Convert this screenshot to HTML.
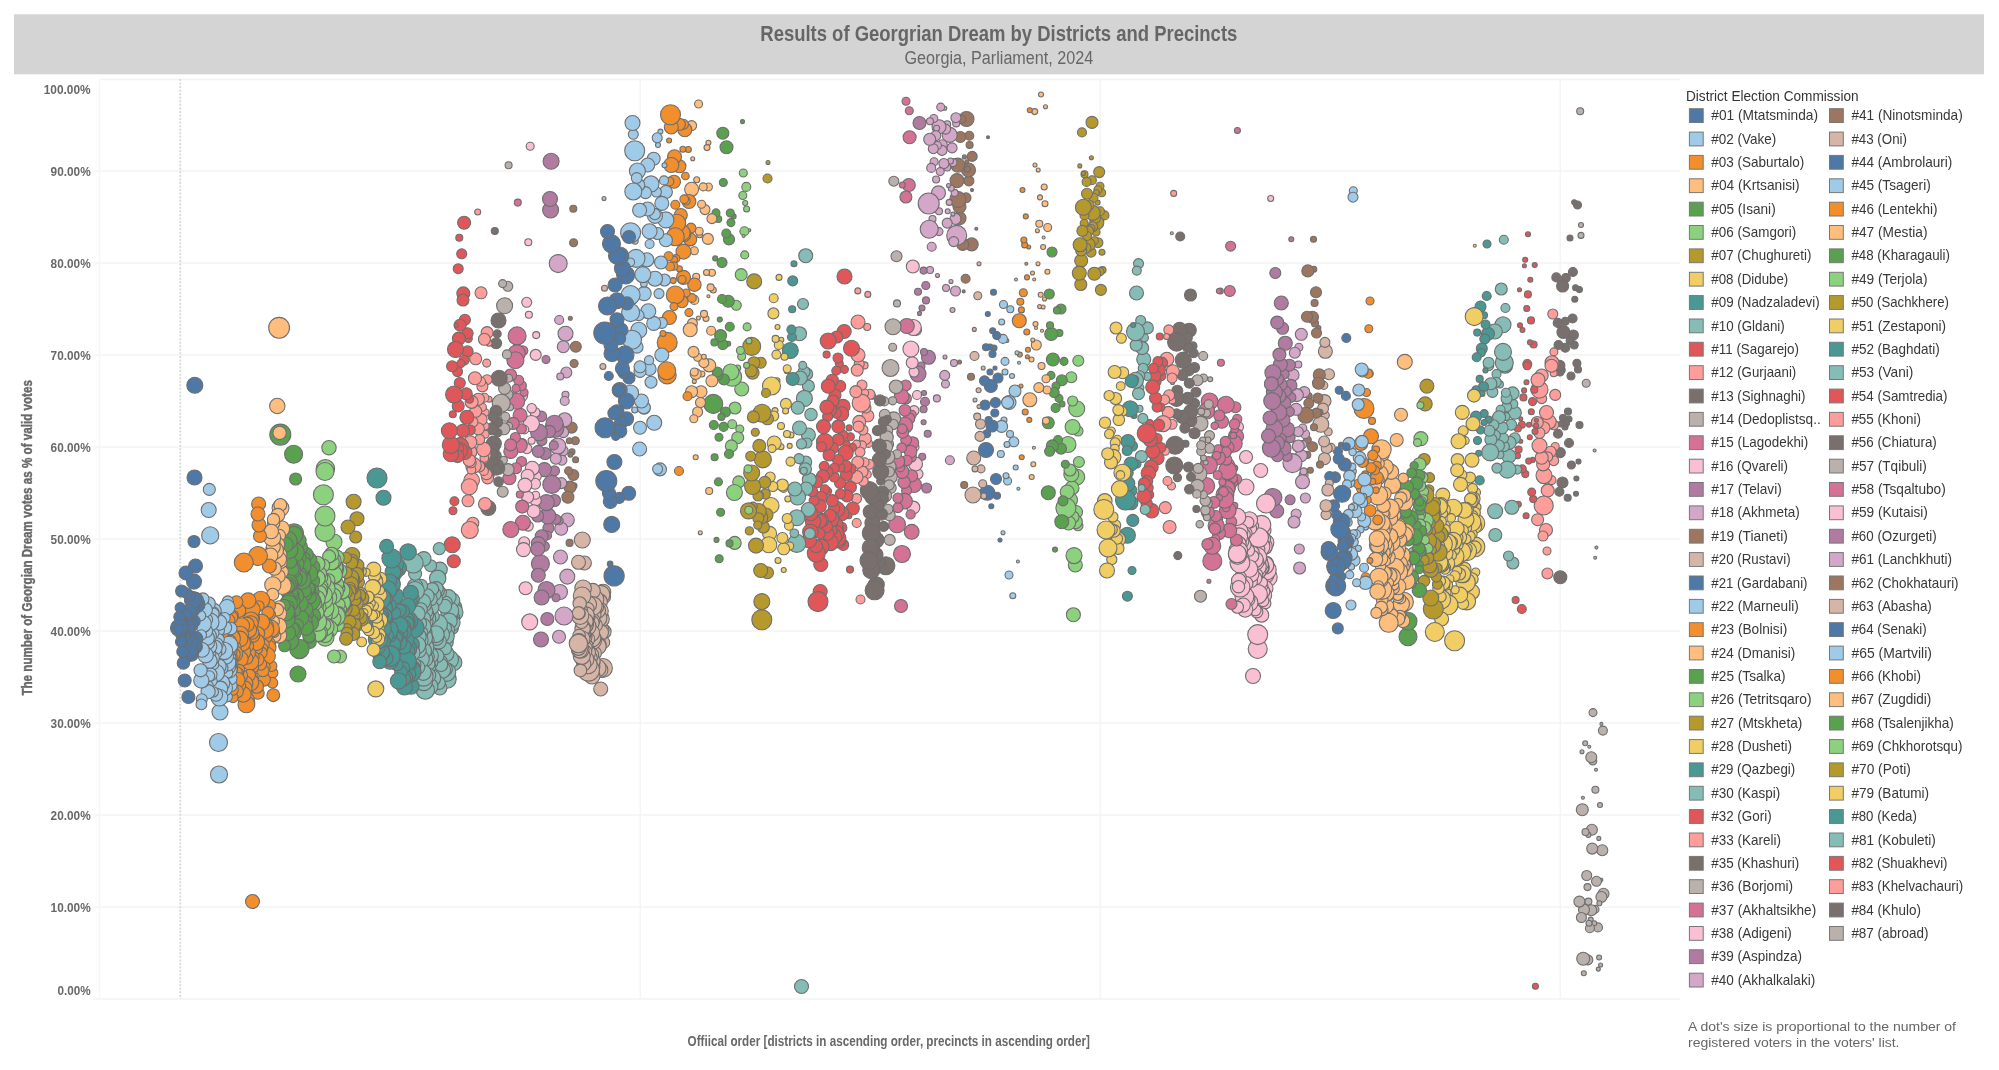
<!DOCTYPE html>
<html lang="en"><head><meta charset="utf-8"><title>Results of Georgrian Dream by Districts and Precincts</title>
<style>
html,body{margin:0;padding:0;background:#fff;overflow:hidden}
svg{display:block;will-change:transform}
text{font-family:"Liberation Sans",sans-serif}
.b{font-weight:bold;fill:#686868}
.l{font-size:14.4px;fill:#383838}
.g{stroke:#f3f3f3;stroke-width:1.5}
.c0{fill:#4E79A7}
.c1{fill:#A0CBE8}
.c2{fill:#F28E2B}
.c3{fill:#FFBE7D}
.c4{fill:#59A14F}
.c5{fill:#8CD17D}
.c6{fill:#B6992D}
.c7{fill:#F1CE63}
.c8{fill:#499894}
.c9{fill:#86BCB6}
.c10{fill:#E15759}
.c11{fill:#FF9D9A}
.c12{fill:#79706E}
.c13{fill:#BAB0AC}
.c14{fill:#D37295}
.c15{fill:#FABFD2}
.c16{fill:#B07AA1}
.c17{fill:#D4A6C8}
.c18{fill:#9D7660}
.c19{fill:#D7B5A6}
</style></head>
<body>
<svg width="1999" height="1070" viewBox="0 0 1999 1070">
<rect width="1999" height="1070" fill="#fff"/>
<rect x="14" y="14.3" width="1970" height="60" fill="#d4d4d4"/>
<text class="b" x="760.3" y="40.8" font-size="21.4" textLength="477" lengthAdjust="spacingAndGlyphs" style="fill:#666">Results of Georgrian Dream by Districts and Precincts</text>
<text x="904.5" y="64" font-size="17.6" textLength="188.8" lengthAdjust="spacingAndGlyphs" fill="#666">Georgia, Parliament, 2024</text>
<g class="g">
<line x1="93.5" y1="999" x2="1680" y2="999"/>
<line x1="93.5" y1="907" x2="1680" y2="907"/>
<line x1="93.5" y1="815" x2="1680" y2="815"/>
<line x1="93.5" y1="723" x2="1680" y2="723"/>
<line x1="93.5" y1="631" x2="1680" y2="631"/>
<line x1="93.5" y1="539" x2="1680" y2="539"/>
<line x1="93.5" y1="447" x2="1680" y2="447"/>
<line x1="93.5" y1="355" x2="1680" y2="355"/>
<line x1="93.5" y1="263" x2="1680" y2="263"/>
<line x1="93.5" y1="171" x2="1680" y2="171"/>
<line x1="99.5" y1="79.5" x2="1680" y2="79.5"/>
<line x1="99.6" y1="79" x2="99.6" y2="999" stroke="#f5f5f5"/>
<line x1="640.3" y1="79" x2="640.3" y2="999" stroke="#f5f5f5"/>
<line x1="1100.3" y1="79" x2="1100.3" y2="999" stroke="#f5f5f5"/>
<line x1="1560.3" y1="79" x2="1560.3" y2="999" stroke="#f5f5f5"/>
</g>
<line x1="180.3" y1="79" x2="180.3" y2="999" stroke="#d9d9d9" stroke-width="1.9" stroke-dasharray="2 1.55"/>
<text class="b" x="57.5" y="994.8" font-size="13.4" textLength="33.2" lengthAdjust="spacingAndGlyphs">0.00%</text>
<text class="b" x="50.6" y="911.8" font-size="13.4" textLength="40.1" lengthAdjust="spacingAndGlyphs">10.00%</text>
<text class="b" x="50.6" y="819.8" font-size="13.4" textLength="40.1" lengthAdjust="spacingAndGlyphs">20.00%</text>
<text class="b" x="50.6" y="727.8" font-size="13.4" textLength="40.1" lengthAdjust="spacingAndGlyphs">30.00%</text>
<text class="b" x="50.6" y="635.8" font-size="13.4" textLength="40.1" lengthAdjust="spacingAndGlyphs">40.00%</text>
<text class="b" x="50.6" y="543.8" font-size="13.4" textLength="40.1" lengthAdjust="spacingAndGlyphs">50.00%</text>
<text class="b" x="50.6" y="451.8" font-size="13.4" textLength="40.1" lengthAdjust="spacingAndGlyphs">60.00%</text>
<text class="b" x="50.6" y="359.8" font-size="13.4" textLength="40.1" lengthAdjust="spacingAndGlyphs">70.00%</text>
<text class="b" x="50.6" y="267.8" font-size="13.4" textLength="40.1" lengthAdjust="spacingAndGlyphs">80.00%</text>
<text class="b" x="50.6" y="175.8" font-size="13.4" textLength="40.1" lengthAdjust="spacingAndGlyphs">90.00%</text>
<text class="b" x="43.7" y="93.8" font-size="13.4" textLength="47.0" lengthAdjust="spacingAndGlyphs">100.00%</text>
<text class="b" transform="translate(31.6 695.6) rotate(-90)" font-size="13.9" stroke="#686868" stroke-width="0.4" textLength="315.5" lengthAdjust="spacingAndGlyphs">The number of Georgian Dream votes as % of valid votes</text>
<text class="b" x="687.6" y="1046" font-size="13.9" textLength="402.3" lengthAdjust="spacingAndGlyphs">Offiical order [districts in ascending order, precincts in ascending order]</text>
<text x="1686" y="100.5" font-size="14.8" textLength="172.6" lengthAdjust="spacingAndGlyphs" fill="#333">District Election Commission</text>
<g stroke="#777" stroke-width="1">
<rect class="c0" x="1689.4" y="108.7" width="13.8" height="13.8"/>
<rect class="c1" x="1689.4" y="132.1" width="13.8" height="13.8"/>
<rect class="c2" x="1689.4" y="155.4" width="13.8" height="13.8"/>
<rect class="c3" x="1689.4" y="178.8" width="13.8" height="13.8"/>
<rect class="c4" x="1689.4" y="202.2" width="13.8" height="13.8"/>
<rect class="c5" x="1689.4" y="225.5" width="13.8" height="13.8"/>
<rect class="c6" x="1689.4" y="248.9" width="13.8" height="13.8"/>
<rect class="c7" x="1689.4" y="272.3" width="13.8" height="13.8"/>
<rect class="c8" x="1689.4" y="295.6" width="13.8" height="13.8"/>
<rect class="c9" x="1689.4" y="319.0" width="13.8" height="13.8"/>
<rect class="c10" x="1689.4" y="342.3" width="13.8" height="13.8"/>
<rect class="c11" x="1689.4" y="365.7" width="13.8" height="13.8"/>
<rect class="c12" x="1689.4" y="389.1" width="13.8" height="13.8"/>
<rect class="c13" x="1689.4" y="412.4" width="13.8" height="13.8"/>
<rect class="c14" x="1689.4" y="435.8" width="13.8" height="13.8"/>
<rect class="c15" x="1689.4" y="459.2" width="13.8" height="13.8"/>
<rect class="c16" x="1689.4" y="482.5" width="13.8" height="13.8"/>
<rect class="c17" x="1689.4" y="505.9" width="13.8" height="13.8"/>
<rect class="c18" x="1689.4" y="529.3" width="13.8" height="13.8"/>
<rect class="c19" x="1689.4" y="552.6" width="13.8" height="13.8"/>
<rect class="c0" x="1689.4" y="576.0" width="13.8" height="13.8"/>
<rect class="c1" x="1689.4" y="599.4" width="13.8" height="13.8"/>
<rect class="c2" x="1689.4" y="622.7" width="13.8" height="13.8"/>
<rect class="c3" x="1689.4" y="646.1" width="13.8" height="13.8"/>
<rect class="c4" x="1689.4" y="669.5" width="13.8" height="13.8"/>
<rect class="c5" x="1689.4" y="692.8" width="13.8" height="13.8"/>
<rect class="c6" x="1689.4" y="716.2" width="13.8" height="13.8"/>
<rect class="c7" x="1689.4" y="739.6" width="13.8" height="13.8"/>
<rect class="c8" x="1689.4" y="762.9" width="13.8" height="13.8"/>
<rect class="c9" x="1689.4" y="786.3" width="13.8" height="13.8"/>
<rect class="c10" x="1689.4" y="809.6" width="13.8" height="13.8"/>
<rect class="c11" x="1689.4" y="833.0" width="13.8" height="13.8"/>
<rect class="c12" x="1689.4" y="856.4" width="13.8" height="13.8"/>
<rect class="c13" x="1689.4" y="879.7" width="13.8" height="13.8"/>
<rect class="c14" x="1689.4" y="903.1" width="13.8" height="13.8"/>
<rect class="c15" x="1689.4" y="926.5" width="13.8" height="13.8"/>
<rect class="c16" x="1689.4" y="949.8" width="13.8" height="13.8"/>
<rect class="c17" x="1689.4" y="973.2" width="13.8" height="13.8"/>
<rect class="c18" x="1829.5" y="108.7" width="13.8" height="13.8"/>
<rect class="c19" x="1829.5" y="132.1" width="13.8" height="13.8"/>
<rect class="c0" x="1829.5" y="155.4" width="13.8" height="13.8"/>
<rect class="c1" x="1829.5" y="178.8" width="13.8" height="13.8"/>
<rect class="c2" x="1829.5" y="202.2" width="13.8" height="13.8"/>
<rect class="c3" x="1829.5" y="225.5" width="13.8" height="13.8"/>
<rect class="c4" x="1829.5" y="248.9" width="13.8" height="13.8"/>
<rect class="c5" x="1829.5" y="272.3" width="13.8" height="13.8"/>
<rect class="c6" x="1829.5" y="295.6" width="13.8" height="13.8"/>
<rect class="c7" x="1829.5" y="319.0" width="13.8" height="13.8"/>
<rect class="c8" x="1829.5" y="342.3" width="13.8" height="13.8"/>
<rect class="c9" x="1829.5" y="365.7" width="13.8" height="13.8"/>
<rect class="c10" x="1829.5" y="389.1" width="13.8" height="13.8"/>
<rect class="c11" x="1829.5" y="412.4" width="13.8" height="13.8"/>
<rect class="c12" x="1829.5" y="435.8" width="13.8" height="13.8"/>
<rect class="c13" x="1829.5" y="459.2" width="13.8" height="13.8"/>
<rect class="c14" x="1829.5" y="482.5" width="13.8" height="13.8"/>
<rect class="c15" x="1829.5" y="505.9" width="13.8" height="13.8"/>
<rect class="c16" x="1829.5" y="529.3" width="13.8" height="13.8"/>
<rect class="c17" x="1829.5" y="552.6" width="13.8" height="13.8"/>
<rect class="c18" x="1829.5" y="576.0" width="13.8" height="13.8"/>
<rect class="c19" x="1829.5" y="599.4" width="13.8" height="13.8"/>
<rect class="c0" x="1829.5" y="622.7" width="13.8" height="13.8"/>
<rect class="c1" x="1829.5" y="646.1" width="13.8" height="13.8"/>
<rect class="c2" x="1829.5" y="669.5" width="13.8" height="13.8"/>
<rect class="c3" x="1829.5" y="692.8" width="13.8" height="13.8"/>
<rect class="c4" x="1829.5" y="716.2" width="13.8" height="13.8"/>
<rect class="c5" x="1829.5" y="739.6" width="13.8" height="13.8"/>
<rect class="c6" x="1829.5" y="762.9" width="13.8" height="13.8"/>
<rect class="c7" x="1829.5" y="786.3" width="13.8" height="13.8"/>
<rect class="c8" x="1829.5" y="809.6" width="13.8" height="13.8"/>
<rect class="c9" x="1829.5" y="833.0" width="13.8" height="13.8"/>
<rect class="c10" x="1829.5" y="856.4" width="13.8" height="13.8"/>
<rect class="c11" x="1829.5" y="879.7" width="13.8" height="13.8"/>
<rect class="c12" x="1829.5" y="903.1" width="13.8" height="13.8"/>
<rect class="c13" x="1829.5" y="926.5" width="13.8" height="13.8"/>
</g>
<g class="l">
<text x="1711.3" y="120.2" textLength="106.7" lengthAdjust="spacingAndGlyphs">#01 (Mtatsminda)</text>
<text x="1711.3" y="143.6" textLength="64.9" lengthAdjust="spacingAndGlyphs">#02 (Vake)</text>
<text x="1711.3" y="166.9" textLength="93.0" lengthAdjust="spacingAndGlyphs">#03 (Saburtalo)</text>
<text x="1711.3" y="190.3" textLength="88.4" lengthAdjust="spacingAndGlyphs">#04 (Krtsanisi)</text>
<text x="1711.3" y="213.7" textLength="64.4" lengthAdjust="spacingAndGlyphs">#05 (Isani)</text>
<text x="1711.3" y="237.0" textLength="85.0" lengthAdjust="spacingAndGlyphs">#06 (Samgori)</text>
<text x="1711.3" y="260.4" textLength="100.1" lengthAdjust="spacingAndGlyphs">#07 (Chughureti)</text>
<text x="1711.3" y="283.8" textLength="77.0" lengthAdjust="spacingAndGlyphs">#08 (Didube)</text>
<text x="1711.3" y="307.1" textLength="108.4" lengthAdjust="spacingAndGlyphs">#09 (Nadzaladevi)</text>
<text x="1711.3" y="330.5" textLength="73.5" lengthAdjust="spacingAndGlyphs">#10 (Gldani)</text>
<text x="1711.3" y="353.8" textLength="87.7" lengthAdjust="spacingAndGlyphs">#11 (Sagarejo)</text>
<text x="1711.3" y="377.2" textLength="85.0" lengthAdjust="spacingAndGlyphs">#12 (Gurjaani)</text>
<text x="1711.3" y="400.6" textLength="94.2" lengthAdjust="spacingAndGlyphs">#13 (Sighnaghi)</text>
<text x="1711.3" y="423.9" textLength="109.4" lengthAdjust="spacingAndGlyphs">#14 (Dedoplistsq..</text>
<text x="1711.3" y="447.3" textLength="97.0" lengthAdjust="spacingAndGlyphs">#15 (Lagodekhi)</text>
<text x="1711.3" y="470.7" textLength="76.7" lengthAdjust="spacingAndGlyphs">#16 (Qvareli)</text>
<text x="1711.3" y="494.0" textLength="70.4" lengthAdjust="spacingAndGlyphs">#17 (Telavi)</text>
<text x="1711.3" y="517.4" textLength="88.5" lengthAdjust="spacingAndGlyphs">#18 (Akhmeta)</text>
<text x="1711.3" y="540.8" textLength="76.5" lengthAdjust="spacingAndGlyphs">#19 (Tianeti)</text>
<text x="1711.3" y="564.1" textLength="79.3" lengthAdjust="spacingAndGlyphs">#20 (Rustavi)</text>
<text x="1711.3" y="587.5" textLength="96.2" lengthAdjust="spacingAndGlyphs">#21 (Gardabani)</text>
<text x="1711.3" y="610.9" textLength="87.4" lengthAdjust="spacingAndGlyphs">#22 (Marneuli)</text>
<text x="1711.3" y="634.2" textLength="76.0" lengthAdjust="spacingAndGlyphs">#23 (Bolnisi)</text>
<text x="1711.3" y="657.6" textLength="83.9" lengthAdjust="spacingAndGlyphs">#24 (Dmanisi)</text>
<text x="1711.3" y="681.0" textLength="74.2" lengthAdjust="spacingAndGlyphs">#25 (Tsalka)</text>
<text x="1711.3" y="704.3" textLength="100.3" lengthAdjust="spacingAndGlyphs">#26 (Tetritsqaro)</text>
<text x="1711.3" y="727.7" textLength="91.1" lengthAdjust="spacingAndGlyphs">#27 (Mtskheta)</text>
<text x="1711.3" y="751.1" textLength="80.7" lengthAdjust="spacingAndGlyphs">#28 (Dusheti)</text>
<text x="1711.3" y="774.4" textLength="83.9" lengthAdjust="spacingAndGlyphs">#29 (Qazbegi)</text>
<text x="1711.3" y="797.8" textLength="68.9" lengthAdjust="spacingAndGlyphs">#30 (Kaspi)</text>
<text x="1711.3" y="821.1" textLength="60.3" lengthAdjust="spacingAndGlyphs">#32 (Gori)</text>
<text x="1711.3" y="844.5" textLength="69.6" lengthAdjust="spacingAndGlyphs">#33 (Kareli)</text>
<text x="1711.3" y="867.9" textLength="87.8" lengthAdjust="spacingAndGlyphs">#35 (Khashuri)</text>
<text x="1711.3" y="891.2" textLength="81.8" lengthAdjust="spacingAndGlyphs">#36 (Borjomi)</text>
<text x="1711.3" y="914.6" textLength="104.9" lengthAdjust="spacingAndGlyphs">#37 (Akhaltsikhe)</text>
<text x="1711.3" y="938.0" textLength="80.5" lengthAdjust="spacingAndGlyphs">#38 (Adigeni)</text>
<text x="1711.3" y="961.3" textLength="90.7" lengthAdjust="spacingAndGlyphs">#39 (Aspindza)</text>
<text x="1711.3" y="984.7" textLength="103.9" lengthAdjust="spacingAndGlyphs">#40 (Akhalkalaki)</text>
<text x="1851.4" y="120.2" textLength="111.3" lengthAdjust="spacingAndGlyphs">#41 (Ninotsminda)</text>
<text x="1851.4" y="143.6" textLength="55.6" lengthAdjust="spacingAndGlyphs">#43 (Oni)</text>
<text x="1851.4" y="166.9" textLength="101.0" lengthAdjust="spacingAndGlyphs">#44 (Ambrolauri)</text>
<text x="1851.4" y="190.3" textLength="79.3" lengthAdjust="spacingAndGlyphs">#45 (Tsageri)</text>
<text x="1851.4" y="213.7" textLength="86.2" lengthAdjust="spacingAndGlyphs">#46 (Lentekhi)</text>
<text x="1851.4" y="237.0" textLength="76.1" lengthAdjust="spacingAndGlyphs">#47 (Mestia)</text>
<text x="1851.4" y="260.4" textLength="98.6" lengthAdjust="spacingAndGlyphs">#48 (Kharagauli)</text>
<text x="1851.4" y="283.8" textLength="76.1" lengthAdjust="spacingAndGlyphs">#49 (Terjola)</text>
<text x="1851.4" y="307.1" textLength="97.5" lengthAdjust="spacingAndGlyphs">#50 (Sachkhere)</text>
<text x="1851.4" y="330.5" textLength="94.7" lengthAdjust="spacingAndGlyphs">#51 (Zestaponi)</text>
<text x="1851.4" y="353.8" textLength="88.4" lengthAdjust="spacingAndGlyphs">#52 (Baghdati)</text>
<text x="1851.4" y="377.2" textLength="62.0" lengthAdjust="spacingAndGlyphs">#53 (Vani)</text>
<text x="1851.4" y="400.6" textLength="96.1" lengthAdjust="spacingAndGlyphs">#54 (Samtredia)</text>
<text x="1851.4" y="423.9" textLength="69.5" lengthAdjust="spacingAndGlyphs">#55 (Khoni)</text>
<text x="1851.4" y="447.3" textLength="85.4" lengthAdjust="spacingAndGlyphs">#56 (Chiatura)</text>
<text x="1851.4" y="470.7" textLength="75.4" lengthAdjust="spacingAndGlyphs">#57 (Tqibuli)</text>
<text x="1851.4" y="494.0" textLength="94.4" lengthAdjust="spacingAndGlyphs">#58 (Tsqaltubo)</text>
<text x="1851.4" y="517.4" textLength="76.5" lengthAdjust="spacingAndGlyphs">#59 (Kutaisi)</text>
<text x="1851.4" y="540.8" textLength="85.4" lengthAdjust="spacingAndGlyphs">#60 (Ozurgeti)</text>
<text x="1851.4" y="564.1" textLength="100.7" lengthAdjust="spacingAndGlyphs">#61 (Lanchkhuti)</text>
<text x="1851.4" y="587.5" textLength="107.2" lengthAdjust="spacingAndGlyphs">#62 (Chokhatauri)</text>
<text x="1851.4" y="610.9" textLength="80.4" lengthAdjust="spacingAndGlyphs">#63 (Abasha)</text>
<text x="1851.4" y="634.2" textLength="75.3" lengthAdjust="spacingAndGlyphs">#64 (Senaki)</text>
<text x="1851.4" y="657.6" textLength="80.5" lengthAdjust="spacingAndGlyphs">#65 (Martvili)</text>
<text x="1851.4" y="681.0" textLength="69.7" lengthAdjust="spacingAndGlyphs">#66 (Khobi)</text>
<text x="1851.4" y="704.3" textLength="80.0" lengthAdjust="spacingAndGlyphs">#67 (Zugdidi)</text>
<text x="1851.4" y="727.7" textLength="102.5" lengthAdjust="spacingAndGlyphs">#68 (Tsalenjikha)</text>
<text x="1851.4" y="751.1" textLength="111.1" lengthAdjust="spacingAndGlyphs">#69 (Chkhorotsqu)</text>
<text x="1851.4" y="774.4" textLength="59.5" lengthAdjust="spacingAndGlyphs">#70 (Poti)</text>
<text x="1851.4" y="797.8" textLength="77.7" lengthAdjust="spacingAndGlyphs">#79 (Batumi)</text>
<text x="1851.4" y="821.1" textLength="65.5" lengthAdjust="spacingAndGlyphs">#80 (Keda)</text>
<text x="1851.4" y="844.5" textLength="84.4" lengthAdjust="spacingAndGlyphs">#81 (Kobuleti)</text>
<text x="1851.4" y="867.9" textLength="96.1" lengthAdjust="spacingAndGlyphs">#82 (Shuakhevi)</text>
<text x="1851.4" y="891.2" textLength="111.8" lengthAdjust="spacingAndGlyphs">#83 (Khelvachauri)</text>
<text x="1851.4" y="914.6" textLength="69.5" lengthAdjust="spacingAndGlyphs">#84 (Khulo)</text>
<text x="1851.4" y="938.0" textLength="77.0" lengthAdjust="spacingAndGlyphs">#87 (abroad)</text>
</g>
<text x="1688" y="1030.7" font-size="13.2" fill="#666" textLength="268" lengthAdjust="spacingAndGlyphs">A dot's size is proportional to the number of</text>
<text x="1688" y="1047.3" font-size="13.2" fill="#666" textLength="211.5" lengthAdjust="spacingAndGlyphs">registered voters in the voters' list.</text>
<g stroke="#6e6e6e" stroke-width="1.1">
<g class="c13"><circle cx="1603.5" cy="893.8" r="5.5"/><circle cx="1602.9" cy="730.6" r="4.5"/><circle cx="1602.3" cy="850.3" r="5.5"/><circle cx="1601.4" cy="897.0" r="5.5"/><circle cx="1601.4" cy="879.9" r="1.5"/><circle cx="1601.4" cy="723.9" r="1.5"/><circle cx="1600.6" cy="965.0" r="2.0"/><circle cx="1600.0" cy="805.0" r="2.5"/><circle cx="1599.4" cy="903.3" r="2.5"/><circle cx="1599.1" cy="957.5" r="2.5"/><circle cx="1598.8" cy="838.4" r="2.0"/><circle cx="1598.3" cy="969.1" r="2.0"/><circle cx="1598.0" cy="927.4" r="4.5"/><circle cx="1596.5" cy="881.3" r="5.0"/><circle cx="1596.4" cy="547.6" r="1.5"/><circle cx="1596.0" cy="769.7" r="1.5"/><circle cx="1595.4" cy="789.7" r="3.5"/><circle cx="1595.2" cy="557.8" r="1.5"/><circle cx="1595.0" cy="909.4" r="4.0"/><circle cx="1594.6" cy="450.5" r="1.5"/><circle cx="1594.2" cy="923.3" r="2.5"/><circle cx="1593.0" cy="712.6" r="4.0"/><circle cx="1592.8" cy="761.0" r="4.0"/><circle cx="1592.2" cy="848.6" r="5.5"/><circle cx="1591.9" cy="829.7" r="5.5"/><circle cx="1591.3" cy="910.3" r="5.5"/><circle cx="1591.3" cy="757.2" r="5.5"/><circle cx="1590.7" cy="919.6" r="2.5"/><circle cx="1589.9" cy="928.3" r="4.5"/><circle cx="1589.3" cy="746.8" r="1.5"/><circle cx="1589.0" cy="923.3" r="3.0"/><circle cx="1588.4" cy="901.6" r="3.5"/><circle cx="1588.4" cy="834.9" r="2.5"/><circle cx="1587.8" cy="959.9" r="5.0"/><circle cx="1587.5" cy="887.1" r="3.5"/><circle cx="1586.7" cy="875.5" r="5.0"/><circle cx="1586.2" cy="383.3" r="4.0"/><circle cx="1585.5" cy="832.0" r="3.5"/><circle cx="1585.2" cy="743.3" r="2.5"/><circle cx="1584.0" cy="909.7" r="5.5"/><circle cx="1583.8" cy="973.2" r="2.5"/><circle cx="1583.2" cy="958.7" r="6.5"/><circle cx="1582.9" cy="797.8" r="1.5"/><circle cx="1582.3" cy="809.7" r="6.0"/><circle cx="1582.0" cy="751.7" r="2.0"/><circle cx="1581.4" cy="917.5" r="5.0"/><circle cx="1581.0" cy="235.4" r="3.0"/><circle cx="1581.0" cy="225.0" r="2.5"/><circle cx="1580.2" cy="111.3" r="3.5"/><circle cx="1579.4" cy="901.6" r="5.5"/></g>
<g class="c12"><circle cx="1579.5" cy="425.0" r="3.5"/><circle cx="1579.4" cy="289.6" r="3.0"/><circle cx="1578.5" cy="461.6" r="2.5"/><circle cx="1578.0" cy="369.5" r="3.5"/><circle cx="1577.5" cy="205.0" r="4.0"/><circle cx="1576.9" cy="363.2" r="4.0"/><circle cx="1576.4" cy="478.5" r="2.5"/><circle cx="1576.0" cy="493.7" r="2.5"/><circle cx="1575.6" cy="287.7" r="3.0"/><circle cx="1574.8" cy="299.3" r="3.0"/><circle cx="1574.2" cy="345.0" r="4.0"/><circle cx="1574.2" cy="202.3" r="2.5"/><circle cx="1573.4" cy="335.0" r="5.0"/><circle cx="1572.9" cy="272.0" r="4.5"/><circle cx="1572.6" cy="318.5" r="4.5"/><circle cx="1571.4" cy="465.0" r="4.0"/><circle cx="1571.0" cy="376.0" r="4.0"/><circle cx="1570.1" cy="340.5" r="4.0"/><circle cx="1570.0" cy="238.0" r="3.0"/><circle cx="1569.0" cy="443.0" r="4.5"/><circle cx="1569.0" cy="419.0" r="3.0"/><circle cx="1568.0" cy="411.6" r="3.5"/><circle cx="1567.7" cy="497.7" r="3.5"/><circle cx="1566.0" cy="423.0" r="3.5"/><circle cx="1565.8" cy="278.0" r="4.5"/><circle cx="1565.3" cy="347.8" r="4.5"/><circle cx="1565.3" cy="321.3" r="4.0"/><circle cx="1565.0" cy="427.0" r="3.0"/><circle cx="1563.4" cy="332.0" r="6.5"/><circle cx="1563.0" cy="418.0" r="3.5"/><circle cx="1562.6" cy="286.0" r="6.0"/><circle cx="1562.5" cy="482.5" r="5.5"/><circle cx="1561.7" cy="370.0" r="3.5"/><circle cx="1561.0" cy="424.0" r="3.0"/><circle cx="1560.3" cy="577.2" r="6.5"/><circle cx="1560.3" cy="452.6" r="5.0"/><circle cx="1560.0" cy="372.0" r="4.0"/><circle cx="1559.9" cy="365.4" r="5.0"/><circle cx="1559.4" cy="491.8" r="4.5"/><circle cx="1558.5" cy="345.0" r="4.5"/><circle cx="1558.0" cy="433.8" r="4.5"/><circle cx="1557.7" cy="322.9" r="4.5"/><circle cx="1556.3" cy="277.4" r="4.5"/></g>
<g class="c11"><circle cx="1555.2" cy="446.5" r="4.0"/><circle cx="1555.2" cy="394.9" r="5.5"/><circle cx="1553.9" cy="351.9" r="4.0"/><circle cx="1553.7" cy="460.7" r="5.0"/><circle cx="1553.7" cy="424.8" r="5.0"/><circle cx="1553.7" cy="373.2" r="3.5"/><circle cx="1552.8" cy="314.0" r="5.0"/><circle cx="1552.0" cy="362.7" r="7.0"/><circle cx="1551.5" cy="480.1" r="4.5"/><circle cx="1551.5" cy="365.7" r="6.5"/><circle cx="1550.7" cy="451.7" r="5.5"/><circle cx="1549.2" cy="421.8" r="7.0"/><circle cx="1547.7" cy="490.6" r="6.5"/><circle cx="1547.7" cy="456.9" r="5.0"/><circle cx="1547.4" cy="573.5" r="5.5"/><circle cx="1547.0" cy="551.0" r="4.0"/><circle cx="1546.5" cy="412.5" r="7.0"/><circle cx="1546.0" cy="530.0" r="6.5"/><circle cx="1544.0" cy="475.6" r="8.0"/><circle cx="1544.0" cy="427.8" r="6.0"/><circle cx="1543.7" cy="505.5" r="9.5"/><circle cx="1543.2" cy="464.4" r="6.5"/><circle cx="1543.0" cy="536.0" r="5.0"/><circle cx="1541.7" cy="457.7" r="6.5"/><circle cx="1541.7" cy="398.6" r="5.0"/><circle cx="1541.7" cy="375.5" r="6.5"/><circle cx="1539.5" cy="445.7" r="7.5"/><circle cx="1539.5" cy="433.0" r="5.5"/><circle cx="1539.5" cy="389.7" r="8.5"/><circle cx="1538.0" cy="379.9" r="7.0"/><circle cx="1537.6" cy="519.7" r="6.0"/><circle cx="1537.3" cy="422.5" r="6.0"/></g>
<g class="c10"><circle cx="1536.5" cy="420.3" r="2.0"/><circle cx="1536.2" cy="425.5" r="2.5"/><circle cx="1535.4" cy="986.2" r="3.0"/><circle cx="1535.0" cy="431.5" r="3.0"/><circle cx="1534.7" cy="265.0" r="2.5"/><circle cx="1534.3" cy="389.7" r="3.5"/><circle cx="1533.6" cy="344.5" r="3.5"/><circle cx="1533.2" cy="499.1" r="3.5"/><circle cx="1532.8" cy="459.9" r="2.5"/><circle cx="1532.5" cy="401.6" r="4.0"/><circle cx="1531.7" cy="492.1" r="4.0"/><circle cx="1531.3" cy="411.8" r="3.0"/><circle cx="1531.0" cy="320.4" r="3.5"/><circle cx="1530.3" cy="279.8" r="2.5"/><circle cx="1530.0" cy="342.4" r="2.5"/><circle cx="1529.8" cy="437.2" r="2.5"/><circle cx="1529.0" cy="424.8" r="2.5"/><circle cx="1528.7" cy="461.1" r="3.0"/><circle cx="1528.0" cy="234.3" r="2.5"/><circle cx="1527.9" cy="294.4" r="3.5"/><circle cx="1527.3" cy="364.0" r="4.5"/><circle cx="1527.2" cy="365.7" r="4.0"/><circle cx="1526.8" cy="308.5" r="3.0"/><circle cx="1526.5" cy="382.2" r="2.5"/><circle cx="1526.1" cy="515.7" r="3.0"/><circle cx="1525.3" cy="474.1" r="3.5"/><circle cx="1525.2" cy="259.7" r="2.5"/><circle cx="1524.4" cy="265.7" r="2.0"/><circle cx="1524.1" cy="390.4" r="2.5"/><circle cx="1523.4" cy="397.4" r="3.5"/><circle cx="1522.5" cy="330.0" r="2.5"/><circle cx="1522.3" cy="468.9" r="4.0"/><circle cx="1521.9" cy="424.8" r="3.5"/><circle cx="1521.8" cy="609.0" r="4.5"/><circle cx="1520.8" cy="441.2" r="2.0"/><circle cx="1520.8" cy="418.8" r="2.0"/><circle cx="1520.0" cy="325.3" r="2.5"/><circle cx="1519.5" cy="289.8" r="2.0"/><circle cx="1518.6" cy="449.5" r="3.5"/><circle cx="1518.3" cy="504.3" r="3.0"/><circle cx="1517.8" cy="428.5" r="3.5"/><circle cx="1517.5" cy="455.7" r="3.0"/><circle cx="1515.6" cy="600.0" r="3.5"/></g>
<g class="c9"><circle cx="1517.1" cy="469.6" r="4.5"/><circle cx="1514.8" cy="438.2" r="5.5"/><circle cx="1514.8" cy="412.8" r="6.5"/><circle cx="1513.3" cy="403.9" r="4.5"/><circle cx="1512.9" cy="563.0" r="6.0"/><circle cx="1512.6" cy="393.4" r="6.5"/><circle cx="1511.9" cy="507.3" r="7.0"/><circle cx="1511.1" cy="424.8" r="5.5"/><circle cx="1509.6" cy="442.7" r="6.5"/><circle cx="1508.9" cy="456.2" r="7.0"/><circle cx="1508.5" cy="556.0" r="5.0"/><circle cx="1507.4" cy="469.6" r="8.5"/><circle cx="1506.6" cy="406.9" r="5.0"/><circle cx="1506.6" cy="398.6" r="5.5"/><circle cx="1505.9" cy="416.6" r="4.0"/><circle cx="1505.9" cy="392.7" r="4.5"/><circle cx="1505.4" cy="308.0" r="4.5"/><circle cx="1505.1" cy="365.7" r="7.5"/><circle cx="1504.4" cy="446.5" r="5.0"/><circle cx="1504.3" cy="362.7" r="9.0"/><circle cx="1503.8" cy="239.7" r="4.5"/><circle cx="1503.6" cy="438.2" r="5.0"/><circle cx="1503.0" cy="351.9" r="8.5"/><circle cx="1503.0" cy="324.8" r="8.0"/><circle cx="1502.1" cy="427.8" r="6.0"/><circle cx="1501.3" cy="289.0" r="6.0"/><circle cx="1500.6" cy="409.8" r="4.5"/><circle cx="1499.9" cy="454.7" r="4.0"/><circle cx="1499.9" cy="384.4" r="3.5"/><circle cx="1499.1" cy="417.3" r="6.5"/><circle cx="1498.4" cy="445.7" r="6.0"/><circle cx="1496.9" cy="468.1" r="5.0"/><circle cx="1496.5" cy="374.0" r="4.5"/><circle cx="1496.2" cy="382.2" r="5.0"/><circle cx="1495.4" cy="435.3" r="5.0"/><circle cx="1495.3" cy="535.0" r="6.5"/><circle cx="1495.1" cy="511.2" r="7.5"/><circle cx="1494.8" cy="331.5" r="7.5"/><circle cx="1493.9" cy="424.8" r="5.0"/><circle cx="1492.4" cy="391.9" r="5.5"/><circle cx="1490.9" cy="439.7" r="6.0"/><circle cx="1490.9" cy="383.7" r="6.0"/><circle cx="1490.2" cy="452.4" r="8.5"/><circle cx="1489.4" cy="430.8" r="5.5"/><circle cx="1488.7" cy="365.7" r="5.0"/><circle cx="1488.6" cy="362.7" r="5.5"/></g>
<g class="c8"><circle cx="1488.7" cy="419.6" r="3.5"/><circle cx="1488.0" cy="333.7" r="6.5"/><circle cx="1487.0" cy="244.0" r="4.0"/><circle cx="1486.7" cy="296.0" r="4.5"/><circle cx="1485.6" cy="324.5" r="4.5"/><circle cx="1485.4" cy="370.5" r="2.5"/><circle cx="1484.8" cy="338.9" r="5.0"/><circle cx="1484.2" cy="422.5" r="3.0"/><circle cx="1484.2" cy="413.6" r="4.0"/><circle cx="1484.0" cy="315.3" r="3.5"/><circle cx="1483.5" cy="386.7" r="5.0"/><circle cx="1482.0" cy="393.4" r="3.0"/><circle cx="1481.8" cy="348.6" r="5.5"/><circle cx="1481.3" cy="352.7" r="4.0"/><circle cx="1480.5" cy="430.0" r="4.0"/><circle cx="1480.5" cy="306.6" r="5.5"/><circle cx="1479.7" cy="480.4" r="4.5"/><circle cx="1479.7" cy="378.9" r="3.5"/><circle cx="1478.7" cy="453.2" r="3.0"/><circle cx="1477.5" cy="440.5" r="4.0"/><circle cx="1477.2" cy="332.6" r="3.5"/><circle cx="1476.7" cy="357.3" r="4.5"/><circle cx="1476.0" cy="416.6" r="5.5"/><circle cx="1476.0" cy="389.7" r="4.0"/></g>
<g class="c7"><circle cx="1476.0" cy="507.2" r="5.0"/><circle cx="1476.0" cy="492.4" r="4.5"/><circle cx="1475.7" cy="572.1" r="4.1"/><circle cx="1475.5" cy="523.3" r="9.3"/><circle cx="1475.0" cy="546.8" r="9.9"/><circle cx="1475.0" cy="512.6" r="5.4"/><circle cx="1474.8" cy="245.7" r="1.5"/><circle cx="1474.8" cy="547.3" r="6.4"/><circle cx="1474.3" cy="526.1" r="7.5"/><circle cx="1474.2" cy="316.6" r="9.0"/><circle cx="1474.0" cy="395.6" r="6.5"/><circle cx="1473.3" cy="498.7" r="6.8"/><circle cx="1473.2" cy="503.1" r="4.7"/><circle cx="1473.0" cy="516.3" r="4.0"/><circle cx="1473.0" cy="515.3" r="4.7"/><circle cx="1473.0" cy="423.8" r="7.0"/><circle cx="1472.6" cy="488.4" r="5.0"/><circle cx="1472.3" cy="533.9" r="4.9"/><circle cx="1472.0" cy="460.1" r="7.0"/><circle cx="1472.0" cy="578.9" r="6.2"/><circle cx="1471.8" cy="497.6" r="5.6"/><circle cx="1471.8" cy="591.8" r="7.7"/><circle cx="1471.7" cy="500.7" r="6.5"/><circle cx="1471.6" cy="522.1" r="9.3"/><circle cx="1470.6" cy="499.2" r="6.0"/><circle cx="1470.3" cy="536.1" r="4.9"/><circle cx="1470.0" cy="477.6" r="5.5"/><circle cx="1467.1" cy="551.1" r="9.5"/><circle cx="1466.9" cy="601.2" r="8.7"/><circle cx="1466.8" cy="548.8" r="5.4"/><circle cx="1466.2" cy="527.5" r="5.5"/><circle cx="1466.1" cy="539.0" r="4.9"/><circle cx="1466.0" cy="519.6" r="8.0"/><circle cx="1465.9" cy="509.9" r="7.5"/><circle cx="1465.6" cy="582.4" r="9.7"/><circle cx="1465.2" cy="440.6" r="4.0"/><circle cx="1464.4" cy="568.7" r="6.6"/><circle cx="1464.4" cy="510.4" r="7.8"/><circle cx="1463.8" cy="576.5" r="6.3"/><circle cx="1463.2" cy="430.8" r="5.0"/><circle cx="1463.0" cy="603.7" r="5.7"/><circle cx="1462.3" cy="412.4" r="7.0"/><circle cx="1462.1" cy="530.6" r="6.3"/><circle cx="1461.9" cy="474.9" r="5.0"/><circle cx="1461.8" cy="573.8" r="8.8"/><circle cx="1461.0" cy="552.0" r="9.8"/><circle cx="1460.5" cy="484.4" r="7.0"/><circle cx="1459.9" cy="594.9" r="7.8"/><circle cx="1459.6" cy="574.0" r="6.0"/><circle cx="1459.5" cy="539.9" r="5.9"/><circle cx="1459.2" cy="537.1" r="7.5"/><circle cx="1459.1" cy="560.5" r="4.6"/><circle cx="1458.7" cy="545.3" r="4.3"/><circle cx="1458.5" cy="441.3" r="7.5"/><circle cx="1457.6" cy="460.1" r="6.5"/><circle cx="1457.3" cy="538.0" r="5.7"/><circle cx="1457.2" cy="570.8" r="4.7"/><circle cx="1457.2" cy="470.2" r="6.5"/><circle cx="1456.6" cy="561.3" r="5.5"/><circle cx="1456.6" cy="528.7" r="7.5"/><circle cx="1455.9" cy="556.7" r="6.2"/><circle cx="1455.2" cy="511.3" r="5.5"/><circle cx="1455.1" cy="589.8" r="4.1"/><circle cx="1454.8" cy="576.1" r="5.3"/><circle cx="1454.6" cy="640.7" r="10.0"/><circle cx="1454.3" cy="556.3" r="9.7"/><circle cx="1454.2" cy="549.8" r="5.6"/><circle cx="1453.1" cy="508.2" r="9.0"/><circle cx="1453.0" cy="541.1" r="8.7"/><circle cx="1451.2" cy="517.9" r="4.3"/><circle cx="1450.9" cy="555.2" r="5.6"/><circle cx="1450.8" cy="542.4" r="6.7"/><circle cx="1449.7" cy="579.1" r="4.3"/><circle cx="1448.1" cy="604.8" r="9.9"/><circle cx="1447.3" cy="585.2" r="5.4"/><circle cx="1446.7" cy="543.2" r="9.8"/><circle cx="1446.4" cy="592.7" r="4.6"/><circle cx="1446.4" cy="563.5" r="8.3"/><circle cx="1446.4" cy="567.3" r="4.2"/><circle cx="1446.4" cy="553.6" r="6.6"/><circle cx="1445.6" cy="586.3" r="4.1"/><circle cx="1445.4" cy="525.5" r="4.5"/><circle cx="1445.0" cy="569.5" r="4.8"/><circle cx="1444.5" cy="530.0" r="5.9"/><circle cx="1444.4" cy="509.9" r="6.0"/><circle cx="1444.4" cy="534.2" r="4.2"/><circle cx="1443.6" cy="566.0" r="5.2"/><circle cx="1443.2" cy="583.0" r="6.9"/><circle cx="1443.0" cy="513.4" r="4.7"/><circle cx="1442.8" cy="495.1" r="7.0"/><circle cx="1442.5" cy="565.5" r="4.5"/><circle cx="1442.4" cy="544.0" r="10.0"/><circle cx="1441.6" cy="619.0" r="7.0"/><circle cx="1441.3" cy="599.4" r="9.4"/><circle cx="1441.0" cy="521.7" r="5.3"/><circle cx="1440.9" cy="504.6" r="7.0"/><circle cx="1440.8" cy="596.7" r="5.4"/><circle cx="1440.4" cy="564.0" r="8.5"/><circle cx="1440.4" cy="581.1" r="5.2"/><circle cx="1440.0" cy="545.4" r="4.7"/><circle cx="1440.0" cy="558.2" r="6.4"/><circle cx="1439.5" cy="554.2" r="5.1"/><circle cx="1439.2" cy="506.6" r="8.2"/><circle cx="1438.5" cy="588.4" r="5.7"/><circle cx="1438.4" cy="559.0" r="5.7"/><circle cx="1438.2" cy="550.6" r="6.0"/><circle cx="1438.0" cy="562.5" r="9.9"/><circle cx="1436.9" cy="532.5" r="4.1"/><circle cx="1434.8" cy="632.0" r="9.5"/></g>
<g class="c6"><circle cx="1439.5" cy="534.4" r="8.5"/><circle cx="1438.9" cy="536.8" r="6.1"/><circle cx="1438.3" cy="552.3" r="8.9"/><circle cx="1437.4" cy="584.3" r="5.0"/><circle cx="1437.1" cy="568.1" r="5.1"/><circle cx="1436.6" cy="525.8" r="7.2"/><circle cx="1436.4" cy="577.0" r="5.1"/><circle cx="1435.9" cy="543.9" r="5.3"/><circle cx="1435.3" cy="502.8" r="5.3"/><circle cx="1433.3" cy="609.0" r="10.0"/><circle cx="1433.1" cy="514.4" r="8.0"/><circle cx="1433.0" cy="509.9" r="7.0"/><circle cx="1433.0" cy="516.4" r="6.9"/><circle cx="1431.9" cy="544.9" r="8.9"/><circle cx="1431.9" cy="507.7" r="8.0"/><circle cx="1431.4" cy="549.9" r="5.0"/><circle cx="1430.9" cy="569.7" r="7.7"/><circle cx="1430.8" cy="598.0" r="8.0"/><circle cx="1429.9" cy="531.6" r="5.7"/><circle cx="1429.9" cy="523.4" r="5.3"/><circle cx="1429.6" cy="565.7" r="7.2"/><circle cx="1429.6" cy="477.6" r="5.0"/><circle cx="1428.9" cy="489.7" r="5.0"/><circle cx="1427.9" cy="540.9" r="8.7"/><circle cx="1427.6" cy="556.0" r="5.6"/><circle cx="1427.2" cy="558.0" r="6.6"/><circle cx="1427.1" cy="530.0" r="5.3"/><circle cx="1426.9" cy="386.1" r="7.0"/><circle cx="1425.2" cy="403.9" r="7.0"/><circle cx="1424.9" cy="495.1" r="9.0"/><circle cx="1424.2" cy="459.5" r="6.0"/><circle cx="1424.1" cy="581.1" r="5.7"/><circle cx="1423.9" cy="560.2" r="5.3"/><circle cx="1423.4" cy="521.7" r="5.5"/><circle cx="1422.2" cy="547.2" r="8.4"/></g>
<g class="c5"><circle cx="1428.0" cy="548.3" r="5.0"/><circle cx="1425.7" cy="520.5" r="7.6"/><circle cx="1424.7" cy="540.1" r="4.6"/><circle cx="1424.5" cy="527.8" r="6.6"/><circle cx="1423.9" cy="491.6" r="4.7"/><circle cx="1423.5" cy="499.0" r="4.3"/><circle cx="1421.5" cy="477.6" r="6.5"/><circle cx="1421.1" cy="515.1" r="4.4"/><circle cx="1420.9" cy="438.6" r="7.0"/><circle cx="1420.4" cy="502.4" r="6.2"/><circle cx="1420.4" cy="405.2" r="3.5"/><circle cx="1420.2" cy="485.7" r="5.5"/><circle cx="1420.2" cy="517.1" r="4.2"/><circle cx="1419.7" cy="525.0" r="6.1"/><circle cx="1419.5" cy="464.2" r="6.5"/><circle cx="1418.2" cy="507.0" r="4.4"/><circle cx="1417.5" cy="442.6" r="4.0"/><circle cx="1417.1" cy="538.4" r="4.2"/><circle cx="1416.8" cy="510.6" r="4.4"/><circle cx="1416.7" cy="533.1" r="4.9"/><circle cx="1415.0" cy="529.8" r="7.0"/><circle cx="1414.7" cy="554.6" r="7.7"/></g>
<g class="c4"><circle cx="1420.9" cy="531.0" r="5.7"/><circle cx="1420.6" cy="550.9" r="5.6"/><circle cx="1420.3" cy="510.4" r="4.6"/><circle cx="1419.8" cy="504.7" r="6.3"/><circle cx="1419.4" cy="590.2" r="7.2"/><circle cx="1419.4" cy="501.5" r="4.4"/><circle cx="1419.3" cy="564.7" r="4.1"/><circle cx="1419.1" cy="569.6" r="4.2"/><circle cx="1418.9" cy="475.6" r="6.1"/><circle cx="1418.8" cy="548.2" r="6.3"/><circle cx="1417.0" cy="541.5" r="4.0"/><circle cx="1416.8" cy="525.3" r="4.4"/><circle cx="1416.4" cy="483.5" r="6.6"/><circle cx="1415.2" cy="495.4" r="4.1"/><circle cx="1414.7" cy="533.6" r="4.1"/><circle cx="1414.6" cy="536.7" r="8.0"/><circle cx="1414.1" cy="554.5" r="4.0"/><circle cx="1414.1" cy="465.8" r="4.1"/><circle cx="1414.1" cy="494.1" r="5.5"/><circle cx="1413.2" cy="558.2" r="6.7"/><circle cx="1412.1" cy="584.0" r="4.0"/><circle cx="1411.7" cy="472.9" r="4.9"/><circle cx="1411.0" cy="517.6" r="7.1"/><circle cx="1410.9" cy="577.3" r="7.7"/><circle cx="1408.3" cy="540.1" r="5.8"/><circle cx="1408.0" cy="636.7" r="9.0"/><circle cx="1408.0" cy="621.3" r="9.0"/><circle cx="1407.9" cy="524.4" r="4.8"/><circle cx="1407.1" cy="521.1" r="8.0"/><circle cx="1406.6" cy="487.2" r="7.0"/><circle cx="1405.9" cy="512.3" r="5.6"/><circle cx="1405.3" cy="575.3" r="6.3"/></g>
<g class="c3"><circle cx="1406.7" cy="581.1" r="8.3"/><circle cx="1405.8" cy="562.9" r="5.1"/><circle cx="1405.6" cy="532.2" r="8.7"/><circle cx="1405.6" cy="570.6" r="5.3"/><circle cx="1405.6" cy="569.2" r="7.6"/><circle cx="1404.8" cy="534.5" r="7.7"/><circle cx="1404.8" cy="361.9" r="7.5"/><circle cx="1404.3" cy="501.6" r="8.8"/><circle cx="1404.0" cy="560.7" r="5.3"/><circle cx="1404.0" cy="564.8" r="6.6"/><circle cx="1403.8" cy="495.6" r="6.9"/><circle cx="1403.8" cy="567.3" r="5.6"/><circle cx="1403.7" cy="601.9" r="9.7"/><circle cx="1403.3" cy="478.2" r="5.1"/><circle cx="1403.0" cy="620.9" r="6.8"/><circle cx="1401.3" cy="604.1" r="8.2"/><circle cx="1401.1" cy="555.4" r="9.1"/><circle cx="1401.0" cy="540.6" r="5.9"/><circle cx="1401.0" cy="414.7" r="6.5"/><circle cx="1400.8" cy="498.1" r="6.2"/><circle cx="1400.5" cy="598.7" r="5.2"/><circle cx="1400.1" cy="616.0" r="5.7"/><circle cx="1399.4" cy="549.2" r="6.4"/><circle cx="1399.2" cy="525.0" r="6.6"/><circle cx="1399.2" cy="539.8" r="7.6"/><circle cx="1398.9" cy="533.0" r="5.8"/><circle cx="1398.8" cy="563.8" r="8.6"/><circle cx="1398.6" cy="619.1" r="6.2"/><circle cx="1398.4" cy="571.8" r="9.3"/><circle cx="1397.9" cy="503.6" r="5.1"/><circle cx="1397.9" cy="597.0" r="5.7"/><circle cx="1397.8" cy="595.4" r="5.1"/><circle cx="1397.6" cy="586.5" r="8.3"/><circle cx="1397.4" cy="528.4" r="8.8"/><circle cx="1396.8" cy="553.1" r="7.7"/><circle cx="1396.7" cy="440.0" r="6.5"/><circle cx="1395.0" cy="515.3" r="5.9"/><circle cx="1395.0" cy="567.6" r="9.3"/><circle cx="1394.1" cy="588.7" r="5.2"/><circle cx="1393.3" cy="584.8" r="5.6"/><circle cx="1393.0" cy="614.3" r="5.0"/><circle cx="1392.6" cy="510.3" r="5.4"/><circle cx="1392.5" cy="485.2" r="8.2"/><circle cx="1391.6" cy="576.8" r="8.9"/><circle cx="1391.5" cy="542.0" r="8.6"/><circle cx="1391.2" cy="471.9" r="7.5"/><circle cx="1390.7" cy="518.3" r="7.1"/><circle cx="1389.7" cy="536.3" r="8.2"/><circle cx="1389.5" cy="508.8" r="9.9"/><circle cx="1389.4" cy="575.7" r="7.7"/><circle cx="1388.7" cy="622.8" r="9.5"/><circle cx="1388.4" cy="582.7" r="5.2"/><circle cx="1388.0" cy="557.1" r="7.2"/><circle cx="1387.0" cy="572.9" r="5.2"/><circle cx="1386.8" cy="606.0" r="6.9"/><circle cx="1386.1" cy="593.7" r="6.4"/><circle cx="1386.0" cy="593.2" r="8.2"/><circle cx="1385.6" cy="553.7" r="6.4"/><circle cx="1385.3" cy="467.1" r="8.0"/><circle cx="1385.2" cy="561.1" r="5.3"/><circle cx="1384.8" cy="547.7" r="9.0"/><circle cx="1384.6" cy="493.6" r="6.6"/><circle cx="1384.6" cy="514.7" r="5.5"/><circle cx="1384.3" cy="543.8" r="7.9"/><circle cx="1384.2" cy="552.3" r="6.1"/><circle cx="1383.9" cy="512.7" r="5.2"/><circle cx="1383.6" cy="573.6" r="7.8"/><circle cx="1383.5" cy="505.7" r="6.8"/><circle cx="1383.5" cy="526.9" r="8.5"/><circle cx="1382.6" cy="610.1" r="5.5"/><circle cx="1382.5" cy="454.3" r="6.8"/><circle cx="1382.3" cy="530.9" r="8.0"/><circle cx="1382.2" cy="600.0" r="5.8"/><circle cx="1382.0" cy="589.6" r="9.8"/><circle cx="1382.0" cy="580.8" r="5.9"/><circle cx="1381.6" cy="523.2" r="8.7"/><circle cx="1381.5" cy="537.6" r="8.6"/><circle cx="1381.5" cy="449.5" r="9.7"/><circle cx="1381.3" cy="607.2" r="6.1"/><circle cx="1380.5" cy="566.1" r="5.3"/><circle cx="1380.4" cy="558.3" r="7.5"/><circle cx="1380.2" cy="549.0" r="6.6"/><circle cx="1379.6" cy="578.8" r="5.5"/><circle cx="1379.3" cy="474.2" r="8.9"/><circle cx="1379.0" cy="544.9" r="9.6"/><circle cx="1378.9" cy="479.6" r="5.4"/><circle cx="1378.9" cy="577.3" r="9.1"/><circle cx="1378.5" cy="463.4" r="5.8"/><circle cx="1378.5" cy="586.1" r="5.3"/><circle cx="1378.3" cy="550.2" r="5.6"/><circle cx="1378.0" cy="495.2" r="9.7"/><circle cx="1377.9" cy="519.1" r="5.9"/><circle cx="1377.6" cy="523.5" r="5.7"/><circle cx="1377.6" cy="591.5" r="7.8"/><circle cx="1377.5" cy="556.0" r="5.2"/><circle cx="1377.5" cy="546.4" r="6.8"/><circle cx="1377.1" cy="538.7" r="7.9"/><circle cx="1376.3" cy="612.9" r="5.5"/><circle cx="1375.6" cy="559.5" r="7.1"/><circle cx="1375.2" cy="520.2" r="9.9"/><circle cx="1374.8" cy="460.7" r="6.4"/><circle cx="1374.0" cy="484.0" r="7.6"/></g>
<g class="c2"><circle cx="1377.7" cy="520.0" r="4.9"/><circle cx="1376.9" cy="477.7" r="6.4"/><circle cx="1376.5" cy="465.9" r="4.8"/><circle cx="1376.1" cy="449.5" r="3.5"/><circle cx="1376.0" cy="490.2" r="3.2"/><circle cx="1375.1" cy="470.3" r="4.4"/><circle cx="1372.8" cy="455.3" r="5.2"/><circle cx="1372.6" cy="481.4" r="3.2"/><circle cx="1372.0" cy="420.9" r="3.5"/><circle cx="1371.1" cy="467.9" r="5.1"/><circle cx="1371.0" cy="436.3" r="7.5"/><circle cx="1370.1" cy="510.6" r="5.9"/><circle cx="1370.0" cy="301.0" r="4.0"/><circle cx="1369.9" cy="560.6" r="3.0"/><circle cx="1368.8" cy="373.5" r="4.5"/><circle cx="1368.8" cy="328.8" r="4.0"/><circle cx="1368.0" cy="373.7" r="4.5"/><circle cx="1367.1" cy="499.9" r="4.1"/><circle cx="1366.5" cy="392.5" r="4.0"/><circle cx="1365.6" cy="577.2" r="4.5"/><circle cx="1365.2" cy="474.2" r="3.3"/><circle cx="1364.0" cy="408.5" r="10.0"/><circle cx="1362.7" cy="495.7" r="5.0"/><circle cx="1362.5" cy="461.9" r="5.6"/><circle cx="1362.1" cy="487.6" r="5.9"/><circle cx="1361.6" cy="503.2" r="3.0"/><circle cx="1360.9" cy="443.7" r="6.8"/><circle cx="1358.5" cy="483.9" r="4.9"/></g>
<g class="c1"><circle cx="1366.8" cy="490.5" r="6.4"/><circle cx="1365.6" cy="527.1" r="3.0"/><circle cx="1365.5" cy="582.8" r="6.7"/><circle cx="1364.4" cy="479.5" r="6.6"/><circle cx="1364.3" cy="521.0" r="6.5"/><circle cx="1364.1" cy="567.7" r="4.5"/><circle cx="1363.6" cy="496.5" r="3.1"/><circle cx="1362.5" cy="371.5" r="5.5"/><circle cx="1362.4" cy="502.4" r="5.3"/><circle cx="1362.0" cy="441.7" r="6.3"/><circle cx="1361.7" cy="369.5" r="6.5"/><circle cx="1361.5" cy="516.9" r="4.1"/><circle cx="1360.6" cy="529.5" r="3.4"/><circle cx="1359.6" cy="457.8" r="6.4"/><circle cx="1359.6" cy="459.9" r="4.7"/><circle cx="1359.1" cy="498.8" r="6.2"/><circle cx="1358.8" cy="390.0" r="6.0"/><circle cx="1358.3" cy="548.3" r="3.1"/><circle cx="1358.2" cy="404.5" r="6.0"/><circle cx="1356.6" cy="582.8" r="4.0"/><circle cx="1355.9" cy="534.2" r="4.6"/><circle cx="1355.5" cy="511.2" r="6.5"/><circle cx="1354.1" cy="560.4" r="5.9"/><circle cx="1353.8" cy="506.7" r="3.8"/><circle cx="1353.5" cy="542.0" r="4.8"/><circle cx="1353.4" cy="533.8" r="4.0"/><circle cx="1353.3" cy="190.7" r="4.0"/><circle cx="1353.0" cy="197.2" r="5.0"/><circle cx="1352.8" cy="471.3" r="3.5"/><circle cx="1352.6" cy="452.1" r="3.7"/><circle cx="1352.2" cy="466.8" r="3.7"/><circle cx="1351.5" cy="507.3" r="3.0"/><circle cx="1351.4" cy="538.1" r="4.2"/><circle cx="1351.3" cy="566.7" r="3.2"/><circle cx="1351.1" cy="553.9" r="6.5"/><circle cx="1351.0" cy="605.0" r="5.0"/><circle cx="1349.7" cy="574.7" r="4.1"/><circle cx="1349.5" cy="482.3" r="5.3"/><circle cx="1349.5" cy="475.9" r="5.8"/><circle cx="1349.0" cy="443.4" r="6.0"/><circle cx="1348.3" cy="514.3" r="4.9"/><circle cx="1348.2" cy="548.7" r="3.5"/><circle cx="1348.1" cy="522.4" r="4.1"/><circle cx="1347.5" cy="492.2" r="3.2"/><circle cx="1347.0" cy="484.4" r="4.5"/></g>
<g class="c0"><circle cx="1346.3" cy="338.0" r="4.5"/><circle cx="1346.2" cy="446.7" r="4.0"/><circle cx="1345.9" cy="395.9" r="4.5"/><circle cx="1345.9" cy="541.2" r="7.8"/><circle cx="1345.0" cy="543.4" r="5.9"/><circle cx="1344.7" cy="464.6" r="6.5"/><circle cx="1344.5" cy="557.6" r="7.7"/><circle cx="1343.8" cy="554.2" r="4.6"/><circle cx="1343.3" cy="546.3" r="5.8"/><circle cx="1343.1" cy="532.9" r="7.6"/><circle cx="1342.3" cy="560.9" r="8.9"/><circle cx="1342.1" cy="493.8" r="8.5"/><circle cx="1341.7" cy="521.6" r="8.4"/><circle cx="1341.0" cy="444.8" r="2.5"/><circle cx="1340.7" cy="576.5" r="4.9"/><circle cx="1339.8" cy="529.3" r="9.0"/><circle cx="1339.2" cy="390.3" r="4.0"/><circle cx="1338.7" cy="458.7" r="5.5"/><circle cx="1338.0" cy="451.2" r="4.5"/><circle cx="1337.8" cy="628.4" r="5.5"/><circle cx="1336.5" cy="514.7" r="5.0"/><circle cx="1336.0" cy="566.3" r="9.4"/><circle cx="1335.7" cy="585.9" r="10.0"/><circle cx="1335.4" cy="561.7" r="4.0"/><circle cx="1335.0" cy="477.3" r="5.5"/><circle cx="1333.8" cy="578.4" r="4.3"/><circle cx="1333.5" cy="505.7" r="6.0"/><circle cx="1333.4" cy="587.1" r="5.4"/><circle cx="1333.2" cy="610.5" r="8.0"/><circle cx="1332.9" cy="570.0" r="4.9"/><circle cx="1329.7" cy="476.6" r="5.0"/><circle cx="1329.5" cy="552.0" r="8.5"/><circle cx="1328.6" cy="548.9" r="7.3"/></g>
<g class="c19"><circle cx="1331.2" cy="447.4" r="4.0"/><circle cx="1329.3" cy="483.3" r="4.0"/><circle cx="1329.0" cy="374.2" r="5.5"/><circle cx="1328.2" cy="431.7" r="4.0"/><circle cx="1327.8" cy="490.0" r="6.0"/><circle cx="1326.7" cy="448.2" r="5.5"/><circle cx="1326.0" cy="514.7" r="5.0"/><circle cx="1326.0" cy="505.7" r="6.0"/><circle cx="1325.4" cy="351.3" r="7.0"/><circle cx="1325.3" cy="415.3" r="4.0"/><circle cx="1324.9" cy="342.4" r="5.0"/><circle cx="1324.5" cy="458.7" r="6.0"/><circle cx="1324.5" cy="401.1" r="6.5"/><circle cx="1324.1" cy="441.5" r="5.5"/><circle cx="1323.8" cy="385.4" r="4.0"/><circle cx="1323.0" cy="408.6" r="5.5"/><circle cx="1320.8" cy="424.3" r="8.0"/></g>
<g class="c18"><circle cx="1320.0" cy="464.6" r="3.5"/><circle cx="1320.0" cy="412.3" r="3.0"/><circle cx="1319.3" cy="374.9" r="6.0"/><circle cx="1318.5" cy="383.2" r="6.0"/><circle cx="1318.4" cy="328.0" r="2.5"/><circle cx="1317.8" cy="398.1" r="5.0"/><circle cx="1316.5" cy="333.0" r="5.0"/><circle cx="1316.3" cy="413.1" r="5.0"/><circle cx="1316.0" cy="292.3" r="5.5"/><circle cx="1315.0" cy="323.4" r="3.5"/><circle cx="1314.6" cy="303.0" r="3.5"/><circle cx="1314.0" cy="427.3" r="3.5"/><circle cx="1313.8" cy="269.2" r="3.0"/><circle cx="1313.5" cy="239.2" r="3.0"/><circle cx="1312.5" cy="446.7" r="5.0"/><circle cx="1312.4" cy="317.2" r="6.0"/><circle cx="1310.3" cy="470.2" r="3.0"/><circle cx="1309.1" cy="395.9" r="3.0"/><circle cx="1308.8" cy="403.3" r="5.0"/><circle cx="1307.8" cy="270.9" r="6.0"/><circle cx="1307.3" cy="454.9" r="3.5"/><circle cx="1307.3" cy="440.0" r="4.0"/><circle cx="1307.0" cy="316.7" r="5.5"/><circle cx="1305.8" cy="415.3" r="8.0"/></g>
<g class="c17"><circle cx="1305.4" cy="498.0" r="5.0"/><circle cx="1305.1" cy="434.0" r="4.5"/><circle cx="1304.3" cy="392.1" r="5.5"/><circle cx="1303.6" cy="475.1" r="4.5"/><circle cx="1303.6" cy="471.4" r="3.5"/><circle cx="1302.8" cy="444.5" r="4.0"/><circle cx="1302.8" cy="428.0" r="4.0"/><circle cx="1302.5" cy="481.8" r="7.0"/><circle cx="1301.3" cy="455.7" r="6.0"/><circle cx="1301.3" cy="334.3" r="6.0"/><circle cx="1299.6" cy="568.0" r="6.0"/><circle cx="1299.3" cy="549.0" r="5.0"/><circle cx="1298.9" cy="347.3" r="4.0"/><circle cx="1298.3" cy="446.0" r="6.0"/><circle cx="1298.3" cy="431.7" r="5.0"/><circle cx="1298.3" cy="364.5" r="3.5"/><circle cx="1296.9" cy="395.1" r="6.5"/><circle cx="1296.1" cy="514.0" r="5.0"/><circle cx="1296.1" cy="409.3" r="6.0"/><circle cx="1294.8" cy="352.7" r="5.5"/><circle cx="1294.0" cy="522.0" r="6.0"/><circle cx="1293.1" cy="374.9" r="6.0"/><circle cx="1292.4" cy="463.1" r="9.5"/></g>
<g class="c16"><circle cx="1291.3" cy="239.2" r="2.5"/><circle cx="1290.9" cy="397.4" r="5.0"/><circle cx="1290.9" cy="385.4" r="6.0"/><circle cx="1290.1" cy="499.8" r="5.0"/><circle cx="1290.1" cy="437.7" r="5.0"/><circle cx="1289.4" cy="411.6" r="5.0"/><circle cx="1289.4" cy="365.2" r="6.0"/><circle cx="1287.1" cy="456.4" r="5.0"/><circle cx="1287.1" cy="429.5" r="7.5"/><circle cx="1286.4" cy="391.4" r="5.0"/><circle cx="1285.3" cy="343.2" r="7.0"/><circle cx="1284.9" cy="402.6" r="6.0"/><circle cx="1284.1" cy="448.2" r="7.0"/><circle cx="1284.1" cy="374.2" r="5.0"/><circle cx="1283.0" cy="420.0" r="7.0"/><circle cx="1282.6" cy="328.3" r="6.0"/><circle cx="1281.3" cy="303.0" r="7.0"/><circle cx="1281.2" cy="438.5" r="5.0"/><circle cx="1281.2" cy="384.7" r="6.0"/><circle cx="1280.4" cy="364.5" r="7.0"/><circle cx="1279.4" cy="354.6" r="6.5"/><circle cx="1279.0" cy="396.0" r="7.0"/><circle cx="1278.9" cy="412.3" r="8.0"/><circle cx="1277.4" cy="455.7" r="6.0"/><circle cx="1277.2" cy="322.6" r="6.5"/><circle cx="1277.0" cy="443.0" r="7.5"/><circle cx="1277.0" cy="379.0" r="6.5"/><circle cx="1276.7" cy="511.0" r="7.0"/><circle cx="1275.3" cy="273.0" r="5.5"/><circle cx="1274.4" cy="428.8" r="8.5"/><circle cx="1274.4" cy="392.1" r="8.0"/><circle cx="1272.9" cy="497.5" r="9.0"/><circle cx="1272.9" cy="372.7" r="8.0"/><circle cx="1272.2" cy="401.1" r="8.5"/><circle cx="1271.4" cy="448.2" r="9.0"/><circle cx="1271.4" cy="383.9" r="7.0"/><circle cx="1270.0" cy="418.0" r="7.0"/><circle cx="1268.5" cy="436.0" r="7.0"/></g>
<g class="c15"><circle cx="1270.7" cy="198.5" r="3.0"/><circle cx="1267.7" cy="577.2" r="9.5"/><circle cx="1267.6" cy="575.8" r="6.2"/><circle cx="1266.3" cy="570.0" r="9.9"/><circle cx="1266.0" cy="503.5" r="9.5"/><circle cx="1265.9" cy="547.7" r="6.1"/><circle cx="1265.5" cy="542.6" r="8.4"/><circle cx="1265.4" cy="603.4" r="5.5"/><circle cx="1265.2" cy="588.3" r="7.8"/><circle cx="1265.2" cy="564.2" r="8.4"/><circle cx="1264.9" cy="565.3" r="8.9"/><circle cx="1264.4" cy="595.2" r="7.3"/><circle cx="1263.8" cy="546.3" r="8.4"/><circle cx="1263.4" cy="530.2" r="7.6"/><circle cx="1263.1" cy="600.7" r="5.8"/><circle cx="1262.5" cy="538.9" r="8.0"/><circle cx="1262.5" cy="521.9" r="5.8"/><circle cx="1262.5" cy="591.5" r="7.3"/><circle cx="1262.2" cy="567.7" r="7.1"/><circle cx="1262.0" cy="585.6" r="5.9"/><circle cx="1261.9" cy="560.4" r="5.6"/><circle cx="1261.8" cy="582.6" r="5.7"/><circle cx="1261.6" cy="614.9" r="7.2"/><circle cx="1261.4" cy="524.8" r="9.4"/><circle cx="1261.4" cy="567.8" r="7.2"/><circle cx="1261.1" cy="564.5" r="7.2"/><circle cx="1260.7" cy="470.5" r="7.0"/><circle cx="1260.2" cy="546.6" r="9.7"/><circle cx="1260.0" cy="592.1" r="5.6"/><circle cx="1259.3" cy="549.4" r="5.6"/><circle cx="1259.1" cy="570.6" r="6.2"/><circle cx="1259.0" cy="539.2" r="6.0"/><circle cx="1258.9" cy="571.8" r="7.0"/><circle cx="1258.8" cy="597.8" r="6.0"/><circle cx="1258.7" cy="537.6" r="9.8"/><circle cx="1257.8" cy="594.1" r="9.6"/><circle cx="1257.7" cy="649.0" r="9.5"/><circle cx="1257.7" cy="634.6" r="10.0"/><circle cx="1257.1" cy="560.8" r="8.3"/><circle cx="1256.8" cy="611.8" r="6.1"/><circle cx="1256.8" cy="566.6" r="9.5"/><circle cx="1256.6" cy="557.3" r="10.0"/><circle cx="1256.5" cy="574.9" r="6.3"/><circle cx="1256.2" cy="562.2" r="7.8"/><circle cx="1255.3" cy="610.0" r="5.8"/><circle cx="1255.2" cy="559.6" r="8.0"/><circle cx="1255.1" cy="578.3" r="6.8"/><circle cx="1253.6" cy="552.2" r="5.6"/><circle cx="1253.0" cy="676.0" r="7.5"/><circle cx="1252.9" cy="525.8" r="5.7"/><circle cx="1252.7" cy="556.3" r="6.1"/><circle cx="1251.6" cy="581.4" r="5.9"/><circle cx="1251.1" cy="572.5" r="5.7"/><circle cx="1250.6" cy="528.4" r="6.0"/><circle cx="1250.5" cy="573.9" r="8.5"/><circle cx="1249.4" cy="519.9" r="8.2"/><circle cx="1249.2" cy="602.7" r="8.8"/><circle cx="1248.9" cy="568.6" r="8.9"/><circle cx="1248.9" cy="550.5" r="5.7"/><circle cx="1248.0" cy="522.4" r="5.9"/><circle cx="1247.0" cy="599.1" r="7.9"/><circle cx="1246.5" cy="533.1" r="5.6"/><circle cx="1246.0" cy="583.4" r="6.9"/><circle cx="1246.0" cy="487.0" r="8.0"/><circle cx="1246.0" cy="457.0" r="6.5"/><circle cx="1245.2" cy="609.6" r="7.6"/><circle cx="1245.2" cy="544.9" r="5.9"/><circle cx="1244.8" cy="534.2" r="5.5"/><circle cx="1244.5" cy="596.6" r="9.5"/><circle cx="1243.4" cy="589.9" r="5.5"/><circle cx="1243.2" cy="605.1" r="7.1"/><circle cx="1242.4" cy="558.1" r="6.7"/><circle cx="1240.8" cy="541.1" r="8.1"/><circle cx="1240.4" cy="531.1" r="7.6"/><circle cx="1240.3" cy="577.0" r="5.9"/><circle cx="1240.2" cy="587.2" r="9.8"/><circle cx="1239.9" cy="562.8" r="9.9"/><circle cx="1239.1" cy="536.4" r="8.5"/><circle cx="1238.9" cy="580.0" r="6.2"/><circle cx="1238.7" cy="543.8" r="7.5"/><circle cx="1238.7" cy="580.4" r="7.2"/><circle cx="1238.5" cy="586.7" r="6.2"/><circle cx="1238.3" cy="550.9" r="9.4"/><circle cx="1238.0" cy="427.0" r="5.5"/><circle cx="1237.7" cy="554.7" r="9.0"/><circle cx="1237.6" cy="555.7" r="8.6"/><circle cx="1237.4" cy="607.2" r="6.1"/><circle cx="1237.3" cy="553.7" r="9.0"/><circle cx="1237.2" cy="516.9" r="8.6"/></g>
<g class="c14"><circle cx="1237.9" cy="433.0" r="3.6"/><circle cx="1237.4" cy="130.5" r="3.0"/><circle cx="1237.2" cy="419.0" r="4.6"/><circle cx="1236.4" cy="540.0" r="6.0"/><circle cx="1236.3" cy="479.3" r="5.3"/><circle cx="1236.0" cy="436.2" r="7.6"/><circle cx="1235.4" cy="407.3" r="5.5"/><circle cx="1234.9" cy="440.1" r="4.4"/><circle cx="1234.6" cy="429.8" r="3.7"/><circle cx="1234.6" cy="468.2" r="3.1"/><circle cx="1234.5" cy="424.2" r="5.3"/><circle cx="1234.4" cy="505.8" r="3.4"/><circle cx="1233.4" cy="443.5" r="8.8"/><circle cx="1233.3" cy="435.4" r="3.3"/><circle cx="1232.7" cy="482.0" r="5.4"/><circle cx="1231.8" cy="472.4" r="3.2"/><circle cx="1231.5" cy="604.0" r="5.5"/><circle cx="1231.4" cy="521.7" r="5.3"/><circle cx="1231.3" cy="478.2" r="6.1"/><circle cx="1230.9" cy="466.7" r="4.6"/><circle cx="1230.7" cy="492.8" r="3.1"/><circle cx="1230.6" cy="246.2" r="5.0"/><circle cx="1230.1" cy="463.4" r="4.0"/><circle cx="1229.8" cy="291.0" r="5.5"/><circle cx="1229.5" cy="530.6" r="7.2"/><circle cx="1228.7" cy="487.6" r="6.7"/><circle cx="1228.2" cy="474.3" r="4.1"/><circle cx="1227.8" cy="510.5" r="8.3"/><circle cx="1227.6" cy="470.7" r="8.9"/><circle cx="1227.3" cy="461.4" r="3.4"/><circle cx="1227.2" cy="488.6" r="7.8"/><circle cx="1227.0" cy="447.5" r="7.0"/><circle cx="1226.5" cy="459.7" r="5.4"/><circle cx="1226.1" cy="507.8" r="3.9"/><circle cx="1225.9" cy="452.1" r="5.4"/><circle cx="1225.9" cy="404.7" r="8.4"/><circle cx="1225.4" cy="441.6" r="5.2"/><circle cx="1224.9" cy="494.9" r="8.9"/><circle cx="1224.8" cy="499.4" r="8.8"/><circle cx="1223.5" cy="491.9" r="4.9"/><circle cx="1222.4" cy="482.3" r="3.5"/><circle cx="1221.8" cy="421.6" r="6.7"/><circle cx="1220.9" cy="362.7" r="3.5"/><circle cx="1220.3" cy="291.0" r="3.0"/><circle cx="1219.3" cy="415.4" r="5.5"/><circle cx="1219.2" cy="497.7" r="3.2"/><circle cx="1219.1" cy="519.0" r="3.6"/><circle cx="1218.9" cy="291.0" r="2.5"/><circle cx="1218.9" cy="533.1" r="6.6"/><circle cx="1218.5" cy="457.8" r="6.9"/><circle cx="1218.5" cy="451.3" r="3.0"/><circle cx="1218.1" cy="449.0" r="4.3"/><circle cx="1217.6" cy="475.1" r="4.4"/><circle cx="1216.6" cy="455.6" r="4.1"/><circle cx="1216.2" cy="525.7" r="8.1"/><circle cx="1215.9" cy="516.1" r="5.6"/><circle cx="1215.5" cy="539.1" r="4.3"/><circle cx="1214.9" cy="528.6" r="5.7"/><circle cx="1214.7" cy="425.8" r="3.7"/><circle cx="1213.9" cy="502.4" r="5.9"/><circle cx="1212.3" cy="561.0" r="9.5"/><circle cx="1212.3" cy="545.8" r="8.5"/><circle cx="1209.6" cy="401.4" r="8.4"/><circle cx="1208.9" cy="581.3" r="2.0"/><circle cx="1208.7" cy="465.2" r="8.6"/><circle cx="1207.9" cy="512.3" r="6.5"/><circle cx="1207.5" cy="544.2" r="5.6"/><circle cx="1206.6" cy="411.0" r="8.0"/><circle cx="1206.2" cy="486.0" r="8.5"/></g>
<g class="c13"><circle cx="1210.2" cy="379.2" r="2.5"/><circle cx="1209.5" cy="448.3" r="5.0"/><circle cx="1209.5" cy="435.6" r="5.0"/><circle cx="1208.7" cy="404.2" r="4.5"/><circle cx="1208.0" cy="440.0" r="3.0"/><circle cx="1207.2" cy="503.6" r="5.1"/><circle cx="1206.9" cy="517.2" r="3.5"/><circle cx="1206.5" cy="413.1" r="4.0"/><circle cx="1205.7" cy="462.5" r="2.5"/><circle cx="1205.4" cy="510.2" r="4.7"/><circle cx="1205.3" cy="500.8" r="5.3"/><circle cx="1203.5" cy="494.7" r="3.9"/><circle cx="1203.5" cy="458.0" r="3.0"/><circle cx="1203.5" cy="378.0" r="4.0"/><circle cx="1203.2" cy="356.0" r="4.5"/><circle cx="1202.7" cy="440.0" r="3.0"/><circle cx="1201.2" cy="451.3" r="4.5"/><circle cx="1201.2" cy="445.3" r="4.5"/><circle cx="1201.2" cy="411.6" r="3.5"/><circle cx="1200.5" cy="596.2" r="6.0"/><circle cx="1200.5" cy="423.6" r="7.5"/><circle cx="1199.7" cy="524.2" r="3.7"/><circle cx="1198.8" cy="481.8" r="3.9"/><circle cx="1198.6" cy="473.7" r="8.3"/><circle cx="1198.2" cy="468.4" r="5.0"/><circle cx="1197.5" cy="380.3" r="5.5"/><circle cx="1197.4" cy="486.2" r="6.8"/><circle cx="1196.8" cy="493.9" r="4.2"/></g>
<g class="c12"><circle cx="1196.4" cy="509.0" r="3.5"/><circle cx="1196.0" cy="392.2" r="5.0"/><circle cx="1194.5" cy="433.3" r="5.5"/><circle cx="1194.5" cy="403.4" r="5.0"/><circle cx="1194.5" cy="367.5" r="5.0"/><circle cx="1193.8" cy="353.3" r="4.5"/><circle cx="1193.0" cy="345.9" r="4.0"/><circle cx="1191.0" cy="476.9" r="4.4"/><circle cx="1190.8" cy="420.6" r="6.0"/><circle cx="1190.8" cy="411.6" r="7.0"/><circle cx="1190.5" cy="295.0" r="6.0"/><circle cx="1189.3" cy="383.2" r="5.0"/><circle cx="1189.3" cy="330.2" r="7.0"/><circle cx="1189.3" cy="489.3" r="4.7"/><circle cx="1188.5" cy="467.0" r="5.0"/><circle cx="1188.5" cy="369.8" r="6.0"/><circle cx="1187.8" cy="398.2" r="6.0"/><circle cx="1187.8" cy="347.4" r="5.0"/><circle cx="1186.3" cy="337.7" r="6.0"/><circle cx="1185.5" cy="443.8" r="3.5"/><circle cx="1184.8" cy="428.1" r="5.0"/><circle cx="1183.3" cy="360.1" r="8.0"/><circle cx="1182.5" cy="416.9" r="6.5"/><circle cx="1182.5" cy="375.0" r="5.5"/><circle cx="1180.2" cy="236.5" r="4.5"/><circle cx="1179.6" cy="329.4" r="7.0"/><circle cx="1177.8" cy="555.6" r="4.0"/><circle cx="1177.4" cy="477.6" r="4.1"/><circle cx="1177.3" cy="390.7" r="5.5"/><circle cx="1176.6" cy="413.9" r="5.0"/><circle cx="1176.6" cy="398.9" r="7.5"/><circle cx="1176.6" cy="342.1" r="9.0"/><circle cx="1175.1" cy="445.3" r="9.0"/><circle cx="1174.3" cy="465.5" r="8.5"/></g>
<g class="c11"><circle cx="1173.7" cy="193.4" r="3.0"/><circle cx="1172.8" cy="371.3" r="6.5"/><circle cx="1172.5" cy="382.5" r="2.0"/><circle cx="1172.1" cy="424.3" r="5.0"/><circle cx="1172.1" cy="400.4" r="3.5"/><circle cx="1172.1" cy="378.0" r="5.0"/><circle cx="1171.8" cy="233.2" r="1.5"/><circle cx="1171.5" cy="486.0" r="4.0"/><circle cx="1169.6" cy="527.0" r="6.5"/><circle cx="1169.1" cy="395.2" r="5.5"/><circle cx="1168.8" cy="329.9" r="5.0"/><circle cx="1168.3" cy="412.4" r="6.0"/><circle cx="1167.5" cy="481.0" r="4.5"/><circle cx="1166.9" cy="359.3" r="7.0"/><circle cx="1166.6" cy="336.5" r="3.0"/><circle cx="1165.4" cy="451.3" r="4.0"/><circle cx="1165.3" cy="507.6" r="6.0"/><circle cx="1164.6" cy="399.7" r="5.0"/><circle cx="1163.1" cy="423.6" r="8.0"/></g>
<g class="c10"><circle cx="1161.6" cy="363.1" r="6.0"/><circle cx="1160.9" cy="447.5" r="5.0"/><circle cx="1160.9" cy="407.2" r="4.0"/><circle cx="1160.9" cy="375.8" r="5.0"/><circle cx="1159.8" cy="336.5" r="3.5"/><circle cx="1159.4" cy="369.8" r="6.0"/><circle cx="1158.6" cy="425.1" r="6.0"/><circle cx="1157.9" cy="361.6" r="5.0"/><circle cx="1157.1" cy="458.0" r="7.0"/><circle cx="1157.1" cy="438.5" r="5.0"/><circle cx="1157.1" cy="407.2" r="5.0"/><circle cx="1157.1" cy="381.7" r="4.0"/><circle cx="1155.6" cy="398.2" r="6.0"/><circle cx="1154.9" cy="375.8" r="6.0"/><circle cx="1153.4" cy="368.3" r="5.0"/><circle cx="1152.7" cy="451.3" r="7.0"/><circle cx="1152.7" cy="387.0" r="7.0"/><circle cx="1151.7" cy="510.8" r="7.2"/><circle cx="1151.2" cy="467.0" r="7.0"/><circle cx="1150.4" cy="440.0" r="7.0"/><circle cx="1149.7" cy="423.6" r="4.0"/><circle cx="1148.4" cy="494.6" r="5.3"/><circle cx="1148.4" cy="473.2" r="7.3"/><circle cx="1147.7" cy="487.8" r="5.5"/><circle cx="1147.0" cy="481.1" r="5.7"/><circle cx="1146.7" cy="433.3" r="9.5"/><circle cx="1146.7" cy="503.7" r="5.7"/><circle cx="1144.3" cy="483.5" r="5.9"/><circle cx="1144.2" cy="496.2" r="7.2"/></g>
<g class="c9"><circle cx="1147.4" cy="376.5" r="4.0"/><circle cx="1147.4" cy="327.9" r="6.0"/><circle cx="1145.2" cy="509.5" r="5.0"/><circle cx="1144.4" cy="337.7" r="4.0"/><circle cx="1143.7" cy="359.3" r="7.0"/><circle cx="1143.2" cy="368.3" r="5.0"/><circle cx="1142.9" cy="418.4" r="5.0"/><circle cx="1142.2" cy="348.1" r="6.5"/><circle cx="1141.7" cy="487.9" r="3.5"/><circle cx="1141.4" cy="456.5" r="6.0"/><circle cx="1140.7" cy="320.5" r="5.0"/><circle cx="1139.9" cy="387.7" r="4.0"/><circle cx="1139.9" cy="375.8" r="5.0"/><circle cx="1139.5" cy="408.7" r="3.5"/><circle cx="1138.5" cy="393.7" r="6.0"/><circle cx="1138.5" cy="263.6" r="5.0"/><circle cx="1136.8" cy="270.6" r="4.5"/><circle cx="1136.5" cy="293.0" r="7.0"/><circle cx="1136.2" cy="345.1" r="6.0"/><circle cx="1135.5" cy="380.3" r="8.0"/><circle cx="1135.5" cy="331.7" r="9.0"/></g>
<g class="c8"><circle cx="1137.0" cy="464.0" r="4.0"/><circle cx="1134.7" cy="379.5" r="4.0"/><circle cx="1134.0" cy="415.4" r="3.0"/><circle cx="1133.2" cy="325.0" r="2.5"/><circle cx="1132.8" cy="520.4" r="6.0"/><circle cx="1132.5" cy="446.0" r="5.0"/><circle cx="1132.0" cy="570.5" r="4.0"/><circle cx="1131.7" cy="381.0" r="6.5"/><circle cx="1131.0" cy="464.0" r="7.0"/><circle cx="1130.9" cy="502.8" r="7.0"/><circle cx="1130.9" cy="490.6" r="6.0"/><circle cx="1130.2" cy="408.7" r="8.0"/><circle cx="1128.2" cy="473.0" r="5.0"/><circle cx="1128.0" cy="441.5" r="7.0"/><circle cx="1127.4" cy="596.2" r="5.0"/><circle cx="1127.4" cy="535.3" r="8.0"/><circle cx="1127.2" cy="450.5" r="5.0"/><circle cx="1126.8" cy="483.8" r="8.0"/><circle cx="1125.5" cy="500.0" r="10.0"/></g>
<g class="c7"><circle cx="1122.7" cy="372.7" r="6.0"/><circle cx="1122.5" cy="491.7" r="4.2"/><circle cx="1122.4" cy="472.7" r="8.5"/><circle cx="1122.1" cy="411.3" r="5.0"/><circle cx="1121.4" cy="338.3" r="5.0"/><circle cx="1120.7" cy="386.1" r="4.4"/><circle cx="1120.4" cy="474.9" r="4.3"/><circle cx="1119.8" cy="489.0" r="8.4"/><circle cx="1118.8" cy="419.7" r="5.8"/><circle cx="1118.3" cy="410.1" r="5.5"/><circle cx="1118.0" cy="539.3" r="7.5"/><circle cx="1118.0" cy="548.4" r="6.0"/><circle cx="1117.3" cy="439.6" r="4.3"/><circle cx="1117.1" cy="538.8" r="5.5"/><circle cx="1116.0" cy="328.0" r="6.0"/><circle cx="1115.6" cy="398.5" r="6.0"/><circle cx="1115.3" cy="525.2" r="5.4"/><circle cx="1115.2" cy="442.8" r="5.0"/><circle cx="1114.8" cy="448.6" r="4.4"/><circle cx="1114.6" cy="372.0" r="6.5"/><circle cx="1114.0" cy="530.9" r="6.3"/><circle cx="1113.2" cy="457.1" r="7.7"/><circle cx="1112.8" cy="516.9" r="5.2"/><circle cx="1111.8" cy="559.6" r="5.1"/><circle cx="1111.5" cy="529.4" r="5.8"/><circle cx="1111.2" cy="431.1" r="4.1"/><circle cx="1111.0" cy="462.4" r="6.5"/><circle cx="1109.2" cy="434.0" r="4.7"/><circle cx="1109.1" cy="395.6" r="5.1"/><circle cx="1108.0" cy="548.0" r="9.0"/><circle cx="1107.7" cy="453.7" r="6.0"/><circle cx="1107.0" cy="570.5" r="7.5"/><circle cx="1106.0" cy="530.0" r="9.0"/><circle cx="1105.0" cy="422.7" r="5.7"/><circle cx="1104.8" cy="500.9" r="7.3"/><circle cx="1104.3" cy="509.8" r="7.3"/><circle cx="1103.8" cy="509.5" r="10.0"/></g>
<g class="c6"><circle cx="1104.5" cy="215.4" r="4.5"/><circle cx="1102.5" cy="270.1" r="3.5"/><circle cx="1102.0" cy="252.2" r="3.0"/><circle cx="1101.7" cy="192.8" r="4.0"/><circle cx="1100.9" cy="289.9" r="5.5"/><circle cx="1100.0" cy="271.8" r="4.0"/><circle cx="1100.0" cy="211.3" r="4.5"/><circle cx="1100.0" cy="186.3" r="4.0"/><circle cx="1099.2" cy="172.1" r="5.5"/><circle cx="1097.9" cy="242.7" r="5.0"/><circle cx="1097.9" cy="189.7" r="4.0"/><circle cx="1097.6" cy="202.6" r="2.5"/><circle cx="1096.8" cy="222.7" r="7.0"/><circle cx="1096.3" cy="192.8" r="3.0"/><circle cx="1096.0" cy="232.0" r="4.0"/><circle cx="1095.0" cy="218.0" r="5.5"/><circle cx="1094.3" cy="273.7" r="6.5"/><circle cx="1094.3" cy="240.7" r="4.0"/><circle cx="1093.5" cy="197.7" r="4.5"/><circle cx="1092.7" cy="226.8" r="5.0"/><circle cx="1092.7" cy="212.9" r="7.5"/><circle cx="1092.0" cy="122.4" r="6.0"/><circle cx="1091.9" cy="180.2" r="4.5"/><circle cx="1091.4" cy="157.7" r="2.0"/><circle cx="1091.0" cy="252.2" r="5.0"/><circle cx="1091.0" cy="228.5" r="4.0"/><circle cx="1089.0" cy="205.0" r="5.0"/><circle cx="1088.6" cy="244.5" r="6.5"/><circle cx="1088.6" cy="230.9" r="5.0"/><circle cx="1087.0" cy="236.0" r="4.5"/><circle cx="1087.0" cy="193.8" r="5.5"/><circle cx="1086.6" cy="181.9" r="4.5"/><circle cx="1086.0" cy="248.0" r="5.0"/><circle cx="1084.5" cy="215.4" r="4.5"/><circle cx="1084.5" cy="174.2" r="3.5"/><circle cx="1084.2" cy="223.2" r="4.0"/><circle cx="1083.4" cy="207.2" r="8.0"/><circle cx="1083.4" cy="173.4" r="2.0"/><circle cx="1082.4" cy="230.9" r="5.5"/><circle cx="1082.0" cy="132.4" r="4.5"/><circle cx="1081.2" cy="260.8" r="6.5"/><circle cx="1081.2" cy="250.5" r="5.5"/><circle cx="1080.8" cy="284.5" r="6.0"/><circle cx="1080.1" cy="244.8" r="7.0"/><circle cx="1079.8" cy="165.9" r="2.0"/><circle cx="1079.3" cy="273.1" r="7.0"/></g>
<g class="c5"><circle cx="1078.9" cy="462.0" r="5.5"/><circle cx="1078.3" cy="360.8" r="5.5"/><circle cx="1078.0" cy="525.8" r="5.0"/><circle cx="1078.0" cy="431.0" r="5.0"/><circle cx="1076.7" cy="477.0" r="8.0"/><circle cx="1076.7" cy="408.7" r="8.0"/><circle cx="1076.0" cy="512.0" r="6.5"/><circle cx="1075.3" cy="565.0" r="7.0"/><circle cx="1075.3" cy="521.7" r="7.0"/><circle cx="1074.0" cy="555.6" r="8.0"/><circle cx="1073.4" cy="614.7" r="7.0"/><circle cx="1073.0" cy="517.0" r="6.0"/><circle cx="1072.6" cy="427.0" r="7.5"/><circle cx="1072.6" cy="401.0" r="5.0"/><circle cx="1072.0" cy="488.0" r="7.0"/><circle cx="1071.3" cy="474.3" r="7.5"/><circle cx="1071.3" cy="377.3" r="5.5"/><circle cx="1070.0" cy="470.0" r="6.0"/><circle cx="1070.0" cy="500.0" r="7.5"/><circle cx="1068.6" cy="523.0" r="7.0"/><circle cx="1068.0" cy="444.5" r="8.0"/><circle cx="1067.2" cy="492.0" r="7.0"/><circle cx="1065.9" cy="508.0" r="10.0"/></g>
<g class="c4"><circle cx="1065.3" cy="464.3" r="4.0"/><circle cx="1064.0" cy="361.4" r="4.0"/><circle cx="1063.0" cy="500.9" r="5.0"/><circle cx="1062.0" cy="404.0" r="3.0"/><circle cx="1061.8" cy="521.7" r="7.0"/><circle cx="1061.8" cy="380.3" r="5.5"/><circle cx="1061.0" cy="448.6" r="5.5"/><circle cx="1061.0" cy="309.0" r="5.0"/><circle cx="1059.4" cy="333.0" r="3.5"/><circle cx="1059.0" cy="398.4" r="4.0"/><circle cx="1058.0" cy="440.0" r="4.5"/><circle cx="1057.0" cy="310.4" r="3.5"/><circle cx="1056.0" cy="386.0" r="4.0"/><circle cx="1055.6" cy="408.0" r="4.5"/><circle cx="1055.0" cy="549.6" r="2.5"/><circle cx="1054.2" cy="392.5" r="5.0"/><circle cx="1052.9" cy="359.5" r="6.5"/><circle cx="1052.3" cy="445.9" r="6.0"/><circle cx="1052.0" cy="252.0" r="5.0"/><circle cx="1051.2" cy="334.0" r="6.5"/><circle cx="1051.0" cy="375.4" r="4.0"/><circle cx="1050.0" cy="325.3" r="3.5"/><circle cx="1049.6" cy="451.3" r="5.0"/><circle cx="1049.3" cy="294.0" r="5.0"/><circle cx="1048.3" cy="492.7" r="7.0"/><circle cx="1048.3" cy="422.8" r="6.0"/></g>
<g class="c3"><circle cx="1047.7" cy="227.5" r="4.0"/><circle cx="1047.4" cy="271.7" r="2.5"/><circle cx="1047.0" cy="390.0" r="4.0"/><circle cx="1046.0" cy="420.7" r="3.5"/><circle cx="1046.0" cy="378.7" r="4.0"/><circle cx="1045.5" cy="106.7" r="2.0"/><circle cx="1045.0" cy="203.7" r="3.0"/><circle cx="1044.5" cy="299.0" r="2.0"/><circle cx="1044.2" cy="187.0" r="3.0"/><circle cx="1043.6" cy="237.5" r="1.5"/><circle cx="1043.1" cy="307.0" r="2.0"/><circle cx="1043.1" cy="247.0" r="2.5"/><circle cx="1042.0" cy="330.7" r="1.5"/><circle cx="1041.5" cy="366.0" r="3.5"/><circle cx="1041.0" cy="94.5" r="2.5"/><circle cx="1040.7" cy="294.7" r="2.5"/><circle cx="1040.0" cy="197.4" r="2.5"/><circle cx="1039.6" cy="306.6" r="2.0"/><circle cx="1039.3" cy="223.7" r="3.5"/><circle cx="1038.8" cy="387.6" r="5.0"/><circle cx="1038.2" cy="170.0" r="2.0"/><circle cx="1038.0" cy="263.8" r="2.0"/><circle cx="1037.4" cy="230.8" r="2.0"/><circle cx="1036.3" cy="345.0" r="5.0"/><circle cx="1036.0" cy="328.0" r="1.5"/><circle cx="1035.5" cy="324.0" r="2.5"/><circle cx="1035.0" cy="165.0" r="2.0"/><circle cx="1034.7" cy="111.6" r="3.0"/><circle cx="1034.2" cy="279.5" r="1.5"/><circle cx="1033.9" cy="447.8" r="1.5"/><circle cx="1033.3" cy="464.3" r="2.5"/><circle cx="1032.8" cy="340.0" r="2.0"/><circle cx="1032.5" cy="273.0" r="2.0"/><circle cx="1031.7" cy="477.0" r="2.5"/><circle cx="1031.5" cy="359.5" r="2.5"/><circle cx="1029.8" cy="399.8" r="7.0"/></g>
<g class="c2"><circle cx="1029.8" cy="110.2" r="2.5"/><circle cx="1029.3" cy="419.9" r="2.5"/><circle cx="1028.7" cy="247.0" r="2.0"/><circle cx="1028.0" cy="349.7" r="2.5"/><circle cx="1027.4" cy="356.7" r="2.0"/><circle cx="1027.0" cy="277.4" r="2.5"/><circle cx="1026.8" cy="332.0" r="3.0"/><circle cx="1026.3" cy="263.8" r="1.5"/><circle cx="1025.8" cy="216.4" r="2.5"/><circle cx="1025.2" cy="412.0" r="3.0"/><circle cx="1024.7" cy="244.9" r="3.0"/><circle cx="1023.9" cy="240.0" r="3.0"/><circle cx="1023.3" cy="292.8" r="4.0"/><circle cx="1022.5" cy="190.0" r="2.5"/><circle cx="1021.7" cy="457.2" r="2.5"/><circle cx="1021.4" cy="309.9" r="3.0"/><circle cx="1021.0" cy="386.0" r="2.0"/><circle cx="1020.3" cy="301.7" r="3.5"/><circle cx="1019.8" cy="354.6" r="2.5"/><circle cx="1019.3" cy="320.7" r="7.0"/></g>
<g class="c1"><circle cx="1019.0" cy="362.7" r="1.5"/><circle cx="1018.4" cy="488.7" r="1.5"/><circle cx="1017.9" cy="561.5" r="1.5"/><circle cx="1017.0" cy="352.7" r="2.0"/><circle cx="1016.0" cy="279.5" r="1.5"/><circle cx="1015.7" cy="467.5" r="2.5"/><circle cx="1015.0" cy="391.0" r="6.0"/><circle cx="1013.8" cy="441.8" r="5.0"/><circle cx="1012.8" cy="595.7" r="3.0"/><circle cx="1012.0" cy="376.0" r="2.5"/><circle cx="1010.3" cy="309.3" r="3.5"/><circle cx="1010.0" cy="434.0" r="3.5"/><circle cx="1009.0" cy="575.0" r="4.0"/><circle cx="1009.0" cy="402.5" r="7.0"/><circle cx="1007.6" cy="481.0" r="4.0"/><circle cx="1007.6" cy="402.5" r="6.0"/><circle cx="1007.0" cy="444.5" r="3.0"/><circle cx="1006.8" cy="340.5" r="2.0"/><circle cx="1006.0" cy="475.7" r="3.0"/><circle cx="1005.0" cy="372.0" r="3.0"/><circle cx="1005.0" cy="361.4" r="4.0"/><circle cx="1004.0" cy="420.0" r="3.0"/><circle cx="1003.5" cy="304.5" r="4.0"/><circle cx="1003.0" cy="532.8" r="2.0"/><circle cx="1003.0" cy="338.9" r="4.5"/><circle cx="1001.7" cy="322.0" r="3.0"/><circle cx="1001.6" cy="426.4" r="6.0"/><circle cx="1000.8" cy="454.0" r="3.5"/></g>
<g class="c0"><circle cx="1000.0" cy="540.0" r="2.0"/><circle cx="998.0" cy="378.0" r="5.0"/><circle cx="997.0" cy="495.7" r="3.5"/><circle cx="996.7" cy="335.6" r="4.0"/><circle cx="996.0" cy="479.0" r="5.5"/><circle cx="995.4" cy="402.5" r="5.0"/><circle cx="995.0" cy="368.0" r="2.0"/><circle cx="994.8" cy="413.0" r="4.0"/><circle cx="994.0" cy="348.0" r="3.0"/><circle cx="993.5" cy="292.3" r="3.0"/><circle cx="992.7" cy="330.7" r="3.0"/><circle cx="992.5" cy="354.0" r="3.5"/><circle cx="992.0" cy="426.0" r="6.0"/><circle cx="991.3" cy="506.3" r="2.5"/><circle cx="990.8" cy="386.0" r="6.5"/><circle cx="990.0" cy="372.0" r="3.0"/><circle cx="990.0" cy="347.0" r="3.0"/><circle cx="988.6" cy="420.0" r="3.5"/><circle cx="988.0" cy="137.3" r="1.5"/><circle cx="987.8" cy="314.0" r="2.5"/><circle cx="987.3" cy="492.7" r="7.5"/><circle cx="986.7" cy="433.7" r="4.0"/><circle cx="986.0" cy="450.0" r="7.5"/><circle cx="986.0" cy="347.3" r="3.5"/><circle cx="985.0" cy="405.0" r="5.0"/><circle cx="984.5" cy="380.8" r="5.0"/></g>
<g class="c19"><circle cx="983.7" cy="496.0" r="3.0"/><circle cx="983.2" cy="368.0" r="2.0"/><circle cx="982.7" cy="483.8" r="4.0"/><circle cx="981.0" cy="468.9" r="4.0"/><circle cx="980.5" cy="424.0" r="5.0"/><circle cx="980.0" cy="436.4" r="5.0"/><circle cx="979.0" cy="406.6" r="2.0"/><circle cx="979.0" cy="263.8" r="2.0"/><circle cx="978.6" cy="390.3" r="2.5"/><circle cx="977.8" cy="295.8" r="4.0"/><circle cx="977.2" cy="416.6" r="3.5"/><circle cx="975.0" cy="468.9" r="3.0"/><circle cx="975.0" cy="400.0" r="2.0"/><circle cx="974.5" cy="356.0" r="4.5"/><circle cx="974.3" cy="329.4" r="2.0"/><circle cx="973.7" cy="458.0" r="7.0"/><circle cx="973.0" cy="495.0" r="8.0"/></g>
<g class="c18"><circle cx="976.3" cy="228.8" r="1.5"/><circle cx="972.2" cy="156.4" r="5.0"/><circle cx="972.0" cy="190.1" r="1.5"/><circle cx="971.7" cy="244.4" r="6.5"/><circle cx="971.0" cy="376.8" r="3.5"/><circle cx="969.6" cy="145.0" r="3.5"/><circle cx="969.3" cy="135.7" r="4.5"/><circle cx="968.9" cy="180.9" r="5.0"/><circle cx="968.5" cy="170.0" r="7.0"/><circle cx="967.3" cy="169.2" r="3.0"/><circle cx="966.8" cy="161.8" r="2.0"/><circle cx="966.5" cy="119.0" r="7.5"/><circle cx="966.0" cy="197.8" r="5.0"/><circle cx="965.6" cy="278.7" r="4.5"/><circle cx="964.4" cy="156.9" r="2.0"/><circle cx="964.2" cy="485.0" r="3.5"/><circle cx="963.7" cy="291.4" r="1.5"/><circle cx="962.7" cy="244.4" r="6.0"/><circle cx="961.9" cy="119.3" r="4.0"/><circle cx="960.3" cy="137.0" r="5.5"/><circle cx="959.5" cy="362.0" r="2.0"/><circle cx="959.5" cy="218.2" r="6.5"/><circle cx="959.5" cy="206.8" r="6.5"/><circle cx="957.8" cy="199.4" r="8.0"/><circle cx="957.8" cy="165.1" r="7.0"/><circle cx="957.0" cy="180.6" r="7.0"/></g>
<g class="c17"><circle cx="956.7" cy="235.4" r="10.0"/><circle cx="956.2" cy="123.4" r="3.5"/><circle cx="955.9" cy="117.7" r="5.0"/><circle cx="955.5" cy="291.0" r="5.0"/><circle cx="955.4" cy="219.0" r="5.5"/><circle cx="954.6" cy="192.9" r="3.5"/><circle cx="954.0" cy="363.0" r="3.5"/><circle cx="953.7" cy="241.6" r="5.0"/><circle cx="952.9" cy="214.1" r="2.0"/><circle cx="952.9" cy="162.6" r="4.0"/><circle cx="952.5" cy="310.0" r="2.5"/><circle cx="952.1" cy="147.9" r="5.0"/><circle cx="951.3" cy="188.3" r="3.0"/><circle cx="951.0" cy="281.5" r="2.0"/><circle cx="950.5" cy="161.0" r="3.0"/><circle cx="949.9" cy="460.2" r="4.5"/><circle cx="949.7" cy="134.9" r="7.5"/><circle cx="949.2" cy="202.4" r="3.0"/><circle cx="948.5" cy="185.5" r="2.0"/><circle cx="947.7" cy="211.2" r="2.5"/><circle cx="947.2" cy="223.1" r="5.0"/><circle cx="947.2" cy="167.5" r="3.5"/><circle cx="947.2" cy="124.2" r="3.5"/><circle cx="946.0" cy="288.0" r="3.5"/><circle cx="945.6" cy="129.1" r="5.0"/><circle cx="945.5" cy="384.0" r="4.0"/><circle cx="945.0" cy="357.0" r="2.0"/><circle cx="944.8" cy="108.2" r="2.0"/><circle cx="944.7" cy="375.4" r="5.0"/><circle cx="943.9" cy="163.5" r="5.0"/><circle cx="942.3" cy="144.7" r="5.0"/><circle cx="942.0" cy="150.4" r="5.0"/><circle cx="940.7" cy="107.1" r="4.0"/><circle cx="940.2" cy="171.6" r="4.0"/><circle cx="939.0" cy="231.6" r="4.0"/><circle cx="939.0" cy="211.2" r="3.5"/><circle cx="939.0" cy="126.7" r="7.0"/><circle cx="938.5" cy="192.9" r="7.0"/><circle cx="937.5" cy="275.5" r="2.0"/><circle cx="937.4" cy="145.5" r="4.0"/><circle cx="936.9" cy="398.4" r="3.5"/><circle cx="936.6" cy="128.3" r="3.0"/><circle cx="936.1" cy="179.5" r="3.5"/><circle cx="935.8" cy="135.7" r="5.0"/><circle cx="934.1" cy="161.8" r="4.0"/><circle cx="933.8" cy="118.5" r="4.0"/><circle cx="933.3" cy="148.7" r="5.0"/><circle cx="932.5" cy="219.0" r="3.5"/><circle cx="931.7" cy="246.8" r="4.5"/><circle cx="931.2" cy="167.9" r="4.5"/><circle cx="930.0" cy="270.0" r="3.5"/><circle cx="930.0" cy="121.3" r="3.5"/><circle cx="929.7" cy="139.3" r="6.0"/><circle cx="929.2" cy="229.2" r="9.0"/><circle cx="928.7" cy="203.5" r="10.5"/></g>
<g class="c16"><circle cx="928.5" cy="357.3" r="7.0"/><circle cx="927.7" cy="433.7" r="3.5"/><circle cx="926.6" cy="488.0" r="5.0"/><circle cx="926.0" cy="300.4" r="3.5"/><circle cx="925.8" cy="285.5" r="4.0"/><circle cx="925.0" cy="401.7" r="4.5"/><circle cx="924.0" cy="352.0" r="3.5"/><circle cx="924.0" cy="393.0" r="2.5"/><circle cx="923.6" cy="422.3" r="2.5"/><circle cx="923.6" cy="409.3" r="3.5"/><circle cx="923.6" cy="270.6" r="3.5"/><circle cx="922.2" cy="456.7" r="3.5"/><circle cx="922.0" cy="308.0" r="3.0"/><circle cx="921.0" cy="366.0" r="4.0"/><circle cx="919.5" cy="313.4" r="2.0"/><circle cx="919.5" cy="123.0" r="6.5"/><circle cx="918.0" cy="374.0" r="8.0"/><circle cx="918.0" cy="291.7" r="3.5"/></g>
<g class="c15"><circle cx="918.0" cy="474.0" r="5.0"/><circle cx="917.0" cy="395.0" r="4.5"/><circle cx="916.0" cy="330.0" r="5.5"/><circle cx="915.5" cy="464.0" r="7.0"/><circle cx="915.0" cy="447.0" r="4.0"/><circle cx="914.0" cy="372.0" r="5.0"/><circle cx="914.0" cy="410.6" r="5.0"/><circle cx="913.3" cy="507.6" r="6.5"/><circle cx="913.3" cy="327.5" r="8.0"/><circle cx="912.8" cy="266.5" r="6.5"/><circle cx="912.2" cy="362.7" r="6.0"/><circle cx="910.9" cy="349.0" r="8.0"/></g>
<g class="c14"><circle cx="914.0" cy="485.0" r="7.5"/><circle cx="912.6" cy="442.8" r="6.1"/><circle cx="911.8" cy="414.7" r="4.4"/><circle cx="911.7" cy="531.8" r="7.4"/><circle cx="911.6" cy="475.9" r="6.1"/><circle cx="911.6" cy="457.1" r="4.8"/><circle cx="910.6" cy="451.6" r="6.3"/><circle cx="910.6" cy="514.4" r="4.6"/><circle cx="909.6" cy="137.3" r="6.5"/><circle cx="909.3" cy="110.8" r="4.0"/><circle cx="909.1" cy="418.5" r="5.7"/><circle cx="908.8" cy="185.0" r="6.5"/><circle cx="906.9" cy="460.4" r="5.2"/><circle cx="906.8" cy="326.0" r="7.5"/><circle cx="906.6" cy="490.4" r="5.0"/><circle cx="906.1" cy="398.5" r="5.3"/><circle cx="906.1" cy="440.1" r="5.4"/><circle cx="906.0" cy="101.3" r="4.0"/><circle cx="905.9" cy="197.0" r="6.0"/><circle cx="905.7" cy="385.5" r="5.5"/><circle cx="904.9" cy="410.3" r="5.8"/><circle cx="904.7" cy="425.4" r="8.1"/><circle cx="904.6" cy="501.2" r="7.8"/><circle cx="904.1" cy="482.2" r="6.2"/><circle cx="902.7" cy="432.3" r="5.9"/><circle cx="902.3" cy="428.7" r="4.8"/><circle cx="902.3" cy="185.0" r="3.0"/><circle cx="902.0" cy="554.0" r="8.5"/><circle cx="902.0" cy="471.5" r="6.9"/><circle cx="901.7" cy="447.7" r="4.8"/><circle cx="901.7" cy="396.5" r="7.3"/><circle cx="901.0" cy="606.0" r="6.5"/><circle cx="900.4" cy="467.8" r="4.1"/><circle cx="897.9" cy="461.5" r="6.8"/><circle cx="897.9" cy="507.6" r="5.0"/><circle cx="897.9" cy="498.0" r="5.0"/><circle cx="897.1" cy="524.4" r="8.4"/></g>
<g class="c13"><circle cx="897.0" cy="303.4" r="3.5"/><circle cx="896.9" cy="454.3" r="4.5"/><circle cx="896.5" cy="256.2" r="5.5"/><circle cx="896.0" cy="386.8" r="6.8"/><circle cx="893.8" cy="181.2" r="5.0"/><circle cx="893.7" cy="418.9" r="7.0"/><circle cx="893.3" cy="424.4" r="5.1"/><circle cx="893.0" cy="326.7" r="8.0"/><circle cx="892.7" cy="347.3" r="4.0"/><circle cx="892.6" cy="400.8" r="4.1"/><circle cx="890.7" cy="487.9" r="5.5"/><circle cx="890.5" cy="368.0" r="8.5"/><circle cx="890.3" cy="476.7" r="7.0"/><circle cx="889.7" cy="539.9" r="5.5"/><circle cx="889.5" cy="466.5" r="6.6"/><circle cx="889.5" cy="515.2" r="5.7"/><circle cx="889.3" cy="471.8" r="5.2"/><circle cx="889.1" cy="485.0" r="5.1"/><circle cx="888.4" cy="444.3" r="5.2"/><circle cx="888.1" cy="509.2" r="4.9"/><circle cx="887.6" cy="456.9" r="7.2"/><circle cx="887.6" cy="430.4" r="5.1"/><circle cx="886.7" cy="437.3" r="6.6"/><circle cx="886.2" cy="446.8" r="6.4"/><circle cx="885.4" cy="495.8" r="6.2"/><circle cx="884.7" cy="414.7" r="5.4"/><circle cx="884.3" cy="401.4" r="4.5"/></g>
<g class="c12"><circle cx="887.4" cy="419.2" r="4.0"/><circle cx="885.9" cy="565.7" r="9.0"/><circle cx="885.4" cy="454.2" r="5.0"/><circle cx="883.6" cy="526.4" r="5.0"/><circle cx="883.4" cy="421.9" r="5.0"/><circle cx="882.7" cy="429.3" r="4.0"/><circle cx="882.1" cy="492.5" r="6.5"/><circle cx="881.4" cy="514.1" r="6.0"/><circle cx="881.4" cy="498.4" r="7.0"/><circle cx="880.7" cy="481.1" r="4.0"/><circle cx="880.7" cy="471.7" r="8.0"/><circle cx="880.0" cy="400.4" r="5.5"/><circle cx="879.4" cy="459.6" r="7.0"/><circle cx="879.4" cy="446.1" r="7.0"/><circle cx="879.1" cy="562.3" r="6.0"/><circle cx="877.4" cy="430.6" r="5.0"/><circle cx="877.0" cy="505.0" r="7.0"/><circle cx="876.3" cy="584.7" r="8.0"/><circle cx="876.0" cy="540.0" r="8.0"/><circle cx="875.0" cy="555.0" r="8.0"/><circle cx="874.6" cy="590.3" r="9.5"/><circle cx="872.4" cy="523.0" r="7.5"/><circle cx="872.4" cy="496.1" r="8.0"/><circle cx="871.3" cy="570.2" r="8.5"/><circle cx="871.3" cy="533.1" r="9.0"/><circle cx="870.7" cy="547.7" r="8.5"/><circle cx="870.2" cy="511.8" r="7.0"/><circle cx="869.3" cy="490.5" r="9.0"/><circle cx="869.0" cy="560.6" r="9.0"/></g>
<g class="c11"><circle cx="872.6" cy="396.3" r="3.0"/><circle cx="870.0" cy="394.3" r="5.0"/><circle cx="869.3" cy="464.3" r="5.0"/><circle cx="868.6" cy="443.4" r="4.0"/><circle cx="867.9" cy="415.8" r="6.0"/><circle cx="867.8" cy="294.4" r="3.0"/><circle cx="867.3" cy="474.4" r="4.0"/><circle cx="867.2" cy="327.0" r="3.5"/><circle cx="866.0" cy="408.0" r="5.0"/><circle cx="865.3" cy="438.7" r="6.0"/><circle cx="864.6" cy="462.2" r="4.5"/><circle cx="864.6" cy="393.0" r="4.0"/><circle cx="864.6" cy="365.4" r="3.5"/><circle cx="863.2" cy="481.1" r="5.0"/><circle cx="863.0" cy="430.0" r="5.0"/><circle cx="862.6" cy="471.7" r="5.5"/><circle cx="862.0" cy="385.0" r="5.0"/><circle cx="861.9" cy="445.4" r="4.5"/><circle cx="861.2" cy="403.1" r="9.0"/><circle cx="860.5" cy="599.5" r="4.5"/><circle cx="860.0" cy="452.0" r="5.0"/><circle cx="859.2" cy="421.9" r="6.5"/><circle cx="859.2" cy="364.0" r="5.0"/><circle cx="858.5" cy="426.6" r="5.5"/><circle cx="858.0" cy="355.0" r="7.0"/><circle cx="858.0" cy="322.0" r="7.0"/><circle cx="857.8" cy="462.2" r="6.0"/><circle cx="857.8" cy="290.9" r="3.0"/><circle cx="857.2" cy="370.1" r="6.0"/><circle cx="856.7" cy="523.0" r="4.5"/><circle cx="856.5" cy="498.6" r="5.0"/><circle cx="856.5" cy="477.0" r="6.5"/><circle cx="856.5" cy="444.1" r="4.0"/><circle cx="855.8" cy="391.6" r="6.0"/></g>
<g class="c10"><circle cx="852.8" cy="508.5" r="6.5"/><circle cx="852.5" cy="447.4" r="4.0"/><circle cx="851.5" cy="348.3" r="8.0"/><circle cx="851.1" cy="469.0" r="5.0"/><circle cx="850.4" cy="487.1" r="6.0"/><circle cx="850.4" cy="436.7" r="4.0"/><circle cx="850.0" cy="569.6" r="3.5"/><circle cx="849.1" cy="427.9" r="3.0"/><circle cx="848.8" cy="515.8" r="3.0"/><circle cx="847.1" cy="495.9" r="6.0"/><circle cx="846.4" cy="475.0" r="6.0"/><circle cx="846.4" cy="444.1" r="3.5"/><circle cx="845.7" cy="466.3" r="6.0"/><circle cx="845.7" cy="452.8" r="7.5"/><circle cx="844.5" cy="276.5" r="7.5"/><circle cx="844.4" cy="369.4" r="4.0"/><circle cx="844.2" cy="331.5" r="7.0"/><circle cx="843.2" cy="544.9" r="5.5"/><circle cx="843.1" cy="435.3" r="5.0"/><circle cx="843.1" cy="406.4" r="7.0"/><circle cx="841.7" cy="413.8" r="7.0"/><circle cx="841.6" cy="513.4" r="7.4"/><circle cx="841.2" cy="527.7" r="5.7"/><circle cx="840.4" cy="493.9" r="5.0"/><circle cx="840.4" cy="467.6" r="4.5"/><circle cx="840.0" cy="483.0" r="5.5"/><circle cx="839.7" cy="386.2" r="6.0"/><circle cx="839.3" cy="363.4" r="4.0"/><circle cx="838.5" cy="540.8" r="7.1"/><circle cx="838.3" cy="426.6" r="6.5"/><circle cx="838.0" cy="460.0" r="5.5"/><circle cx="838.0" cy="440.0" r="6.0"/><circle cx="838.0" cy="358.0" r="5.0"/><circle cx="838.0" cy="538.3" r="7.9"/><circle cx="836.9" cy="337.0" r="6.0"/><circle cx="836.6" cy="509.5" r="8.1"/><circle cx="836.3" cy="413.1" r="5.0"/><circle cx="836.3" cy="370.8" r="4.5"/><circle cx="836.1" cy="529.5" r="7.2"/><circle cx="835.0" cy="395.0" r="6.0"/><circle cx="834.9" cy="525.2" r="8.2"/><circle cx="834.8" cy="533.7" r="9.0"/><circle cx="834.3" cy="477.0" r="5.0"/><circle cx="834.3" cy="468.3" r="5.0"/><circle cx="834.0" cy="508.8" r="5.7"/><circle cx="833.0" cy="401.0" r="6.0"/><circle cx="832.8" cy="536.8" r="8.8"/><circle cx="832.3" cy="500.6" r="6.0"/><circle cx="832.3" cy="448.1" r="6.0"/><circle cx="832.3" cy="380.2" r="6.0"/><circle cx="831.3" cy="523.4" r="6.3"/><circle cx="830.9" cy="543.2" r="5.5"/><circle cx="830.7" cy="530.2" r="6.4"/><circle cx="830.6" cy="518.7" r="8.4"/><circle cx="830.4" cy="542.6" r="8.0"/><circle cx="830.0" cy="515.6" r="6.4"/><circle cx="830.0" cy="410.0" r="6.5"/><circle cx="829.0" cy="455.0" r="6.0"/><circle cx="828.3" cy="386.2" r="7.0"/><circle cx="828.2" cy="341.0" r="8.0"/><circle cx="828.0" cy="472.0" r="5.0"/><circle cx="827.6" cy="533.8" r="6.4"/><circle cx="827.6" cy="491.2" r="4.0"/><circle cx="827.6" cy="416.5" r="5.0"/><circle cx="826.9" cy="407.1" r="7.0"/><circle cx="826.6" cy="354.6" r="3.5"/><circle cx="826.4" cy="526.5" r="6.1"/><circle cx="824.9" cy="489.2" r="4.5"/><circle cx="824.9" cy="442.1" r="8.5"/><circle cx="824.2" cy="466.3" r="5.0"/><circle cx="823.5" cy="426.6" r="7.0"/><circle cx="822.9" cy="476.4" r="6.5"/><circle cx="821.8" cy="520.2" r="6.8"/><circle cx="821.5" cy="446.8" r="5.0"/><circle cx="820.9" cy="547.1" r="8.0"/><circle cx="820.9" cy="497.2" r="6.0"/><circle cx="820.8" cy="564.5" r="7.0"/><circle cx="820.2" cy="591.5" r="7.0"/><circle cx="820.1" cy="533.6" r="5.1"/><circle cx="819.8" cy="521.1" r="6.9"/><circle cx="819.6" cy="506.1" r="6.7"/><circle cx="818.0" cy="601.6" r="10.0"/><circle cx="816.8" cy="481.8" r="6.0"/><circle cx="816.3" cy="553.3" r="9.0"/><circle cx="816.1" cy="546.3" r="6.5"/><circle cx="814.1" cy="500.6" r="5.0"/><circle cx="813.1" cy="521.8" r="7.7"/><circle cx="812.1" cy="491.2" r="5.5"/><circle cx="811.0" cy="513.7" r="7.0"/><circle cx="810.4" cy="532.0" r="7.8"/><circle cx="809.1" cy="540.4" r="7.5"/></g>
<g class="c9"><circle cx="811.0" cy="414.4" r="6.2"/><circle cx="809.8" cy="533.4" r="5.5"/><circle cx="809.3" cy="479.7" r="7.0"/><circle cx="808.4" cy="509.5" r="7.0"/><circle cx="808.4" cy="435.0" r="7.0"/><circle cx="808.4" cy="386.0" r="6.0"/><circle cx="807.0" cy="443.0" r="5.0"/><circle cx="806.7" cy="374.0" r="6.0"/><circle cx="806.2" cy="488.6" r="6.6"/><circle cx="805.7" cy="462.0" r="6.0"/><circle cx="805.7" cy="255.7" r="7.0"/><circle cx="805.3" cy="468.9" r="6.2"/><circle cx="804.4" cy="398.4" r="8.0"/><circle cx="804.0" cy="372.0" r="6.0"/><circle cx="803.8" cy="470.8" r="3.5"/><circle cx="803.0" cy="304.0" r="5.5"/><circle cx="802.7" cy="365.4" r="4.0"/><circle cx="801.5" cy="443.9" r="5.1"/><circle cx="801.5" cy="986.5" r="7.0"/><circle cx="800.3" cy="378.0" r="7.0"/><circle cx="799.5" cy="428.0" r="7.0"/><circle cx="799.5" cy="333.7" r="7.0"/><circle cx="799.0" cy="458.6" r="5.0"/><circle cx="797.8" cy="407.8" r="6.5"/><circle cx="797.6" cy="497.0" r="8.0"/><circle cx="796.8" cy="543.4" r="9.0"/><circle cx="796.8" cy="517.7" r="8.0"/><circle cx="794.9" cy="489.0" r="7.0"/><circle cx="794.3" cy="533.3" r="4.3"/></g>
<g class="c8"><circle cx="794.0" cy="263.8" r="3.0"/><circle cx="792.7" cy="379.0" r="6.5"/><circle cx="792.7" cy="280.9" r="5.0"/><circle cx="792.2" cy="309.3" r="3.5"/><circle cx="792.0" cy="337.0" r="4.5"/><circle cx="791.4" cy="329.6" r="4.5"/><circle cx="790.3" cy="350.5" r="8.0"/></g>
<g class="c7"><circle cx="791.0" cy="435.0" r="3.0"/><circle cx="790.5" cy="461.6" r="4.5"/><circle cx="789.7" cy="546.0" r="4.0"/><circle cx="789.7" cy="445.9" r="2.5"/><circle cx="789.0" cy="525.8" r="4.5"/><circle cx="787.8" cy="499.0" r="3.0"/><circle cx="787.2" cy="518.5" r="5.0"/><circle cx="787.2" cy="370.8" r="3.0"/><circle cx="787.2" cy="368.7" r="4.0"/><circle cx="787.0" cy="434.0" r="3.5"/><circle cx="785.9" cy="403.9" r="5.5"/><circle cx="785.6" cy="411.0" r="3.0"/><circle cx="784.5" cy="356.7" r="3.5"/><circle cx="783.7" cy="570.0" r="2.5"/><circle cx="783.7" cy="548.8" r="6.0"/><circle cx="783.7" cy="488.4" r="4.0"/><circle cx="782.4" cy="538.0" r="5.5"/><circle cx="782.4" cy="485.0" r="6.0"/><circle cx="781.3" cy="339.7" r="2.5"/><circle cx="781.0" cy="446.7" r="3.0"/><circle cx="781.0" cy="426.0" r="3.5"/><circle cx="779.0" cy="277.4" r="3.0"/><circle cx="778.8" cy="345.0" r="4.5"/><circle cx="778.0" cy="560.5" r="3.0"/><circle cx="777.5" cy="327.0" r="2.5"/><circle cx="777.0" cy="380.8" r="3.0"/><circle cx="776.4" cy="354.6" r="4.5"/><circle cx="775.6" cy="338.9" r="3.5"/><circle cx="775.0" cy="410.6" r="3.0"/><circle cx="774.2" cy="443.0" r="7.0"/><circle cx="773.7" cy="416.0" r="5.0"/><circle cx="773.7" cy="298.2" r="4.5"/><circle cx="773.4" cy="313.4" r="5.5"/><circle cx="772.9" cy="486.5" r="5.0"/><circle cx="772.0" cy="448.6" r="4.0"/><circle cx="771.5" cy="386.0" r="9.0"/><circle cx="771.0" cy="505.5" r="8.0"/><circle cx="770.2" cy="477.0" r="5.0"/><circle cx="769.6" cy="533.4" r="7.0"/><circle cx="768.8" cy="544.8" r="8.0"/></g>
<g class="c6"><circle cx="768.0" cy="162.5" r="2.0"/><circle cx="767.5" cy="572.7" r="6.0"/><circle cx="767.5" cy="418.8" r="6.0"/><circle cx="767.5" cy="178.5" r="4.5"/><circle cx="766.0" cy="515.0" r="7.0"/><circle cx="766.0" cy="393.0" r="4.5"/><circle cx="765.3" cy="494.0" r="5.0"/><circle cx="764.8" cy="482.4" r="6.0"/><circle cx="763.4" cy="527.0" r="6.0"/><circle cx="762.9" cy="459.4" r="8.5"/><circle cx="762.0" cy="413.3" r="9.0"/><circle cx="761.8" cy="619.8" r="10.0"/><circle cx="761.8" cy="601.6" r="8.0"/><circle cx="761.0" cy="517.3" r="6.8"/><circle cx="760.7" cy="570.5" r="7.0"/><circle cx="760.7" cy="362.7" r="5.5"/><circle cx="759.3" cy="445.9" r="6.5"/><circle cx="758.9" cy="495.3" r="4.4"/><circle cx="758.5" cy="511.2" r="7.7"/><circle cx="758.4" cy="518.3" r="5.5"/><circle cx="758.0" cy="496.0" r="5.0"/><circle cx="757.8" cy="525.1" r="4.1"/><circle cx="756.0" cy="545.6" r="7.5"/><circle cx="755.3" cy="432.3" r="4.0"/><circle cx="754.2" cy="281.4" r="7.5"/><circle cx="753.9" cy="362.7" r="6.0"/><circle cx="753.4" cy="416.9" r="6.0"/><circle cx="753.0" cy="506.4" r="4.3"/><circle cx="752.6" cy="486.5" r="8.0"/><circle cx="752.6" cy="372.7" r="6.5"/><circle cx="751.7" cy="473.0" r="8.0"/><circle cx="751.7" cy="346.4" r="9.0"/><circle cx="751.2" cy="370.8" r="6.0"/><circle cx="750.7" cy="456.2" r="5.0"/><circle cx="749.4" cy="530.9" r="4.1"/><circle cx="748.5" cy="510.9" r="8.0"/></g>
<g class="c5"><circle cx="749.3" cy="230.2" r="1.5"/><circle cx="749.0" cy="341.0" r="3.0"/><circle cx="748.8" cy="510.3" r="4.0"/><circle cx="748.0" cy="468.9" r="4.0"/><circle cx="747.1" cy="326.9" r="4.0"/><circle cx="746.6" cy="365.4" r="3.0"/><circle cx="746.6" cy="209.0" r="3.0"/><circle cx="746.3" cy="186.9" r="4.5"/><circle cx="745.2" cy="203.0" r="2.5"/><circle cx="744.7" cy="254.9" r="4.0"/><circle cx="744.4" cy="231.3" r="4.5"/><circle cx="743.6" cy="236.0" r="1.5"/><circle cx="743.3" cy="173.0" r="4.0"/><circle cx="742.8" cy="195.5" r="4.0"/><circle cx="741.7" cy="389.0" r="7.0"/><circle cx="741.7" cy="356.5" r="4.0"/><circle cx="741.2" cy="274.6" r="6.0"/><circle cx="740.4" cy="350.5" r="4.0"/><circle cx="739.8" cy="429.0" r="4.0"/><circle cx="738.7" cy="481.9" r="6.0"/><circle cx="737.7" cy="437.7" r="6.0"/><circle cx="737.7" cy="368.0" r="3.0"/><circle cx="736.3" cy="305.3" r="5.0"/><circle cx="735.0" cy="408.0" r="6.0"/><circle cx="734.7" cy="542.9" r="6.5"/><circle cx="734.4" cy="492.5" r="8.0"/><circle cx="732.2" cy="424.2" r="4.5"/><circle cx="732.2" cy="376.8" r="9.5"/><circle cx="731.4" cy="445.9" r="6.0"/><circle cx="730.9" cy="372.0" r="8.0"/></g>
<g class="c4"><circle cx="742.5" cy="121.6" r="2.0"/><circle cx="733.6" cy="216.4" r="2.5"/><circle cx="730.9" cy="222.6" r="4.0"/><circle cx="730.3" cy="213.0" r="4.0"/><circle cx="729.8" cy="326.7" r="4.5"/><circle cx="729.5" cy="543.4" r="3.5"/><circle cx="729.0" cy="454.0" r="4.5"/><circle cx="729.0" cy="239.4" r="5.5"/><circle cx="728.2" cy="343.7" r="2.5"/><circle cx="728.2" cy="301.2" r="6.0"/><circle cx="726.5" cy="147.3" r="6.5"/><circle cx="726.3" cy="233.5" r="4.5"/><circle cx="725.5" cy="412.0" r="5.0"/><circle cx="724.0" cy="379.5" r="5.5"/><circle cx="723.6" cy="426.9" r="4.5"/><circle cx="723.3" cy="182.5" r="4.0"/><circle cx="722.8" cy="344.5" r="5.0"/><circle cx="722.8" cy="133.2" r="6.0"/><circle cx="722.0" cy="299.0" r="4.5"/><circle cx="722.0" cy="262.5" r="5.0"/><circle cx="721.4" cy="416.9" r="3.5"/><circle cx="720.6" cy="512.2" r="4.0"/><circle cx="720.6" cy="335.6" r="6.0"/><circle cx="719.8" cy="319.6" r="2.5"/><circle cx="719.2" cy="558.8" r="4.0"/><circle cx="719.0" cy="437.2" r="4.0"/><circle cx="718.4" cy="481.9" r="4.0"/><circle cx="718.2" cy="219.0" r="3.5"/><circle cx="717.3" cy="375.4" r="5.0"/><circle cx="717.3" cy="372.0" r="5.0"/><circle cx="716.5" cy="539.9" r="2.5"/><circle cx="716.0" cy="212.9" r="4.0"/><circle cx="715.2" cy="258.4" r="2.5"/><circle cx="714.6" cy="457.2" r="3.5"/><circle cx="714.4" cy="342.4" r="3.5"/><circle cx="713.8" cy="425.0" r="4.5"/><circle cx="713.3" cy="403.9" r="9.5"/></g>
<g class="c3"><circle cx="713.3" cy="290.0" r="3.0"/><circle cx="711.9" cy="380.8" r="6.0"/><circle cx="711.9" cy="272.8" r="3.5"/><circle cx="711.9" cy="218.6" r="5.0"/><circle cx="711.1" cy="330.7" r="4.5"/><circle cx="710.6" cy="287.4" r="3.5"/><circle cx="709.2" cy="491.0" r="3.5"/><circle cx="709.2" cy="365.4" r="6.5"/><circle cx="708.4" cy="296.3" r="1.5"/><circle cx="708.4" cy="187.0" r="4.0"/><circle cx="708.4" cy="142.7" r="2.5"/><circle cx="707.9" cy="238.9" r="5.5"/><circle cx="707.0" cy="147.6" r="3.0"/><circle cx="706.5" cy="272.5" r="3.0"/><circle cx="706.0" cy="318.5" r="3.0"/><circle cx="705.0" cy="209.6" r="5.0"/><circle cx="704.0" cy="313.9" r="3.5"/><circle cx="703.8" cy="362.7" r="5.0"/><circle cx="703.8" cy="356.7" r="2.5"/><circle cx="703.2" cy="186.9" r="4.0"/><circle cx="701.9" cy="374.0" r="3.0"/><circle cx="701.6" cy="204.2" r="4.0"/><circle cx="701.0" cy="391.7" r="6.0"/><circle cx="700.5" cy="402.5" r="5.0"/><circle cx="700.3" cy="532.8" r="2.0"/><circle cx="699.7" cy="234.8" r="3.0"/><circle cx="699.2" cy="231.3" r="4.0"/><circle cx="698.6" cy="104.0" r="4.0"/><circle cx="698.4" cy="318.0" r="2.0"/><circle cx="697.6" cy="412.0" r="5.0"/><circle cx="697.6" cy="357.3" r="4.0"/><circle cx="696.7" cy="179.8" r="3.0"/><circle cx="696.2" cy="276.8" r="3.5"/><circle cx="695.7" cy="457.2" r="2.5"/><circle cx="695.7" cy="374.0" r="5.5"/><circle cx="694.3" cy="381.4" r="2.0"/><circle cx="694.3" cy="372.0" r="4.0"/><circle cx="694.3" cy="299.9" r="4.5"/><circle cx="694.3" cy="250.8" r="4.0"/><circle cx="693.8" cy="418.8" r="4.0"/><circle cx="693.5" cy="351.9" r="5.5"/><circle cx="692.7" cy="158.7" r="2.0"/><circle cx="692.4" cy="323.4" r="5.0"/><circle cx="691.6" cy="391.7" r="6.0"/><circle cx="691.6" cy="189.3" r="7.0"/><circle cx="691.6" cy="125.6" r="5.0"/><circle cx="690.2" cy="329.7" r="7.0"/></g>
<g class="c2"><circle cx="694.4" cy="284.7" r="6.7"/><circle cx="691.9" cy="298.0" r="4.4"/><circle cx="691.0" cy="228.1" r="5.0"/><circle cx="690.2" cy="239.4" r="6.5"/><circle cx="688.9" cy="312.6" r="4.0"/><circle cx="688.9" cy="201.5" r="7.0"/><circle cx="688.3" cy="149.5" r="3.0"/><circle cx="687.5" cy="396.3" r="4.5"/><circle cx="686.2" cy="293.0" r="4.0"/><circle cx="686.2" cy="201.0" r="4.0"/><circle cx="685.4" cy="176.0" r="3.8"/><circle cx="684.8" cy="129.7" r="7.0"/><circle cx="684.2" cy="199.2" r="4.3"/><circle cx="683.7" cy="234.7" r="7.1"/><circle cx="683.5" cy="277.4" r="7.0"/><circle cx="683.5" cy="251.6" r="7.5"/><circle cx="683.5" cy="124.3" r="5.0"/><circle cx="682.9" cy="149.2" r="3.0"/><circle cx="682.1" cy="301.7" r="6.0"/><circle cx="682.1" cy="279.5" r="4.0"/><circle cx="682.1" cy="232.7" r="8.0"/><circle cx="680.8" cy="215.0" r="6.5"/><circle cx="679.4" cy="268.7" r="3.0"/><circle cx="679.4" cy="166.3" r="6.5"/><circle cx="679.4" cy="124.3" r="6.0"/><circle cx="679.0" cy="471.0" r="4.5"/><circle cx="676.7" cy="223.2" r="9.0"/><circle cx="676.0" cy="258.5" r="3.9"/><circle cx="675.3" cy="295.0" r="9.0"/><circle cx="675.3" cy="236.7" r="9.0"/><circle cx="675.3" cy="204.8" r="4.5"/><circle cx="674.5" cy="156.8" r="7.0"/><circle cx="674.0" cy="306.6" r="4.0"/><circle cx="674.0" cy="259.8" r="3.5"/><circle cx="674.0" cy="181.7" r="6.5"/><circle cx="673.7" cy="266.1" r="4.2"/><circle cx="673.2" cy="280.6" r="3.0"/><circle cx="671.3" cy="165.0" r="7.5"/><circle cx="671.3" cy="127.0" r="7.0"/><circle cx="670.5" cy="114.8" r="10.0"/><circle cx="670.0" cy="266.5" r="4.5"/><circle cx="669.5" cy="181.6" r="4.4"/><circle cx="669.4" cy="317.5" r="7.0"/><circle cx="669.1" cy="140.5" r="2.5"/><circle cx="668.6" cy="256.2" r="4.5"/><circle cx="667.2" cy="374.9" r="9.0"/><circle cx="667.2" cy="342.4" r="10.0"/><circle cx="666.7" cy="370.8" r="9.0"/><circle cx="663.0" cy="333.5" r="3.0"/></g>
<g class="c1"><circle cx="665.9" cy="240.2" r="6.5"/><circle cx="665.9" cy="219.9" r="8.0"/><circle cx="665.9" cy="192.0" r="6.5"/><circle cx="664.5" cy="280.0" r="6.0"/><circle cx="664.5" cy="165.2" r="2.5"/><circle cx="664.0" cy="180.4" r="4.5"/><circle cx="661.8" cy="355.0" r="7.0"/><circle cx="661.8" cy="322.9" r="5.5"/><circle cx="661.8" cy="203.4" r="7.0"/><circle cx="661.0" cy="262.5" r="6.5"/><circle cx="660.4" cy="131.6" r="2.5"/><circle cx="660.0" cy="469.4" r="6.5"/><circle cx="659.0" cy="293.6" r="5.0"/><circle cx="658.0" cy="145.0" r="2.5"/><circle cx="657.7" cy="233.5" r="6.0"/><circle cx="657.6" cy="469.0" r="5.0"/><circle cx="657.2" cy="137.8" r="5.0"/><circle cx="656.4" cy="192.0" r="5.0"/><circle cx="655.0" cy="278.7" r="7.5"/><circle cx="655.0" cy="215.9" r="7.5"/><circle cx="654.9" cy="214.2" r="5.5"/><circle cx="654.2" cy="422.8" r="7.5"/><circle cx="653.7" cy="323.4" r="7.0"/><circle cx="653.7" cy="158.7" r="6.5"/><circle cx="651.0" cy="382.2" r="6.0"/><circle cx="651.0" cy="183.9" r="8.0"/><circle cx="649.6" cy="369.0" r="6.5"/><circle cx="649.6" cy="244.0" r="4.5"/><circle cx="649.6" cy="231.3" r="7.5"/><circle cx="649.1" cy="360.2" r="4.6"/><circle cx="648.3" cy="311.2" r="7.5"/><circle cx="647.7" cy="209.0" r="7.0"/><circle cx="647.7" cy="165.0" r="7.0"/><circle cx="646.9" cy="259.8" r="7.0"/><circle cx="645.5" cy="192.6" r="6.0"/><circle cx="644.2" cy="408.0" r="6.0"/><circle cx="644.2" cy="293.6" r="7.0"/><circle cx="643.9" cy="283.8" r="3.3"/><circle cx="643.8" cy="407.4" r="6.5"/><circle cx="642.8" cy="274.6" r="8.0"/><circle cx="641.5" cy="401.0" r="7.0"/><circle cx="640.0" cy="427.7" r="6.5"/><circle cx="640.0" cy="371.4" r="6.0"/><circle cx="640.0" cy="366.8" r="6.0"/><circle cx="639.6" cy="449.0" r="7.0"/><circle cx="639.6" cy="210.2" r="7.0"/><circle cx="638.8" cy="330.2" r="8.0"/><circle cx="638.8" cy="185.0" r="6.0"/><circle cx="638.7" cy="315.4" r="5.4"/><circle cx="637.4" cy="171.0" r="8.0"/><circle cx="636.9" cy="346.9" r="6.2"/><circle cx="636.7" cy="178.0" r="5.4"/><circle cx="636.0" cy="258.4" r="9.0"/><circle cx="635.1" cy="241.0" r="3.1"/><circle cx="634.7" cy="410.0" r="3.0"/><circle cx="634.7" cy="150.8" r="10.0"/><circle cx="633.4" cy="301.1" r="3.0"/><circle cx="633.3" cy="191.5" r="8.5"/><circle cx="633.3" cy="134.3" r="5.0"/><circle cx="632.5" cy="123.0" r="7.5"/><circle cx="632.0" cy="339.7" r="9.5"/><circle cx="630.6" cy="393.0" r="8.0"/><circle cx="630.6" cy="312.6" r="9.0"/><circle cx="630.6" cy="295.0" r="9.5"/><circle cx="630.6" cy="232.7" r="10.0"/><circle cx="630.3" cy="262.3" r="4.3"/></g>
<g class="c0"><circle cx="629.0" cy="377.9" r="6.0"/><circle cx="629.0" cy="237.0" r="6.5"/><circle cx="628.7" cy="493.3" r="7.0"/><circle cx="627.0" cy="303.4" r="6.5"/><circle cx="626.6" cy="418.8" r="7.0"/><circle cx="626.4" cy="401.0" r="8.0"/><circle cx="625.6" cy="275.0" r="9.0"/><circle cx="625.0" cy="354.9" r="9.0"/><circle cx="623.9" cy="372.7" r="6.0"/><circle cx="622.4" cy="368.4" r="7.0"/><circle cx="622.4" cy="268.2" r="8.0"/><circle cx="621.0" cy="330.0" r="7.0"/><circle cx="621.0" cy="422.8" r="6.5"/><circle cx="619.8" cy="431.0" r="7.0"/><circle cx="619.7" cy="390.0" r="7.5"/><circle cx="619.7" cy="338.6" r="6.0"/><circle cx="619.7" cy="256.0" r="9.0"/><circle cx="619.3" cy="497.9" r="5.5"/><circle cx="618.4" cy="390.3" r="6.0"/><circle cx="617.0" cy="411.8" r="7.0"/><circle cx="617.0" cy="319.7" r="7.0"/><circle cx="617.0" cy="300.7" r="8.0"/><circle cx="617.0" cy="255.7" r="8.5"/><circle cx="615.7" cy="436.4" r="4.0"/><circle cx="615.0" cy="285.0" r="7.0"/><circle cx="614.4" cy="462.0" r="7.5"/><circle cx="614.4" cy="413.3" r="6.5"/><circle cx="614.1" cy="575.9" r="10.1"/><circle cx="612.0" cy="353.5" r="8.0"/><circle cx="611.7" cy="524.4" r="8.0"/><circle cx="611.5" cy="243.8" r="9.0"/><circle cx="611.0" cy="345.0" r="7.0"/><circle cx="610.3" cy="501.4" r="7.0"/><circle cx="610.1" cy="563.9" r="2.8"/><circle cx="609.0" cy="493.3" r="6.5"/><circle cx="608.8" cy="376.0" r="4.5"/><circle cx="607.5" cy="306.0" r="9.0"/><circle cx="607.5" cy="231.6" r="7.0"/><circle cx="606.3" cy="481.0" r="10.5"/><circle cx="605.0" cy="427.7" r="10.0"/><circle cx="604.8" cy="333.0" r="11.0"/></g>
<g class="c19"><circle cx="604.5" cy="288.2" r="3.0"/><circle cx="604.0" cy="198.5" r="2.0"/><circle cx="603.7" cy="631.7" r="7.4"/><circle cx="603.7" cy="596.7" r="6.9"/><circle cx="603.6" cy="642.4" r="6.1"/><circle cx="603.0" cy="592.1" r="7.8"/><circle cx="602.9" cy="366.5" r="3.0"/><circle cx="602.9" cy="668.0" r="9.5"/><circle cx="601.2" cy="629.8" r="7.8"/><circle cx="600.8" cy="597.7" r="6.9"/><circle cx="600.7" cy="689.0" r="7.0"/><circle cx="600.7" cy="618.9" r="8.6"/><circle cx="600.7" cy="594.6" r="9.2"/><circle cx="600.6" cy="669.9" r="7.3"/><circle cx="600.6" cy="600.1" r="6.1"/><circle cx="600.5" cy="632.6" r="8.0"/><circle cx="599.3" cy="602.1" r="8.1"/><circle cx="599.0" cy="611.1" r="9.3"/><circle cx="598.1" cy="619.6" r="7.2"/><circle cx="598.1" cy="644.6" r="7.9"/><circle cx="598.0" cy="618.1" r="8.9"/><circle cx="597.8" cy="646.2" r="8.4"/><circle cx="597.5" cy="610.2" r="8.0"/><circle cx="597.0" cy="668.0" r="9.0"/><circle cx="596.8" cy="607.1" r="6.8"/><circle cx="595.7" cy="625.2" r="6.7"/><circle cx="594.6" cy="599.3" r="9.2"/><circle cx="594.5" cy="653.2" r="6.9"/><circle cx="594.3" cy="614.6" r="6.8"/><circle cx="593.9" cy="662.2" r="6.1"/><circle cx="593.2" cy="605.0" r="6.1"/><circle cx="593.1" cy="666.7" r="6.8"/><circle cx="593.0" cy="620.5" r="7.0"/><circle cx="592.8" cy="590.9" r="7.5"/><circle cx="592.7" cy="606.0" r="9.4"/><circle cx="592.3" cy="640.4" r="9.2"/><circle cx="592.0" cy="676.0" r="8.0"/><circle cx="592.0" cy="660.8" r="8.2"/><circle cx="592.0" cy="638.1" r="8.9"/><circle cx="591.2" cy="622.9" r="7.9"/><circle cx="591.0" cy="631.0" r="6.6"/><circle cx="590.9" cy="654.8" r="7.8"/><circle cx="590.6" cy="633.0" r="9.0"/><circle cx="589.6" cy="658.0" r="7.7"/><circle cx="588.8" cy="617.4" r="6.1"/><circle cx="588.6" cy="624.2" r="6.1"/><circle cx="588.5" cy="604.3" r="8.1"/><circle cx="588.5" cy="670.0" r="11.0"/><circle cx="588.2" cy="664.8" r="8.9"/><circle cx="588.2" cy="652.6" r="7.3"/><circle cx="587.5" cy="608.8" r="6.6"/><circle cx="587.4" cy="627.7" r="7.3"/><circle cx="587.2" cy="630.4" r="6.0"/><circle cx="587.1" cy="639.2" r="7.6"/><circle cx="586.9" cy="626.4" r="9.1"/><circle cx="586.8" cy="645.3" r="6.1"/><circle cx="586.8" cy="623.8" r="6.8"/><circle cx="586.6" cy="626.1" r="6.5"/><circle cx="586.0" cy="615.2" r="8.3"/><circle cx="585.9" cy="647.9" r="6.3"/><circle cx="585.3" cy="659.4" r="8.6"/><circle cx="585.2" cy="651.7" r="6.6"/><circle cx="585.1" cy="636.6" r="6.6"/><circle cx="585.0" cy="621.3" r="8.2"/><circle cx="584.7" cy="636.9" r="7.3"/><circle cx="584.4" cy="563.0" r="7.0"/><circle cx="584.1" cy="634.3" r="6.9"/><circle cx="583.7" cy="663.8" r="7.1"/><circle cx="583.5" cy="634.8" r="6.8"/><circle cx="583.2" cy="628.4" r="7.8"/><circle cx="583.1" cy="588.3" r="8.3"/><circle cx="582.6" cy="628.8" r="7.7"/><circle cx="582.3" cy="540.0" r="8.0"/><circle cx="582.1" cy="595.8" r="8.8"/><circle cx="581.9" cy="656.6" r="7.4"/><circle cx="581.8" cy="638.8" r="8.1"/><circle cx="581.7" cy="656.0" r="8.5"/><circle cx="581.6" cy="622.1" r="6.4"/><circle cx="581.5" cy="610.0" r="6.0"/><circle cx="580.4" cy="670.4" r="6.3"/><circle cx="580.3" cy="649.6" r="8.7"/><circle cx="580.1" cy="615.8" r="8.7"/><circle cx="579.7" cy="603.5" r="6.7"/><circle cx="579.5" cy="650.1" r="7.9"/><circle cx="579.1" cy="635.6" r="6.3"/><circle cx="578.9" cy="613.2" r="6.4"/><circle cx="578.9" cy="641.2" r="7.6"/><circle cx="578.6" cy="613.0" r="6.3"/><circle cx="578.5" cy="648.1" r="7.3"/><circle cx="578.5" cy="562.3" r="7.0"/><circle cx="578.4" cy="642.8" r="6.9"/><circle cx="578.4" cy="643.5" r="9.2"/></g>
<g class="c18"><circle cx="575.8" cy="346.7" r="5.5"/><circle cx="575.6" cy="459.8" r="3.0"/><circle cx="575.3" cy="440.7" r="4.0"/><circle cx="574.1" cy="363.5" r="4.0"/><circle cx="574.0" cy="485.7" r="3.0"/><circle cx="573.6" cy="242.7" r="4.0"/><circle cx="573.3" cy="475.0" r="5.5"/><circle cx="573.3" cy="208.8" r="3.5"/><circle cx="572.0" cy="451.8" r="3.0"/><circle cx="571.7" cy="427.6" r="5.5"/><circle cx="570.4" cy="454.8" r="2.5"/><circle cx="570.3" cy="318.3" r="2.0"/><circle cx="570.0" cy="487.1" r="6.0"/><circle cx="569.6" cy="542.9" r="3.5"/><circle cx="569.3" cy="440.7" r="3.0"/><circle cx="568.6" cy="470.9" r="4.0"/><circle cx="567.9" cy="497.2" r="6.0"/></g>
<g class="c17"><circle cx="567.3" cy="576.6" r="7.5"/><circle cx="567.3" cy="520.0" r="7.0"/><circle cx="566.3" cy="372.5" r="5.5"/><circle cx="565.5" cy="394.7" r="3.5"/><circle cx="565.5" cy="333.7" r="7.5"/><circle cx="564.8" cy="419.7" r="7.0"/><circle cx="564.7" cy="401.0" r="4.5"/><circle cx="564.0" cy="616.0" r="9.0"/><circle cx="563.3" cy="346.7" r="6.0"/><circle cx="563.2" cy="432.2" r="5.4"/><circle cx="563.2" cy="450.8" r="5.0"/><circle cx="561.9" cy="460.2" r="5.0"/><circle cx="561.2" cy="528.8" r="6.5"/><circle cx="561.2" cy="483.1" r="5.5"/><circle cx="560.5" cy="557.0" r="7.0"/><circle cx="560.3" cy="376.5" r="3.5"/><circle cx="560.0" cy="592.0" r="7.5"/><circle cx="559.2" cy="320.0" r="4.5"/><circle cx="559.0" cy="636.8" r="6.5"/><circle cx="558.2" cy="263.6" r="9.0"/><circle cx="557.8" cy="446.1" r="8.0"/><circle cx="557.7" cy="424.7" r="4.0"/><circle cx="555.8" cy="458.8" r="2.0"/><circle cx="555.8" cy="458.8" r="5.5"/></g>
<g class="c16"><circle cx="559.2" cy="520.7" r="4.0"/><circle cx="556.0" cy="597.8" r="4.0"/><circle cx="555.8" cy="519.4" r="5.0"/><circle cx="554.5" cy="428.0" r="9.5"/><circle cx="554.5" cy="500.5" r="6.0"/><circle cx="554.5" cy="470.9" r="5.0"/><circle cx="554.5" cy="423.8" r="8.6"/><circle cx="553.8" cy="445.4" r="4.5"/><circle cx="551.8" cy="484.4" r="9.0"/><circle cx="551.1" cy="161.2" r="8.0"/><circle cx="550.6" cy="210.0" r="8.0"/><circle cx="550.0" cy="199.0" r="7.5"/><circle cx="549.3" cy="431.6" r="6.2"/><circle cx="548.4" cy="528.1" r="5.5"/><circle cx="547.8" cy="516.0" r="8.0"/><circle cx="547.3" cy="619.0" r="6.5"/><circle cx="547.1" cy="535.5" r="4.5"/><circle cx="546.5" cy="590.0" r="8.5"/><circle cx="546.4" cy="502.6" r="8.0"/><circle cx="546.0" cy="359.5" r="4.0"/><circle cx="545.1" cy="453.5" r="6.0"/><circle cx="544.4" cy="546.3" r="5.0"/><circle cx="544.4" cy="469.6" r="7.0"/><circle cx="541.8" cy="440.4" r="5.1"/><circle cx="541.7" cy="536.2" r="6.5"/><circle cx="541.6" cy="597.5" r="7.5"/><circle cx="541.4" cy="416.4" r="5.3"/><circle cx="541.0" cy="639.5" r="7.5"/><circle cx="540.4" cy="563.8" r="9.0"/><circle cx="539.0" cy="432.5" r="8.4"/><circle cx="538.3" cy="575.2" r="7.0"/><circle cx="538.3" cy="543.6" r="7.0"/><circle cx="538.3" cy="451.4" r="6.0"/><circle cx="537.7" cy="549.0" r="7.0"/><circle cx="537.7" cy="516.0" r="6.0"/></g>
<g class="c15"><circle cx="536.3" cy="476.3" r="5.0"/><circle cx="536.2" cy="335.1" r="3.5"/><circle cx="535.7" cy="500.5" r="5.5"/><circle cx="535.7" cy="495.2" r="4.0"/><circle cx="535.7" cy="354.9" r="5.5"/><circle cx="535.1" cy="412.4" r="4.9"/><circle cx="535.0" cy="483.7" r="5.5"/><circle cx="533.6" cy="511.3" r="6.5"/><circle cx="532.3" cy="468.3" r="7.0"/><circle cx="531.7" cy="408.2" r="4.7"/><circle cx="531.6" cy="440.7" r="3.5"/><circle cx="531.3" cy="423.6" r="8.1"/><circle cx="530.2" cy="146.3" r="4.0"/><circle cx="529.7" cy="621.9" r="8.0"/><circle cx="528.9" cy="314.8" r="3.5"/><circle cx="528.3" cy="526.1" r="5.0"/><circle cx="528.3" cy="242.2" r="3.5"/><circle cx="527.6" cy="497.2" r="6.0"/><circle cx="527.6" cy="475.7" r="6.5"/><circle cx="526.9" cy="448.7" r="5.0"/><circle cx="526.7" cy="302.3" r="5.0"/><circle cx="525.6" cy="588.3" r="6.5"/><circle cx="524.9" cy="485.1" r="7.0"/><circle cx="524.4" cy="429.6" r="4.3"/><circle cx="524.2" cy="542.2" r="5.5"/><circle cx="523.5" cy="549.6" r="7.0"/><circle cx="520.5" cy="395.0" r="7.2"/></g>
<g class="c14"><circle cx="524.1" cy="392.4" r="4.0"/><circle cx="522.9" cy="522.7" r="7.5"/><circle cx="522.8" cy="350.7" r="5.0"/><circle cx="522.2" cy="506.6" r="6.5"/><circle cx="522.1" cy="443.6" r="5.0"/><circle cx="521.5" cy="461.5" r="5.0"/><circle cx="521.4" cy="428.8" r="5.0"/><circle cx="521.4" cy="385.7" r="5.0"/><circle cx="520.2" cy="445.4" r="7.0"/><circle cx="520.1" cy="415.3" r="7.0"/><circle cx="519.8" cy="494.5" r="3.5"/><circle cx="518.7" cy="380.3" r="5.0"/><circle cx="517.8" cy="202.6" r="3.5"/><circle cx="517.1" cy="335.9" r="9.0"/><circle cx="516.7" cy="401.2" r="8.0"/><circle cx="516.7" cy="353.4" r="8.5"/><circle cx="516.1" cy="468.3" r="5.5"/><circle cx="516.0" cy="388.4" r="4.0"/><circle cx="515.4" cy="437.5" r="5.0"/><circle cx="515.4" cy="360.2" r="8.5"/><circle cx="513.3" cy="423.4" r="6.0"/><circle cx="510.8" cy="529.5" r="8.0"/><circle cx="510.8" cy="451.4" r="7.0"/><circle cx="510.6" cy="444.9" r="6.0"/><circle cx="510.6" cy="375.0" r="6.0"/><circle cx="509.4" cy="478.3" r="6.5"/></g>
<g class="c13"><circle cx="510.0" cy="407.2" r="3.5"/><circle cx="508.6" cy="426.1" r="4.0"/><circle cx="508.6" cy="378.3" r="4.0"/><circle cx="508.6" cy="165.2" r="3.5"/><circle cx="508.1" cy="469.6" r="6.0"/><circle cx="508.0" cy="394.5" r="5.0"/><circle cx="507.8" cy="286.3" r="5.0"/><circle cx="506.9" cy="354.4" r="4.5"/><circle cx="505.3" cy="416.7" r="4.5"/><circle cx="504.6" cy="388.4" r="6.0"/><circle cx="504.6" cy="305.7" r="8.0"/><circle cx="503.9" cy="428.8" r="6.0"/><circle cx="503.4" cy="460.2" r="4.0"/><circle cx="502.7" cy="491.8" r="5.5"/><circle cx="502.6" cy="283.6" r="4.0"/><circle cx="501.2" cy="403.2" r="9.0"/></g>
<g class="c12"><circle cx="499.2" cy="378.3" r="8.0"/><circle cx="498.8" cy="468.4" r="5.9"/><circle cx="498.6" cy="481.6" r="4.8"/><circle cx="498.5" cy="322.0" r="4.5"/><circle cx="498.5" cy="320.5" r="7.5"/><circle cx="497.9" cy="432.8" r="4.0"/><circle cx="497.9" cy="464.6" r="5.2"/><circle cx="497.2" cy="422.0" r="5.5"/><circle cx="497.2" cy="333.9" r="4.0"/><circle cx="496.2" cy="469.8" r="5.3"/><circle cx="496.1" cy="455.7" r="5.1"/><circle cx="496.1" cy="343.3" r="5.5"/><circle cx="495.9" cy="411.3" r="6.0"/><circle cx="494.8" cy="231.0" r="3.5"/><circle cx="493.8" cy="443.6" r="7.5"/><circle cx="493.4" cy="460.6" r="4.6"/><circle cx="493.2" cy="416.7" r="5.0"/><circle cx="492.9" cy="449.6" r="6.2"/><circle cx="491.8" cy="428.8" r="6.0"/><circle cx="491.2" cy="454.1" r="6.1"/><circle cx="489.2" cy="463.0" r="5.3"/><circle cx="488.5" cy="474.3" r="5.8"/><circle cx="488.3" cy="508.0" r="7.5"/></g>
<g class="c11"><circle cx="489.1" cy="399.2" r="3.0"/><circle cx="489.1" cy="343.3" r="3.0"/><circle cx="487.6" cy="478.0" r="5.9"/><circle cx="487.1" cy="379.7" r="5.0"/><circle cx="487.1" cy="332.6" r="6.0"/><circle cx="486.7" cy="363.1" r="4.0"/><circle cx="486.5" cy="455.0" r="4.6"/><circle cx="486.5" cy="474.2" r="5.6"/><circle cx="485.1" cy="434.2" r="4.0"/><circle cx="485.1" cy="426.1" r="4.0"/><circle cx="485.1" cy="412.6" r="4.0"/><circle cx="485.0" cy="504.0" r="6.5"/><circle cx="484.6" cy="459.5" r="4.0"/><circle cx="484.4" cy="397.8" r="4.5"/><circle cx="484.4" cy="339.3" r="6.0"/><circle cx="484.3" cy="458.0" r="4.3"/><circle cx="483.9" cy="470.9" r="4.5"/><circle cx="483.8" cy="449.5" r="7.2"/><circle cx="482.4" cy="407.2" r="4.0"/><circle cx="482.4" cy="386.4" r="5.5"/><circle cx="481.1" cy="419.4" r="6.0"/><circle cx="481.1" cy="381.7" r="4.5"/><circle cx="481.0" cy="292.8" r="6.0"/><circle cx="479.7" cy="439.5" r="5.0"/><circle cx="479.2" cy="466.5" r="5.6"/><circle cx="478.4" cy="428.8" r="6.0"/><circle cx="478.4" cy="399.2" r="6.0"/><circle cx="477.7" cy="212.0" r="3.0"/><circle cx="475.7" cy="411.3" r="6.0"/><circle cx="475.7" cy="358.8" r="6.0"/><circle cx="475.0" cy="378.3" r="6.5"/><circle cx="473.5" cy="465.4" r="7.8"/><circle cx="473.0" cy="422.0" r="5.0"/><circle cx="472.8" cy="523.2" r="6.0"/><circle cx="471.7" cy="480.3" r="7.8"/><circle cx="471.6" cy="401.9" r="6.5"/><circle cx="471.4" cy="469.7" r="4.4"/><circle cx="471.2" cy="462.8" r="5.0"/><circle cx="470.4" cy="451.9" r="6.5"/><circle cx="470.3" cy="442.2" r="6.5"/><circle cx="469.8" cy="530.0" r="8.5"/><circle cx="469.3" cy="460.3" r="6.2"/><circle cx="469.3" cy="486.7" r="8.0"/><circle cx="468.0" cy="500.8" r="6.0"/></g>
<g class="c10"><circle cx="470.3" cy="430.1" r="5.0"/><circle cx="469.6" cy="399.2" r="4.0"/><circle cx="468.3" cy="338.6" r="4.0"/><circle cx="467.6" cy="351.4" r="5.5"/><circle cx="467.6" cy="333.3" r="5.5"/><circle cx="466.9" cy="417.3" r="7.0"/><circle cx="466.3" cy="393.8" r="6.0"/><circle cx="464.9" cy="319.8" r="5.5"/><circle cx="464.7" cy="452.3" r="7.2"/><circle cx="464.2" cy="360.2" r="5.0"/><circle cx="464.1" cy="222.7" r="6.5"/><circle cx="463.3" cy="293.4" r="6.5"/><circle cx="463.0" cy="300.0" r="6.0"/><circle cx="462.9" cy="430.8" r="6.5"/><circle cx="461.7" cy="253.8" r="5.0"/><circle cx="460.9" cy="363.5" r="4.0"/><circle cx="460.2" cy="443.6" r="6.0"/><circle cx="460.2" cy="325.2" r="6.0"/><circle cx="460.1" cy="446.1" r="8.4"/><circle cx="459.8" cy="383.0" r="5.5"/><circle cx="459.3" cy="237.8" r="3.5"/><circle cx="458.9" cy="338.6" r="6.5"/><circle cx="458.8" cy="450.8" r="8.6"/><circle cx="458.6" cy="448.8" r="5.2"/><circle cx="458.2" cy="405.9" r="6.0"/><circle cx="458.2" cy="268.7" r="5.0"/><circle cx="457.5" cy="371.6" r="5.0"/><circle cx="457.5" cy="456.2" r="6.4"/><circle cx="456.2" cy="325.2" r="2.0"/><circle cx="455.5" cy="349.4" r="8.0"/><circle cx="454.4" cy="501.3" r="4.5"/><circle cx="454.1" cy="394.5" r="8.5"/><circle cx="453.8" cy="561.2" r="6.5"/><circle cx="453.0" cy="510.8" r="4.0"/><circle cx="452.8" cy="414.2" r="3.5"/><circle cx="452.2" cy="544.7" r="8.0"/><circle cx="452.1" cy="366.2" r="5.5"/><circle cx="450.9" cy="454.0" r="7.7"/><circle cx="450.8" cy="444.9" r="3.5"/><circle cx="450.8" cy="444.9" r="6.0"/><circle cx="450.8" cy="444.9" r="8.5"/><circle cx="449.4" cy="430.8" r="8.0"/></g>
<g class="c9"><circle cx="453.9" cy="607.3" r="7.9"/><circle cx="453.7" cy="662.4" r="8.2"/><circle cx="453.6" cy="612.3" r="9.4"/><circle cx="452.2" cy="600.4" r="7.6"/><circle cx="452.2" cy="617.5" r="7.4"/><circle cx="451.8" cy="628.0" r="6.6"/><circle cx="451.7" cy="622.6" r="8.4"/><circle cx="449.8" cy="615.4" r="8.0"/><circle cx="449.6" cy="610.7" r="9.1"/><circle cx="449.2" cy="621.1" r="8.0"/><circle cx="448.7" cy="659.5" r="9.8"/><circle cx="448.5" cy="597.2" r="7.6"/><circle cx="447.6" cy="630.0" r="6.9"/><circle cx="447.3" cy="679.3" r="8.9"/><circle cx="446.5" cy="672.1" r="9.3"/><circle cx="446.3" cy="653.7" r="7.7"/><circle cx="446.3" cy="642.3" r="7.0"/><circle cx="446.2" cy="636.2" r="8.1"/><circle cx="445.9" cy="602.7" r="6.4"/><circle cx="445.5" cy="648.5" r="6.1"/><circle cx="445.4" cy="669.0" r="7.0"/><circle cx="444.9" cy="628.2" r="6.6"/><circle cx="444.7" cy="606.2" r="6.9"/><circle cx="442.0" cy="669.9" r="8.6"/><circle cx="441.1" cy="661.6" r="6.2"/><circle cx="441.0" cy="664.8" r="6.7"/><circle cx="440.4" cy="592.7" r="6.0"/><circle cx="440.4" cy="634.5" r="9.1"/><circle cx="439.9" cy="569.5" r="7.4"/><circle cx="439.9" cy="688.0" r="7.0"/><circle cx="439.3" cy="548.6" r="6.1"/><circle cx="438.9" cy="683.0" r="6.4"/><circle cx="438.5" cy="641.3" r="7.8"/><circle cx="437.7" cy="578.3" r="8.2"/><circle cx="437.5" cy="624.3" r="10.0"/><circle cx="437.3" cy="655.8" r="6.7"/><circle cx="436.5" cy="638.4" r="7.0"/><circle cx="436.2" cy="590.6" r="8.2"/><circle cx="436.2" cy="588.6" r="7.0"/><circle cx="435.8" cy="634.2" r="8.4"/><circle cx="434.7" cy="598.8" r="7.9"/><circle cx="434.3" cy="594.2" r="6.7"/><circle cx="433.1" cy="616.1" r="6.2"/><circle cx="432.4" cy="678.3" r="8.3"/><circle cx="432.2" cy="589.1" r="6.5"/><circle cx="431.7" cy="662.2" r="6.2"/><circle cx="431.4" cy="607.5" r="7.4"/><circle cx="430.8" cy="655.4" r="7.6"/><circle cx="430.7" cy="599.1" r="6.6"/><circle cx="430.6" cy="565.7" r="6.0"/><circle cx="429.6" cy="686.3" r="8.3"/><circle cx="429.3" cy="666.8" r="6.6"/><circle cx="428.9" cy="664.1" r="6.1"/><circle cx="428.5" cy="620.0" r="6.4"/><circle cx="428.5" cy="675.5" r="7.2"/><circle cx="428.1" cy="656.8" r="6.3"/><circle cx="427.2" cy="618.4" r="8.6"/><circle cx="427.1" cy="640.4" r="7.1"/><circle cx="427.0" cy="621.6" r="6.1"/><circle cx="427.0" cy="596.0" r="7.2"/><circle cx="426.5" cy="614.8" r="7.2"/><circle cx="425.6" cy="632.5" r="6.4"/><circle cx="425.4" cy="611.2" r="7.4"/><circle cx="425.3" cy="690.0" r="9.2"/><circle cx="425.1" cy="658.8" r="7.8"/><circle cx="425.0" cy="605.0" r="6.4"/><circle cx="424.2" cy="643.9" r="8.6"/><circle cx="424.0" cy="647.5" r="9.9"/><circle cx="424.0" cy="674.7" r="6.8"/><circle cx="423.8" cy="682.0" r="8.6"/><circle cx="423.8" cy="558.8" r="7.2"/><circle cx="423.5" cy="676.5" r="9.6"/><circle cx="423.4" cy="637.5" r="9.2"/><circle cx="423.4" cy="650.8" r="8.1"/><circle cx="423.3" cy="672.5" r="7.9"/><circle cx="422.8" cy="618.9" r="7.9"/><circle cx="422.8" cy="601.5" r="7.7"/><circle cx="422.5" cy="625.9" r="6.6"/><circle cx="421.9" cy="626.9" r="9.2"/><circle cx="421.7" cy="632.8" r="6.2"/><circle cx="421.1" cy="585.8" r="6.5"/><circle cx="420.9" cy="659.1" r="8.4"/><circle cx="420.8" cy="609.2" r="6.5"/><circle cx="419.7" cy="623.6" r="6.9"/><circle cx="418.7" cy="650.2" r="7.6"/><circle cx="418.2" cy="640.0" r="9.9"/><circle cx="418.0" cy="636.5" r="8.2"/><circle cx="417.6" cy="667.2" r="7.1"/><circle cx="417.5" cy="613.7" r="7.7"/><circle cx="416.9" cy="645.1" r="8.8"/><circle cx="415.1" cy="586.3" r="7.8"/><circle cx="415.1" cy="573.8" r="6.5"/><circle cx="414.9" cy="591.0" r="9.5"/><circle cx="414.7" cy="664.4" r="6.2"/><circle cx="413.3" cy="563.1" r="9.9"/><circle cx="412.9" cy="646.0" r="6.3"/><circle cx="411.9" cy="629.3" r="9.6"/><circle cx="411.9" cy="631.2" r="7.3"/><circle cx="411.5" cy="652.7" r="8.4"/><circle cx="410.5" cy="625.6" r="8.9"/></g>
<g class="c8"><circle cx="413.9" cy="627.7" r="10.1"/><circle cx="413.2" cy="643.6" r="6.0"/><circle cx="412.8" cy="599.0" r="6.6"/><circle cx="412.3" cy="667.9" r="7.8"/><circle cx="411.1" cy="686.2" r="8.0"/><circle cx="410.9" cy="671.6" r="10.1"/><circle cx="410.7" cy="603.0" r="6.6"/><circle cx="410.6" cy="592.9" r="7.7"/><circle cx="410.1" cy="665.5" r="6.1"/><circle cx="409.4" cy="674.2" r="6.4"/><circle cx="409.1" cy="623.0" r="6.8"/><circle cx="408.1" cy="551.9" r="8.2"/><circle cx="408.0" cy="621.1" r="9.7"/><circle cx="407.9" cy="620.4" r="7.1"/><circle cx="407.6" cy="606.0" r="8.0"/><circle cx="407.3" cy="624.2" r="7.7"/><circle cx="407.0" cy="648.9" r="9.7"/><circle cx="406.8" cy="651.5" r="8.2"/><circle cx="406.8" cy="640.1" r="7.1"/><circle cx="406.7" cy="623.3" r="7.1"/><circle cx="406.7" cy="660.9" r="9.7"/><circle cx="404.9" cy="677.6" r="7.8"/><circle cx="404.4" cy="687.0" r="8.0"/><circle cx="403.8" cy="646.6" r="7.4"/><circle cx="403.6" cy="626.7" r="6.9"/><circle cx="403.4" cy="630.3" r="6.1"/><circle cx="403.3" cy="667.9" r="6.3"/><circle cx="403.1" cy="631.9" r="8.1"/><circle cx="403.0" cy="611.2" r="6.5"/><circle cx="403.0" cy="678.7" r="7.5"/><circle cx="401.4" cy="632.9" r="6.6"/><circle cx="401.0" cy="672.0" r="6.3"/><circle cx="399.9" cy="610.3" r="6.4"/><circle cx="399.3" cy="625.6" r="8.9"/><circle cx="399.1" cy="642.1" r="7.8"/><circle cx="398.6" cy="680.9" r="8.2"/><circle cx="398.5" cy="568.1" r="8.0"/><circle cx="397.7" cy="636.6" r="6.3"/><circle cx="396.8" cy="664.5" r="6.3"/><circle cx="396.4" cy="637.5" r="6.0"/><circle cx="395.5" cy="596.0" r="8.0"/><circle cx="395.0" cy="571.7" r="7.9"/><circle cx="394.9" cy="563.6" r="8.9"/><circle cx="394.7" cy="612.9" r="6.0"/><circle cx="394.1" cy="645.0" r="6.9"/><circle cx="393.9" cy="577.5" r="6.1"/><circle cx="393.0" cy="572.1" r="7.9"/><circle cx="392.9" cy="644.6" r="7.9"/><circle cx="392.7" cy="587.1" r="6.1"/><circle cx="392.2" cy="584.3" r="8.2"/><circle cx="391.5" cy="558.4" r="9.6"/><circle cx="390.5" cy="656.8" r="9.1"/><circle cx="390.1" cy="661.0" r="8.3"/><circle cx="390.0" cy="580.6" r="6.6"/><circle cx="389.9" cy="605.2" r="6.4"/><circle cx="389.8" cy="656.0" r="10.4"/><circle cx="388.2" cy="633.9" r="8.9"/><circle cx="388.1" cy="629.9" r="9.9"/><circle cx="387.3" cy="590.1" r="9.4"/><circle cx="386.6" cy="546.4" r="7.0"/><circle cx="386.4" cy="658.3" r="6.6"/><circle cx="386.1" cy="635.3" r="7.4"/><circle cx="385.8" cy="619.3" r="6.6"/><circle cx="385.2" cy="598.9" r="7.3"/><circle cx="384.4" cy="607.6" r="6.1"/><circle cx="383.7" cy="653.3" r="6.1"/><circle cx="383.5" cy="497.7" r="7.5"/><circle cx="383.1" cy="608.5" r="9.5"/><circle cx="383.1" cy="615.2" r="7.5"/><circle cx="382.8" cy="616.5" r="9.2"/><circle cx="382.4" cy="641.2" r="7.8"/><circle cx="381.9" cy="614.6" r="6.8"/><circle cx="381.5" cy="628.2" r="9.8"/><circle cx="381.3" cy="602.0" r="6.0"/><circle cx="380.6" cy="652.3" r="8.9"/><circle cx="380.3" cy="598.2" r="10.4"/><circle cx="379.7" cy="661.8" r="6.9"/><circle cx="379.0" cy="647.8" r="6.2"/><circle cx="378.3" cy="618.5" r="9.8"/><circle cx="378.2" cy="638.9" r="9.9"/><circle cx="377.0" cy="478.0" r="10.0"/><circle cx="376.2" cy="632.3" r="7.9"/></g>
<g class="c7"><circle cx="380.5" cy="595.0" r="6.5"/><circle cx="380.3" cy="590.3" r="4.2"/><circle cx="380.3" cy="578.8" r="6.6"/><circle cx="379.7" cy="620.4" r="7.9"/><circle cx="379.6" cy="628.2" r="4.7"/><circle cx="378.8" cy="635.3" r="7.0"/><circle cx="378.7" cy="623.6" r="5.1"/><circle cx="378.3" cy="609.5" r="4.3"/><circle cx="378.1" cy="623.8" r="5.6"/><circle cx="378.0" cy="639.2" r="6.7"/><circle cx="377.5" cy="610.7" r="6.1"/><circle cx="377.4" cy="579.7" r="5.0"/><circle cx="376.7" cy="637.3" r="5.1"/><circle cx="376.5" cy="604.7" r="7.7"/><circle cx="376.5" cy="617.2" r="5.9"/><circle cx="376.3" cy="582.0" r="6.6"/><circle cx="375.8" cy="688.9" r="8.0"/><circle cx="375.3" cy="614.6" r="4.4"/><circle cx="374.9" cy="585.7" r="5.5"/><circle cx="374.4" cy="575.9" r="6.1"/><circle cx="374.4" cy="584.4" r="4.3"/><circle cx="374.2" cy="606.1" r="4.3"/><circle cx="373.7" cy="569.2" r="7.1"/><circle cx="373.6" cy="649.7" r="6.5"/><circle cx="373.5" cy="632.5" r="6.2"/><circle cx="372.7" cy="587.5" r="7.9"/><circle cx="372.1" cy="615.5" r="5.4"/><circle cx="370.0" cy="603.2" r="5.3"/><circle cx="369.4" cy="607.3" r="4.0"/><circle cx="368.8" cy="630.6" r="5.2"/><circle cx="368.1" cy="597.0" r="6.0"/><circle cx="366.5" cy="627.4" r="5.3"/><circle cx="366.1" cy="572.3" r="4.1"/><circle cx="365.9" cy="619.7" r="4.0"/><circle cx="365.1" cy="611.4" r="6.7"/><circle cx="364.5" cy="597.6" r="4.3"/><circle cx="363.9" cy="612.7" r="4.1"/><circle cx="362.1" cy="599.1" r="6.3"/><circle cx="361.8" cy="600.4" r="6.2"/><circle cx="361.7" cy="641.9" r="4.9"/><circle cx="361.3" cy="571.5" r="5.1"/><circle cx="360.4" cy="593.8" r="6.6"/><circle cx="360.3" cy="601.6" r="4.0"/><circle cx="360.2" cy="591.4" r="4.0"/></g>
<g class="c6"><circle cx="362.0" cy="598.2" r="6.8"/><circle cx="361.7" cy="619.4" r="6.8"/><circle cx="360.9" cy="617.7" r="6.3"/><circle cx="359.2" cy="582.3" r="5.3"/><circle cx="358.9" cy="595.7" r="6.8"/><circle cx="358.2" cy="569.5" r="5.8"/><circle cx="357.9" cy="568.4" r="5.4"/><circle cx="357.8" cy="565.2" r="6.1"/><circle cx="357.4" cy="613.4" r="6.7"/><circle cx="357.0" cy="518.7" r="7.0"/><circle cx="357.0" cy="600.5" r="5.3"/><circle cx="356.4" cy="603.9" r="6.8"/><circle cx="356.3" cy="626.4" r="5.5"/><circle cx="356.1" cy="575.3" r="7.9"/><circle cx="355.7" cy="537.0" r="6.0"/><circle cx="355.5" cy="600.4" r="5.4"/><circle cx="355.4" cy="594.0" r="5.7"/><circle cx="355.3" cy="615.3" r="5.0"/><circle cx="354.6" cy="624.7" r="6.5"/><circle cx="353.7" cy="610.7" r="5.7"/><circle cx="353.6" cy="501.7" r="7.5"/><circle cx="353.4" cy="580.1" r="6.7"/><circle cx="353.2" cy="633.9" r="6.6"/><circle cx="352.5" cy="589.4" r="5.6"/><circle cx="352.2" cy="586.1" r="6.6"/><circle cx="352.2" cy="555.1" r="7.6"/><circle cx="352.1" cy="579.0" r="7.3"/><circle cx="352.0" cy="560.7" r="6.4"/><circle cx="351.8" cy="562.9" r="6.0"/><circle cx="351.6" cy="577.2" r="7.2"/><circle cx="351.0" cy="584.1" r="7.3"/><circle cx="350.3" cy="587.4" r="5.1"/><circle cx="349.6" cy="621.9" r="6.5"/><circle cx="349.1" cy="591.4" r="6.9"/><circle cx="348.6" cy="596.6" r="6.2"/><circle cx="348.0" cy="527.0" r="7.0"/><circle cx="347.0" cy="628.7" r="5.1"/><circle cx="347.0" cy="633.1" r="5.9"/><circle cx="346.4" cy="572.5" r="5.8"/><circle cx="346.1" cy="638.8" r="6.5"/><circle cx="345.9" cy="557.8" r="5.6"/><circle cx="345.2" cy="609.6" r="5.2"/><circle cx="344.7" cy="591.8" r="7.6"/><circle cx="344.6" cy="608.6" r="7.6"/><circle cx="344.4" cy="606.6" r="5.6"/><circle cx="343.9" cy="602.9" r="7.0"/></g>
<g class="c5"><circle cx="341.5" cy="602.5" r="9.0"/><circle cx="341.3" cy="590.6" r="8.7"/><circle cx="340.0" cy="656.5" r="6.5"/><circle cx="339.4" cy="609.7" r="7.3"/><circle cx="339.2" cy="571.0" r="7.6"/><circle cx="338.9" cy="604.6" r="6.2"/><circle cx="338.9" cy="588.2" r="6.0"/><circle cx="338.8" cy="613.2" r="6.6"/><circle cx="338.1" cy="625.2" r="6.2"/><circle cx="337.0" cy="585.0" r="6.4"/><circle cx="335.7" cy="558.1" r="8.5"/><circle cx="335.7" cy="584.0" r="8.0"/><circle cx="335.3" cy="616.2" r="9.9"/><circle cx="335.1" cy="592.0" r="8.3"/><circle cx="334.5" cy="576.4" r="7.4"/><circle cx="334.2" cy="568.9" r="9.4"/><circle cx="334.0" cy="656.5" r="6.5"/><circle cx="334.0" cy="542.0" r="8.0"/><circle cx="333.7" cy="567.5" r="9.2"/><circle cx="333.6" cy="595.9" r="7.6"/><circle cx="333.5" cy="574.7" r="8.9"/><circle cx="333.4" cy="618.7" r="7.6"/><circle cx="332.5" cy="560.9" r="8.7"/><circle cx="331.7" cy="562.3" r="7.5"/><circle cx="331.6" cy="554.2" r="7.0"/><circle cx="330.1" cy="610.8" r="8.7"/><circle cx="329.1" cy="556.4" r="6.5"/><circle cx="329.0" cy="447.7" r="7.2"/><circle cx="328.9" cy="628.8" r="8.8"/><circle cx="328.6" cy="580.2" r="6.4"/><circle cx="327.8" cy="597.4" r="9.0"/><circle cx="326.2" cy="588.5" r="8.9"/><circle cx="325.8" cy="615.0" r="6.6"/><circle cx="325.4" cy="468.7" r="9.2"/><circle cx="325.3" cy="637.4" r="8.7"/><circle cx="325.2" cy="635.3" r="7.2"/><circle cx="325.2" cy="626.8" r="8.9"/><circle cx="325.0" cy="531.6" r="10.0"/><circle cx="325.0" cy="516.0" r="10.0"/><circle cx="325.0" cy="471.5" r="9.0"/><circle cx="324.9" cy="624.8" r="6.0"/><circle cx="324.6" cy="608.0" r="9.4"/><circle cx="323.8" cy="596.8" r="6.9"/><circle cx="323.7" cy="599.6" r="9.1"/><circle cx="323.7" cy="594.7" r="8.5"/><circle cx="323.4" cy="494.7" r="10.0"/><circle cx="323.2" cy="565.5" r="6.5"/><circle cx="321.9" cy="583.1" r="6.5"/><circle cx="321.3" cy="581.3" r="9.7"/><circle cx="320.9" cy="577.6" r="6.9"/><circle cx="320.5" cy="586.6" r="7.5"/><circle cx="319.8" cy="573.3" r="6.7"/><circle cx="319.5" cy="590.4" r="8.2"/><circle cx="319.4" cy="620.9" r="6.8"/><circle cx="319.2" cy="593.0" r="7.6"/><circle cx="318.7" cy="607.4" r="7.4"/><circle cx="318.3" cy="632.6" r="9.2"/><circle cx="318.3" cy="617.3" r="6.4"/><circle cx="318.0" cy="633.5" r="8.1"/><circle cx="317.5" cy="563.8" r="7.5"/><circle cx="317.1" cy="578.4" r="8.2"/><circle cx="317.0" cy="605.7" r="6.5"/><circle cx="316.9" cy="621.6" r="9.8"/><circle cx="316.8" cy="612.4" r="7.2"/><circle cx="316.3" cy="599.1" r="8.9"/><circle cx="314.1" cy="603.3" r="7.6"/><circle cx="314.0" cy="600.6" r="6.5"/></g>
<g class="c4"><circle cx="311.9" cy="616.0" r="8.7"/><circle cx="311.8" cy="567.5" r="8.2"/><circle cx="311.6" cy="581.0" r="8.0"/><circle cx="311.5" cy="591.5" r="7.6"/><circle cx="310.8" cy="600.5" r="9.6"/><circle cx="310.2" cy="559.5" r="6.6"/><circle cx="310.2" cy="622.7" r="8.4"/><circle cx="310.1" cy="642.3" r="6.1"/><circle cx="309.8" cy="597.3" r="6.5"/><circle cx="309.3" cy="636.8" r="6.1"/><circle cx="309.1" cy="636.3" r="6.3"/><circle cx="309.1" cy="589.6" r="6.4"/><circle cx="308.9" cy="573.4" r="8.9"/><circle cx="308.7" cy="588.3" r="6.2"/><circle cx="306.8" cy="614.1" r="6.5"/><circle cx="306.0" cy="621.1" r="6.2"/><circle cx="305.9" cy="554.5" r="7.2"/><circle cx="305.8" cy="594.6" r="6.0"/><circle cx="305.8" cy="627.7" r="7.7"/><circle cx="305.4" cy="609.3" r="7.4"/><circle cx="304.5" cy="590.6" r="6.7"/><circle cx="304.0" cy="557.8" r="6.0"/><circle cx="302.6" cy="571.7" r="6.9"/><circle cx="302.1" cy="575.7" r="7.9"/><circle cx="302.0" cy="580.1" r="9.1"/><circle cx="301.9" cy="565.3" r="9.3"/><circle cx="301.0" cy="618.0" r="7.7"/><circle cx="300.3" cy="603.5" r="8.0"/><circle cx="300.2" cy="574.5" r="7.1"/><circle cx="299.5" cy="547.4" r="8.0"/><circle cx="299.4" cy="648.9" r="9.7"/><circle cx="298.9" cy="540.5" r="7.2"/><circle cx="298.9" cy="578.1" r="8.2"/><circle cx="298.0" cy="674.0" r="8.0"/><circle cx="297.3" cy="625.1" r="6.3"/><circle cx="296.4" cy="556.9" r="9.7"/><circle cx="296.1" cy="596.1" r="7.7"/><circle cx="295.6" cy="479.0" r="6.0"/><circle cx="295.0" cy="563.7" r="9.0"/><circle cx="294.6" cy="552.6" r="9.7"/><circle cx="294.1" cy="533.1" r="9.4"/><circle cx="294.0" cy="610.2" r="6.6"/><circle cx="293.9" cy="601.6" r="6.2"/><circle cx="293.8" cy="535.2" r="8.8"/><circle cx="293.8" cy="579.1" r="8.3"/><circle cx="293.6" cy="454.3" r="9.0"/><circle cx="292.9" cy="595.2" r="6.1"/><circle cx="292.4" cy="584.7" r="6.1"/><circle cx="291.7" cy="569.6" r="9.1"/><circle cx="291.4" cy="631.9" r="10.0"/><circle cx="291.4" cy="551.4" r="6.0"/><circle cx="291.4" cy="568.9" r="7.6"/><circle cx="291.1" cy="629.8" r="8.2"/><circle cx="290.7" cy="562.1" r="6.1"/><circle cx="290.4" cy="641.3" r="8.3"/><circle cx="289.7" cy="592.7" r="8.2"/><circle cx="289.1" cy="598.6" r="6.4"/><circle cx="288.9" cy="583.2" r="8.7"/><circle cx="288.9" cy="615.3" r="6.9"/><circle cx="288.6" cy="604.0" r="8.9"/><circle cx="288.4" cy="549.3" r="9.5"/><circle cx="288.2" cy="585.3" r="8.1"/><circle cx="288.2" cy="606.9" r="6.2"/><circle cx="288.0" cy="632.9" r="7.6"/><circle cx="288.0" cy="586.1" r="6.5"/><circle cx="287.8" cy="540.6" r="9.3"/><circle cx="286.3" cy="619.4" r="8.7"/><circle cx="285.5" cy="544.7" r="7.6"/><circle cx="285.4" cy="611.9" r="9.1"/><circle cx="284.6" cy="645.8" r="6.0"/><circle cx="284.1" cy="605.3" r="6.0"/><circle cx="280.3" cy="434.6" r="10.5"/></g>
<g class="c3"><circle cx="282.4" cy="585.5" r="9.0"/><circle cx="281.8" cy="571.7" r="6.6"/><circle cx="281.5" cy="528.8" r="8.1"/><circle cx="281.0" cy="562.4" r="6.1"/><circle cx="280.5" cy="508.0" r="8.4"/><circle cx="280.3" cy="504.9" r="6.4"/><circle cx="279.9" cy="554.6" r="7.1"/><circle cx="279.6" cy="432.9" r="6.7"/><circle cx="279.3" cy="606.7" r="6.0"/><circle cx="279.3" cy="535.5" r="6.2"/><circle cx="279.1" cy="327.8" r="10.4"/><circle cx="278.9" cy="635.2" r="7.9"/><circle cx="278.7" cy="559.3" r="7.8"/><circle cx="278.5" cy="576.2" r="6.7"/><circle cx="278.4" cy="613.7" r="8.2"/><circle cx="278.4" cy="626.2" r="8.3"/><circle cx="278.1" cy="544.3" r="6.7"/><circle cx="277.9" cy="515.2" r="6.8"/><circle cx="277.3" cy="406.0" r="7.7"/><circle cx="277.2" cy="609.7" r="6.3"/><circle cx="274.9" cy="636.1" r="6.0"/><circle cx="274.6" cy="550.4" r="8.9"/><circle cx="274.5" cy="568.5" r="6.8"/><circle cx="273.7" cy="523.3" r="6.1"/><circle cx="273.5" cy="541.9" r="6.5"/><circle cx="273.5" cy="519.5" r="6.1"/><circle cx="273.3" cy="547.1" r="7.0"/><circle cx="273.3" cy="621.5" r="6.1"/><circle cx="272.8" cy="584.9" r="8.1"/><circle cx="272.7" cy="594.4" r="6.1"/><circle cx="272.1" cy="537.6" r="8.6"/><circle cx="271.3" cy="531.5" r="7.2"/><circle cx="270.5" cy="555.4" r="7.4"/></g>
<g class="c2"><circle cx="273.8" cy="631.7" r="5.8"/><circle cx="273.3" cy="695.2" r="6.4"/><circle cx="272.7" cy="673.0" r="5.2"/><circle cx="272.5" cy="682.8" r="5.3"/><circle cx="271.4" cy="666.0" r="5.5"/><circle cx="270.8" cy="628.6" r="8.6"/><circle cx="270.4" cy="614.5" r="5.1"/><circle cx="269.4" cy="566.0" r="7.0"/><circle cx="269.3" cy="605.4" r="6.2"/><circle cx="268.7" cy="644.1" r="6.9"/><circle cx="268.7" cy="647.5" r="7.3"/><circle cx="268.0" cy="612.5" r="6.1"/><circle cx="267.0" cy="637.2" r="5.2"/><circle cx="266.9" cy="655.8" r="8.5"/><circle cx="266.0" cy="626.5" r="7.5"/><circle cx="265.0" cy="629.6" r="8.8"/><circle cx="265.0" cy="667.0" r="5.2"/><circle cx="264.1" cy="679.8" r="6.3"/><circle cx="263.4" cy="644.8" r="5.9"/><circle cx="262.9" cy="670.6" r="6.1"/><circle cx="262.3" cy="648.5" r="5.5"/><circle cx="261.4" cy="622.3" r="8.2"/><circle cx="261.0" cy="652.8" r="6.1"/><circle cx="260.9" cy="600.0" r="8.8"/><circle cx="260.8" cy="664.3" r="5.9"/><circle cx="260.0" cy="536.0" r="6.5"/><circle cx="259.0" cy="525.0" r="7.0"/><circle cx="258.8" cy="606.0" r="5.3"/><circle cx="258.6" cy="504.0" r="7.0"/><circle cx="258.0" cy="693.0" r="6.2"/><circle cx="258.0" cy="633.5" r="6.7"/><circle cx="258.0" cy="556.0" r="9.5"/><circle cx="258.0" cy="514.0" r="7.0"/><circle cx="257.7" cy="659.6" r="6.3"/><circle cx="257.6" cy="648.7" r="5.1"/><circle cx="256.8" cy="686.5" r="6.7"/><circle cx="256.1" cy="642.1" r="8.5"/><circle cx="254.2" cy="657.0" r="5.1"/><circle cx="253.6" cy="617.8" r="5.9"/><circle cx="253.5" cy="607.7" r="5.5"/><circle cx="253.3" cy="635.7" r="6.4"/><circle cx="253.3" cy="667.2" r="5.4"/><circle cx="253.2" cy="661.0" r="5.0"/><circle cx="252.5" cy="901.5" r="7.0"/><circle cx="252.3" cy="609.5" r="7.9"/><circle cx="252.3" cy="632.7" r="6.5"/><circle cx="251.0" cy="620.1" r="8.1"/><circle cx="250.9" cy="677.2" r="6.9"/><circle cx="250.7" cy="623.3" r="7.5"/><circle cx="250.5" cy="678.2" r="5.1"/><circle cx="250.3" cy="682.3" r="8.5"/><circle cx="250.3" cy="661.6" r="8.5"/><circle cx="249.5" cy="675.1" r="5.9"/><circle cx="248.7" cy="629.9" r="7.9"/><circle cx="248.1" cy="600.7" r="7.8"/><circle cx="247.7" cy="701.9" r="6.8"/><circle cx="247.6" cy="653.3" r="7.8"/><circle cx="247.5" cy="646.1" r="6.1"/><circle cx="247.1" cy="702.2" r="7.6"/><circle cx="247.1" cy="658.3" r="5.8"/><circle cx="246.9" cy="624.4" r="7.3"/><circle cx="246.9" cy="699.2" r="7.1"/><circle cx="246.4" cy="704.4" r="8.4"/><circle cx="246.2" cy="641.4" r="5.0"/><circle cx="244.9" cy="683.7" r="8.0"/><circle cx="244.6" cy="688.5" r="7.5"/><circle cx="243.8" cy="562.5" r="9.5"/><circle cx="243.3" cy="694.4" r="7.8"/><circle cx="242.6" cy="651.8" r="8.2"/><circle cx="242.4" cy="643.0" r="8.1"/><circle cx="241.4" cy="625.9" r="8.2"/><circle cx="240.4" cy="658.8" r="7.8"/><circle cx="240.2" cy="634.7" r="8.4"/><circle cx="240.0" cy="639.0" r="7.9"/><circle cx="239.8" cy="675.6" r="7.7"/><circle cx="239.2" cy="669.8" r="5.4"/><circle cx="239.1" cy="610.7" r="6.7"/><circle cx="239.0" cy="685.8" r="6.6"/><circle cx="238.3" cy="673.5" r="5.3"/><circle cx="237.3" cy="671.9" r="5.0"/><circle cx="237.2" cy="680.1" r="7.8"/><circle cx="236.9" cy="691.4" r="6.5"/><circle cx="236.5" cy="602.1" r="6.4"/><circle cx="235.6" cy="646.8" r="5.5"/><circle cx="234.4" cy="653.7" r="8.3"/><circle cx="233.2" cy="615.3" r="5.1"/><circle cx="233.0" cy="654.5" r="7.2"/><circle cx="233.0" cy="697.5" r="5.1"/><circle cx="232.6" cy="689.5" r="5.8"/><circle cx="231.9" cy="636.4" r="7.9"/><circle cx="231.7" cy="657.3" r="5.6"/><circle cx="231.7" cy="663.7" r="6.3"/><circle cx="231.7" cy="638.5" r="8.7"/><circle cx="231.1" cy="617.4" r="6.6"/><circle cx="230.6" cy="668.6" r="7.0"/><circle cx="230.5" cy="640.6" r="5.5"/><circle cx="229.3" cy="651.0" r="7.8"/><circle cx="229.1" cy="662.6" r="7.0"/><circle cx="228.1" cy="650.1" r="5.3"/><circle cx="228.1" cy="620.5" r="6.8"/></g>
<g class="c1"><circle cx="230.8" cy="656.9" r="5.1"/><circle cx="230.8" cy="685.5" r="6.3"/><circle cx="230.8" cy="628.5" r="6.2"/><circle cx="230.3" cy="678.4" r="6.7"/><circle cx="229.8" cy="652.1" r="5.2"/><circle cx="229.1" cy="645.0" r="8.8"/><circle cx="228.9" cy="664.9" r="7.2"/><circle cx="228.6" cy="669.7" r="8.5"/><circle cx="228.5" cy="659.6" r="5.6"/><circle cx="228.4" cy="666.9" r="7.2"/><circle cx="227.8" cy="601.6" r="5.7"/><circle cx="227.7" cy="673.0" r="5.1"/><circle cx="227.2" cy="696.7" r="5.2"/><circle cx="227.2" cy="662.6" r="8.6"/><circle cx="227.1" cy="607.4" r="7.9"/><circle cx="225.4" cy="656.1" r="8.2"/><circle cx="225.0" cy="627.6" r="6.7"/><circle cx="224.8" cy="617.9" r="5.4"/><circle cx="224.1" cy="650.9" r="8.7"/><circle cx="224.1" cy="687.8" r="8.4"/><circle cx="221.8" cy="668.3" r="6.2"/><circle cx="221.0" cy="683.3" r="8.7"/><circle cx="220.6" cy="687.4" r="6.1"/><circle cx="220.4" cy="688.4" r="7.3"/><circle cx="220.0" cy="712.0" r="8.0"/><circle cx="219.9" cy="649.0" r="6.1"/><circle cx="219.4" cy="697.6" r="8.4"/><circle cx="219.2" cy="630.4" r="5.3"/><circle cx="219.0" cy="774.5" r="8.5"/><circle cx="218.9" cy="622.5" r="7.9"/><circle cx="218.8" cy="639.2" r="5.5"/><circle cx="218.6" cy="666.4" r="7.5"/><circle cx="218.5" cy="742.5" r="9.0"/><circle cx="216.5" cy="671.5" r="5.5"/><circle cx="216.5" cy="644.4" r="6.6"/><circle cx="216.0" cy="653.1" r="5.8"/><circle cx="216.0" cy="694.6" r="6.6"/><circle cx="215.7" cy="673.0" r="8.8"/><circle cx="214.5" cy="647.7" r="7.7"/><circle cx="214.0" cy="633.1" r="5.0"/><circle cx="213.8" cy="610.8" r="7.4"/><circle cx="213.4" cy="691.9" r="5.1"/><circle cx="213.3" cy="664.2" r="5.5"/><circle cx="213.1" cy="612.7" r="6.0"/><circle cx="212.9" cy="613.9" r="6.2"/><circle cx="212.6" cy="658.1" r="6.8"/><circle cx="211.3" cy="680.7" r="5.9"/><circle cx="210.5" cy="674.5" r="6.5"/><circle cx="210.2" cy="535.4" r="8.6"/><circle cx="210.1" cy="653.6" r="5.8"/><circle cx="210.1" cy="622.0" r="8.9"/><circle cx="209.8" cy="660.8" r="7.4"/><circle cx="209.4" cy="676.1" r="5.3"/><circle cx="209.3" cy="489.4" r="6.0"/><circle cx="208.7" cy="510.0" r="7.5"/><circle cx="208.6" cy="603.5" r="6.7"/><circle cx="208.4" cy="646.0" r="8.5"/><circle cx="208.4" cy="636.1" r="8.0"/><circle cx="208.3" cy="685.9" r="5.0"/><circle cx="208.1" cy="640.2" r="5.4"/><circle cx="208.1" cy="691.7" r="7.1"/><circle cx="207.8" cy="642.1" r="5.3"/><circle cx="207.7" cy="642.9" r="6.7"/><circle cx="207.6" cy="637.2" r="6.4"/><circle cx="206.9" cy="637.9" r="7.5"/><circle cx="206.9" cy="619.5" r="5.7"/><circle cx="206.3" cy="631.1" r="6.4"/><circle cx="205.6" cy="655.1" r="7.8"/><circle cx="205.0" cy="609.8" r="7.4"/><circle cx="204.6" cy="626.8" r="5.3"/><circle cx="203.8" cy="682.2" r="5.0"/><circle cx="202.9" cy="623.9" r="8.4"/><circle cx="202.9" cy="599.0" r="6.1"/><circle cx="201.9" cy="649.9" r="7.4"/><circle cx="201.8" cy="699.3" r="5.5"/><circle cx="201.4" cy="704.4" r="5.4"/><circle cx="201.3" cy="680.5" r="7.6"/><circle cx="201.3" cy="635.0" r="5.2"/><circle cx="200.6" cy="670.3" r="6.6"/><circle cx="200.5" cy="615.7" r="5.2"/></g>
<g class="c0"><circle cx="196.9" cy="604.4" r="8.1"/><circle cx="195.9" cy="646.8" r="6.5"/><circle cx="195.5" cy="566.0" r="7.0"/><circle cx="194.8" cy="385.3" r="8.0"/><circle cx="194.8" cy="600.9" r="8.8"/><circle cx="194.8" cy="639.1" r="8.1"/><circle cx="194.6" cy="644.8" r="7.1"/><circle cx="194.6" cy="606.2" r="5.2"/><circle cx="194.5" cy="477.5" r="7.5"/><circle cx="194.4" cy="621.2" r="5.8"/><circle cx="194.0" cy="581.6" r="7.5"/><circle cx="194.0" cy="541.5" r="6.0"/><circle cx="193.2" cy="610.5" r="6.2"/><circle cx="192.8" cy="599.9" r="8.4"/><circle cx="192.6" cy="642.3" r="5.3"/><circle cx="191.3" cy="654.0" r="7.3"/><circle cx="191.1" cy="625.3" r="6.7"/><circle cx="190.7" cy="595.7" r="5.0"/><circle cx="190.6" cy="648.2" r="5.1"/><circle cx="190.1" cy="633.9" r="5.1"/><circle cx="189.7" cy="614.1" r="7.4"/><circle cx="189.3" cy="611.5" r="7.0"/><circle cx="188.8" cy="650.6" r="8.8"/><circle cx="188.4" cy="697.0" r="6.5"/><circle cx="187.2" cy="637.3" r="7.0"/><circle cx="186.8" cy="593.1" r="5.4"/><circle cx="186.7" cy="627.1" r="8.2"/><circle cx="186.5" cy="619.0" r="6.8"/><circle cx="186.0" cy="573.0" r="7.0"/><circle cx="186.0" cy="615.2" r="6.1"/><circle cx="185.9" cy="656.8" r="6.1"/><circle cx="185.6" cy="635.8" r="5.2"/><circle cx="184.9" cy="660.8" r="5.0"/><circle cx="184.7" cy="680.5" r="6.5"/><circle cx="183.4" cy="663.1" r="6.2"/><circle cx="183.0" cy="621.6" r="5.0"/><circle cx="182.7" cy="631.3" r="6.2"/><circle cx="182.4" cy="651.7" r="5.6"/><circle cx="181.6" cy="591.0" r="6.0"/><circle cx="181.1" cy="623.3" r="6.0"/><circle cx="180.9" cy="634.5" r="5.2"/><circle cx="180.9" cy="641.7" r="5.4"/><circle cx="180.8" cy="631.2" r="5.7"/><circle cx="180.2" cy="607.7" r="5.1"/><circle cx="179.3" cy="616.9" r="5.5"/><circle cx="179.0" cy="627.9" r="8.5"/><circle cx="179.0" cy="629.0" r="5.0"/></g>
</g>
</svg>
</body></html>
